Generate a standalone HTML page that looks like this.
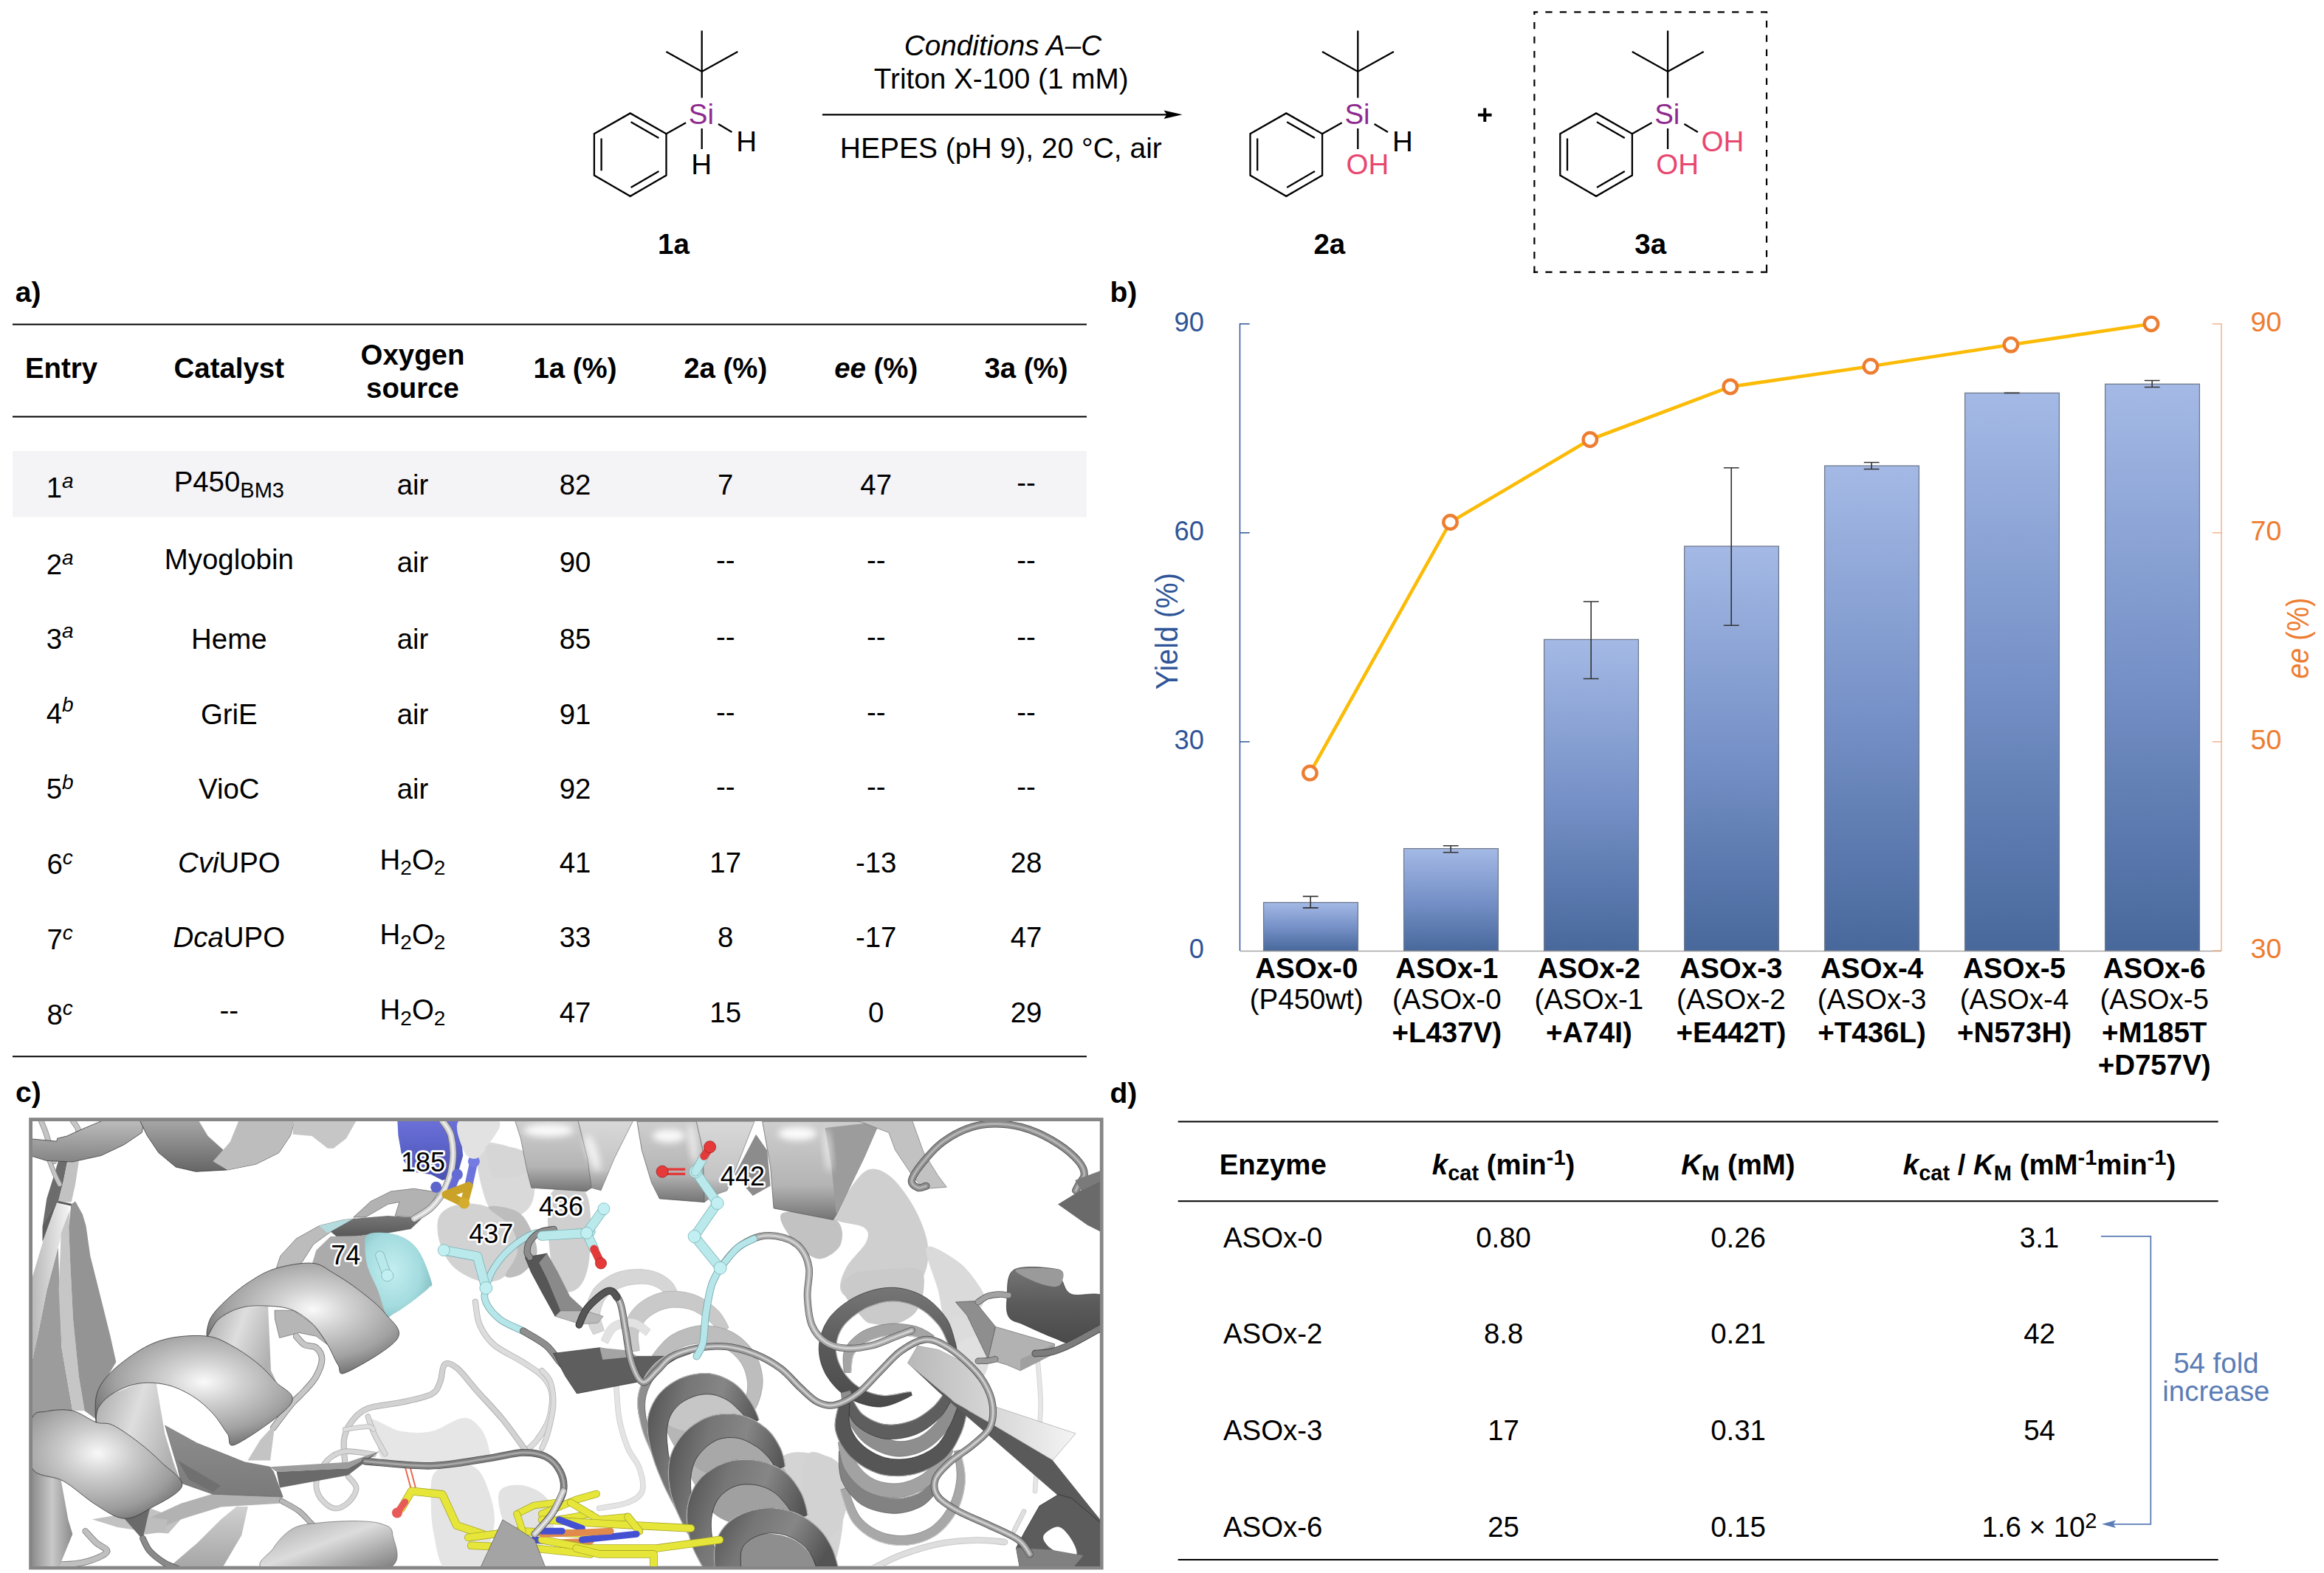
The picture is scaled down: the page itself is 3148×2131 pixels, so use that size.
<!DOCTYPE html>
<html><head><meta charset="utf-8"><title>Figure</title>
<style>
html,body{margin:0;padding:0;background:#fff;}
body{width:3148px;height:2131px;overflow:hidden;}
svg{display:block;font-family:"Liberation Sans",sans-serif;}
</style></head><body>
<svg width="3148" height="2131" viewBox="0 0 3148 2131">
<g stroke="#000" stroke-width="2.3" stroke-linecap="butt" fill="none">
<path d="M950.7 41.6 L950.7 132.4 M902.4 70 L950.7 96.9 L999.3 70"/>
<path d="M902.5 181.2 L853.7 153.4 L804.9 181.2 L804.9 237.6 L853.7 265.8 L902.5 237.6 Z" stroke-linejoin="miter"/>
<path d="M854.6 165.2 L892.4 186.9 M814.6 187.5 L814.6 231.3 M854.6 253.9 L892.4 231.9"/>
<path d="M902.5 181.2 L929.1 166.3"/>
<path d="M973.0 168 L991.4 178.9"/>
<path d="M950.7 174 L950.7 202"/>
</g>
<text x="949.9" y="167.5" font-size="38.5" text-anchor="middle" font-weight="normal" font-style="normal" fill="#8e2a8e" >Si</text>
<text x="1011.2" y="205.3" font-size="38.5" text-anchor="middle" font-weight="normal" font-style="normal" fill="#000" >H</text>
<text x="950.2" y="236.2" font-size="38.5" text-anchor="middle" font-weight="normal" font-style="normal" fill="#000" >H</text>
<g stroke="#000" stroke-width="2.3" stroke-linecap="butt" fill="none">
<path d="M1839.3 41.6 L1839.3 132.4 M1791.0 70 L1839.3 96.9 L1887.9 70"/>
<path d="M1791.1 181.2 L1742.3 153.4 L1693.5 181.2 L1693.5 237.6 L1742.3 265.8 L1791.1 237.6 Z" stroke-linejoin="miter"/>
<path d="M1743.2 165.2 L1781.0 186.9 M1703.2 187.5 L1703.2 231.3 M1743.2 253.9 L1781.0 231.9"/>
<path d="M1791.1 181.2 L1817.7 166.3"/>
<path d="M1861.6 168 L1880.0 178.9"/>
<path d="M1839.3 174 L1839.3 202"/>
</g>
<text x="1838.5" y="167.5" font-size="38.5" text-anchor="middle" font-weight="normal" font-style="normal" fill="#8e2a8e" >Si</text>
<text x="1899.8" y="205.3" font-size="38.5" text-anchor="middle" font-weight="normal" font-style="normal" fill="#000" >H</text>
<text x="1823.5" y="236.2" font-size="38.5" text-anchor="start" font-weight="normal" font-style="normal" fill="#e8476f" >OH</text>
<g stroke="#000" stroke-width="2.3" stroke-linecap="butt" fill="none">
<path d="M2259.1 41.6 L2259.1 132.4 M2210.8 70 L2259.1 96.9 L2307.7 70"/>
<path d="M2210.9 181.2 L2162.1 153.4 L2113.3 181.2 L2113.3 237.6 L2162.1 265.8 L2210.9 237.6 Z" stroke-linejoin="miter"/>
<path d="M2163.0 165.2 L2200.8 186.9 M2123.0 187.5 L2123.0 231.3 M2163.0 253.9 L2200.8 231.9"/>
<path d="M2210.9 181.2 L2237.5 166.3"/>
<path d="M2281.4 168 L2299.8 178.9"/>
<path d="M2259.1 174 L2259.1 202"/>
</g>
<text x="2258.3" y="167.5" font-size="38.5" text-anchor="middle" font-weight="normal" font-style="normal" fill="#8e2a8e" >Si</text>
<text x="2304.6" y="205.3" font-size="38.5" text-anchor="start" font-weight="normal" font-style="normal" fill="#e8476f" >OH</text>
<text x="2243.3" y="236.2" font-size="38.5" text-anchor="start" font-weight="normal" font-style="normal" fill="#e8476f" >OH</text>
<text x="912.4" y="344.0" font-size="38.5" text-anchor="middle" font-weight="bold" font-style="normal" fill="#000" >1a</text>
<text x="1800.8" y="344.0" font-size="38.5" text-anchor="middle" font-weight="bold" font-style="normal" fill="#000" >2a</text>
<text x="2235.7" y="344.0" font-size="38.5" text-anchor="middle" font-weight="bold" font-style="normal" fill="#000" >3a</text>
<line x1="1113.9" y1="155.3" x2="1585.0" y2="155.3" stroke="#000" stroke-width="2.3" />
<path d="M1601.5 155.3 L1576.5 149.6 L1580.5 155.3 L1576.5 161 Z" fill="#000"/>
<text x="1358.5" y="75.4" font-size="38.7" text-anchor="middle" font-weight="normal" font-style="italic" fill="#000" >Conditions A–C</text>
<text x="1356.2" y="119.5" font-size="38.7" text-anchor="middle" font-weight="normal" font-style="normal" fill="#000" >Triton X-100 (1 mM)</text>
<text x="1355.8" y="213.9" font-size="39.0" text-anchor="middle" font-weight="normal" font-style="normal" fill="#000" >HEPES (pH 9), 20 °C, air</text>
<path d="M2002 155.7 H2020.6 M2011.3 146.4 V165" stroke="#000" stroke-width="4" fill="none"/>
<line x1="2077.3" y1="16.3" x2="2394.1" y2="16.3" stroke="#000" stroke-width="2.2" stroke-dasharray="9.3 10.14" stroke-dashoffset="3.4"/>
<line x1="2078.4" y1="16.3" x2="2078.4" y2="369.8" stroke="#000" stroke-width="2.2" stroke-dasharray="9.3 10.14" stroke-dashoffset="5.7"/>
<line x1="2393.0" y1="16.3" x2="2393.0" y2="369.8" stroke="#000" stroke-width="2.2" stroke-dasharray="9.3 10.14" stroke-dashoffset="7.8"/>
<line x1="2077.3" y1="368.7" x2="2394.1" y2="368.7" stroke="#000" stroke-width="2.2" stroke-dasharray="9.3 10.14" stroke-dashoffset="3.4"/>
<text x="20.7" y="408.9" font-size="39" text-anchor="start" font-weight="bold" font-style="normal" fill="#000" >a)</text>
<line x1="17.0" y1="439.5" x2="1472.0" y2="439.5" stroke="#000" stroke-width="2" />
<line x1="17.0" y1="564.5" x2="1472.0" y2="564.5" stroke="#000" stroke-width="2" />
<line x1="17.0" y1="1431.3" x2="1472.0" y2="1431.3" stroke="#000" stroke-width="2" />
<rect x="17" y="611" width="1455" height="89.5" fill="#f4f3f6"/>
<text x="83.1" y="512.0" font-size="38.4" text-anchor="middle" font-weight="bold" font-style="normal" fill="#000" >Entry</text>
<text x="310.3" y="512.0" font-size="38.4" text-anchor="middle" font-weight="bold" font-style="normal" fill="#000" >Catalyst</text>
<text x="559.0" y="493.9" font-size="38.4" text-anchor="middle" font-weight="bold" font-style="normal" fill="#000" >Oxygen</text>
<text x="559.0" y="538.7" font-size="38.4" text-anchor="middle" font-weight="bold" font-style="normal" fill="#000" >source</text>
<text x="779.0" y="512.0" font-size="38.4" text-anchor="middle" font-weight="bold" font-style="normal" fill="#000" >1a (%)</text>
<text x="982.7" y="512.0" font-size="38.4" text-anchor="middle" font-weight="bold" font-style="normal" fill="#000" >2a (%)</text>
<text x="1186.7" y="512.0" font-size="38.4" text-anchor="middle" font-weight="bold" font-style="normal" fill="#000" ><tspan font-style="italic">ee</tspan> (%)</text>
<text x="1390.0" y="512.0" font-size="38.4" text-anchor="middle" font-weight="bold" font-style="normal" fill="#000" >3a (%)</text>
<text x="81.1" y="673.6" font-size="38.4" text-anchor="middle" font-weight="normal" font-style="normal" fill="#000" >1<tspan font-size="28" font-style="italic" dy="-12.6">a</tspan></text>
<text x="310.3" y="666.0" font-size="38.4" text-anchor="middle" font-weight="normal" font-style="normal" fill="#000" >P450<tspan font-size="29" dy="7.6">BM3</tspan></text>
<text x="559.0" y="670.0" font-size="38.4" text-anchor="middle" font-weight="normal" font-style="normal" fill="#000" >air</text>
<text x="779.0" y="670.0" font-size="38.4" text-anchor="middle" font-weight="normal" font-style="normal" fill="#000" >82</text>
<text x="982.7" y="670.0" font-size="38.4" text-anchor="middle" font-weight="normal" font-style="normal" fill="#000" >7</text>
<text x="1186.7" y="670.0" font-size="38.4" text-anchor="middle" font-weight="normal" font-style="normal" fill="#000" >47</text>
<text x="1390.0" y="666.8" font-size="38.4" text-anchor="middle" font-weight="normal" font-style="normal" fill="#000" >--</text>
<text x="81.1" y="777.6" font-size="38.4" text-anchor="middle" font-weight="normal" font-style="normal" fill="#000" >2<tspan font-size="28" font-style="italic" dy="-12.6">a</tspan></text>
<text x="310.3" y="770.7" font-size="38.4" text-anchor="middle" font-weight="normal" font-style="normal" fill="#000" >Myoglobin</text>
<text x="559.0" y="774.7" font-size="38.4" text-anchor="middle" font-weight="normal" font-style="normal" fill="#000" >air</text>
<text x="779.0" y="774.7" font-size="38.4" text-anchor="middle" font-weight="normal" font-style="normal" fill="#000" >90</text>
<text x="982.7" y="771.5" font-size="38.4" text-anchor="middle" font-weight="normal" font-style="normal" fill="#000" >--</text>
<text x="1186.7" y="771.5" font-size="38.4" text-anchor="middle" font-weight="normal" font-style="normal" fill="#000" >--</text>
<text x="1390.0" y="771.5" font-size="38.4" text-anchor="middle" font-weight="normal" font-style="normal" fill="#000" >--</text>
<text x="81.1" y="878.9" font-size="38.4" text-anchor="middle" font-weight="normal" font-style="normal" fill="#000" >3<tspan font-size="28" font-style="italic" dy="-15.4">a</tspan></text>
<text x="310.3" y="879.4" font-size="38.4" text-anchor="middle" font-weight="normal" font-style="normal" fill="#000" >Heme</text>
<text x="559.0" y="879.4" font-size="38.4" text-anchor="middle" font-weight="normal" font-style="normal" fill="#000" >air</text>
<text x="779.0" y="879.4" font-size="38.4" text-anchor="middle" font-weight="normal" font-style="normal" fill="#000" >85</text>
<text x="982.7" y="876.2" font-size="38.4" text-anchor="middle" font-weight="normal" font-style="normal" fill="#000" >--</text>
<text x="1186.7" y="876.2" font-size="38.4" text-anchor="middle" font-weight="normal" font-style="normal" fill="#000" >--</text>
<text x="1390.0" y="876.2" font-size="38.4" text-anchor="middle" font-weight="normal" font-style="normal" fill="#000" >--</text>
<text x="81.1" y="979.6" font-size="38.4" text-anchor="middle" font-weight="normal" font-style="normal" fill="#000" >4<tspan font-size="28" font-style="italic" dy="-15.4">b</tspan></text>
<text x="310.3" y="980.7" font-size="38.4" text-anchor="middle" font-weight="normal" font-style="normal" fill="#000" >GriE</text>
<text x="559.0" y="980.7" font-size="38.4" text-anchor="middle" font-weight="normal" font-style="normal" fill="#000" >air</text>
<text x="779.0" y="980.7" font-size="38.4" text-anchor="middle" font-weight="normal" font-style="normal" fill="#000" >91</text>
<text x="982.7" y="977.5" font-size="38.4" text-anchor="middle" font-weight="normal" font-style="normal" fill="#000" >--</text>
<text x="1186.7" y="977.5" font-size="38.4" text-anchor="middle" font-weight="normal" font-style="normal" fill="#000" >--</text>
<text x="1390.0" y="977.5" font-size="38.4" text-anchor="middle" font-weight="normal" font-style="normal" fill="#000" >--</text>
<text x="81.1" y="1081.5" font-size="38.4" text-anchor="middle" font-weight="normal" font-style="normal" fill="#000" >5<tspan font-size="28" font-style="italic" dy="-12.6">b</tspan></text>
<text x="310.3" y="1082.0" font-size="38.4" text-anchor="middle" font-weight="normal" font-style="normal" fill="#000" >VioC</text>
<text x="559.0" y="1082.0" font-size="38.4" text-anchor="middle" font-weight="normal" font-style="normal" fill="#000" >air</text>
<text x="779.0" y="1082.0" font-size="38.4" text-anchor="middle" font-weight="normal" font-style="normal" fill="#000" >92</text>
<text x="982.7" y="1078.8" font-size="38.4" text-anchor="middle" font-weight="normal" font-style="normal" fill="#000" >--</text>
<text x="1186.7" y="1078.8" font-size="38.4" text-anchor="middle" font-weight="normal" font-style="normal" fill="#000" >--</text>
<text x="1390.0" y="1078.8" font-size="38.4" text-anchor="middle" font-weight="normal" font-style="normal" fill="#000" >--</text>
<text x="81.1" y="1183.5" font-size="38.4" text-anchor="middle" font-weight="normal" font-style="normal" fill="#000" >6<tspan font-size="28" font-style="italic" dy="-12.6">c</tspan></text>
<text x="310.3" y="1181.5" font-size="38.4" text-anchor="middle" font-weight="normal" font-style="normal" fill="#000" ><tspan font-style="italic">Cvi</tspan>UPO</text>
<text x="559.0" y="1177.5" font-size="38.4" text-anchor="middle" font-weight="normal" font-style="normal" fill="#000" >H<tspan font-size="28" dy="7.6">2</tspan><tspan dy="-7.6">O</tspan><tspan font-size="28" dy="7.6">2</tspan></text>
<text x="779.0" y="1181.5" font-size="38.4" text-anchor="middle" font-weight="normal" font-style="normal" fill="#000" >41</text>
<text x="982.7" y="1181.5" font-size="38.4" text-anchor="middle" font-weight="normal" font-style="normal" fill="#000" >17</text>
<text x="1186.7" y="1181.5" font-size="38.4" text-anchor="middle" font-weight="normal" font-style="normal" fill="#000" >-13</text>
<text x="1390.0" y="1181.5" font-size="38.4" text-anchor="middle" font-weight="normal" font-style="normal" fill="#000" >28</text>
<text x="81.1" y="1285.5" font-size="38.4" text-anchor="middle" font-weight="normal" font-style="normal" fill="#000" >7<tspan font-size="28" font-style="italic" dy="-12.6">c</tspan></text>
<text x="310.3" y="1282.8" font-size="38.4" text-anchor="middle" font-weight="normal" font-style="normal" fill="#000" ><tspan font-style="italic">Dca</tspan>UPO</text>
<text x="559.0" y="1278.8" font-size="38.4" text-anchor="middle" font-weight="normal" font-style="normal" fill="#000" >H<tspan font-size="28" dy="7.6">2</tspan><tspan dy="-7.6">O</tspan><tspan font-size="28" dy="7.6">2</tspan></text>
<text x="779.0" y="1282.8" font-size="38.4" text-anchor="middle" font-weight="normal" font-style="normal" fill="#000" >33</text>
<text x="982.7" y="1282.8" font-size="38.4" text-anchor="middle" font-weight="normal" font-style="normal" fill="#000" >8</text>
<text x="1186.7" y="1282.8" font-size="38.4" text-anchor="middle" font-weight="normal" font-style="normal" fill="#000" >-17</text>
<text x="1390.0" y="1282.8" font-size="38.4" text-anchor="middle" font-weight="normal" font-style="normal" fill="#000" >47</text>
<text x="81.1" y="1387.9" font-size="38.4" text-anchor="middle" font-weight="normal" font-style="normal" fill="#000" >8<tspan font-size="28" font-style="italic" dy="-12.6">c</tspan></text>
<text x="310.3" y="1382.2" font-size="38.4" text-anchor="middle" font-weight="normal" font-style="normal" fill="#000" >--</text>
<text x="559.0" y="1381.4" font-size="38.4" text-anchor="middle" font-weight="normal" font-style="normal" fill="#000" >H<tspan font-size="28" dy="7.6">2</tspan><tspan dy="-7.6">O</tspan><tspan font-size="28" dy="7.6">2</tspan></text>
<text x="779.0" y="1385.4" font-size="38.4" text-anchor="middle" font-weight="normal" font-style="normal" fill="#000" >47</text>
<text x="982.7" y="1385.4" font-size="38.4" text-anchor="middle" font-weight="normal" font-style="normal" fill="#000" >15</text>
<text x="1186.7" y="1385.4" font-size="38.4" text-anchor="middle" font-weight="normal" font-style="normal" fill="#000" >0</text>
<text x="1390.0" y="1385.4" font-size="38.4" text-anchor="middle" font-weight="normal" font-style="normal" fill="#000" >29</text>
<text x="1503.5" y="409.0" font-size="39" text-anchor="start" font-weight="bold" font-style="normal" fill="#000" >b)</text>
<defs><linearGradient id="barg" x1="0" y1="0" x2="0" y2="1"><stop offset="0" stop-color="#a4b9e5"/><stop offset="0.5" stop-color="#7792c8"/><stop offset="1" stop-color="#48689c"/></linearGradient></defs>
<line x1="1679.5" y1="438.1" x2="1679.5" y2="1287.9" stroke="#2f5597" stroke-width="1.5" />
<line x1="3009.0" y1="438.1" x2="3009.0" y2="1287.9" stroke="#f2ae86" stroke-width="1.4" />
<line x1="1679.5" y1="1288.5" x2="3009.0" y2="1288.5" stroke="#a6a6a6" stroke-width="1.6" />
<line x1="1679.5" y1="438.8" x2="1692.7" y2="438.8" stroke="#2f5597" stroke-width="1.5" />
<line x1="1679.5" y1="721.8" x2="1692.7" y2="721.8" stroke="#2f5597" stroke-width="1.5" />
<line x1="1679.5" y1="1004.9" x2="1692.7" y2="1004.9" stroke="#2f5597" stroke-width="1.5" />
<line x1="2996.8" y1="438.8" x2="3009.0" y2="438.8" stroke="#f2ae86" stroke-width="1.4" />
<line x1="2996.8" y1="721.8" x2="3009.0" y2="721.8" stroke="#f2ae86" stroke-width="1.4" />
<line x1="2996.8" y1="1004.9" x2="3009.0" y2="1004.9" stroke="#f2ae86" stroke-width="1.4" />
<line x1="2996.8" y1="1287.9" x2="3009.0" y2="1287.9" stroke="#f2ae86" stroke-width="1.4" />
<text x="1631.0" y="448.6" font-size="37.8" text-anchor="end" font-weight="normal" font-style="normal" fill="#2f5597" textLength="40.4" lengthAdjust="spacingAndGlyphs">90</text>
<text x="1631.0" y="731.6" font-size="37.8" text-anchor="end" font-weight="normal" font-style="normal" fill="#2f5597" textLength="40.4" lengthAdjust="spacingAndGlyphs">60</text>
<text x="1631.0" y="1014.7" font-size="37.8" text-anchor="end" font-weight="normal" font-style="normal" fill="#2f5597" textLength="40.4" lengthAdjust="spacingAndGlyphs">30</text>
<text x="1631.0" y="1297.7" font-size="37.8" text-anchor="end" font-weight="normal" font-style="normal" fill="#2f5597" textLength="20.2" lengthAdjust="spacingAndGlyphs">0</text>
<text x="3048.6" y="448.6" font-size="37.8" text-anchor="start" font-weight="normal" font-style="normal" fill="#ed7d31" textLength="42" lengthAdjust="spacingAndGlyphs">90</text>
<text x="3048.6" y="731.6" font-size="37.8" text-anchor="start" font-weight="normal" font-style="normal" fill="#ed7d31" textLength="42" lengthAdjust="spacingAndGlyphs">70</text>
<text x="3048.6" y="1014.7" font-size="37.8" text-anchor="start" font-weight="normal" font-style="normal" fill="#ed7d31" textLength="42" lengthAdjust="spacingAndGlyphs">50</text>
<text x="3048.6" y="1297.7" font-size="37.8" text-anchor="start" font-weight="normal" font-style="normal" fill="#ed7d31" textLength="42" lengthAdjust="spacingAndGlyphs">30</text>
<text x="0.0" y="0.0" font-size="43" text-anchor="middle" font-weight="normal" font-style="normal" fill="#2f5597" transform="translate(1595.3,855.2) rotate(-90)" textLength="158" lengthAdjust="spacingAndGlyphs">Yield (%)</text>
<g transform="translate(3126.5,864.6) rotate(-90) scale(0.8685,1)"><text x="0" y="0" font-size="43" text-anchor="middle" fill="#ed7d31"><tspan font-style="italic">ee</tspan> (%)</text></g>
<rect x="1711.6" y="1222.6" width="127.8" height="65.3" fill="url(#barg)" stroke="#6f7a8c" stroke-width="1.3"/>
<rect x="1901.6" y="1149.6" width="127.8" height="138.3" fill="url(#barg)" stroke="#6f7a8c" stroke-width="1.3"/>
<rect x="2091.6" y="866.4" width="127.8" height="421.5" fill="url(#barg)" stroke="#6f7a8c" stroke-width="1.3"/>
<rect x="2281.6" y="740.0" width="127.8" height="547.9" fill="url(#barg)" stroke="#6f7a8c" stroke-width="1.3"/>
<rect x="2471.6" y="631.0" width="127.8" height="656.9" fill="url(#barg)" stroke="#6f7a8c" stroke-width="1.3"/>
<rect x="2661.6" y="532.4" width="127.8" height="755.5" fill="url(#barg)" stroke="#6f7a8c" stroke-width="1.3"/>
<rect x="2851.6" y="520.3" width="127.8" height="767.6" fill="url(#barg)" stroke="#6f7a8c" stroke-width="1.3"/>
<path d="M1775.2 1214.4 V1229.9 M1764.8 1214.4 H1785.6 M1764.8 1229.9 H1785.6" stroke="#333" stroke-width="1.6" fill="none"/>
<path d="M1965.2 1145.7 V1154.7 M1954.8 1145.7 H1975.6 M1954.8 1154.7 H1975.6" stroke="#333" stroke-width="1.6" fill="none"/>
<path d="M2155.2 815.0 V919.5 M2144.8 815.0 H2165.6 M2144.8 919.5 H2165.6" stroke="#333" stroke-width="1.6" fill="none"/>
<path d="M2345.2 633.8 V847.2 M2334.8 633.8 H2355.6 M2334.8 847.2 H2355.6" stroke="#333" stroke-width="1.6" fill="none"/>
<path d="M2535.2 626.5 V635.5 M2524.8 626.5 H2545.6 M2524.8 635.5 H2545.6" stroke="#333" stroke-width="1.6" fill="none"/>
<path d="M2725.2 532.4 V532.4 M2714.8 532.4 H2735.6 M2714.8 532.4 H2735.6" stroke="#333" stroke-width="1.6" fill="none"/>
<path d="M2915.2 515.5 V524.5 M2904.8 515.5 H2925.6 M2904.8 524.5 H2925.6" stroke="#333" stroke-width="1.6" fill="none"/>
<polyline points="1774.4,1047.2 1964.5,707.5 2153.8,595.5 2343.8,523.9 2533.9,496.2 2723.9,467.1 2914.0,438.8" fill="none" stroke="#fbbb06" stroke-width="4.6" stroke-linejoin="round"/>
<circle cx="1774.4" cy="1047.2" r="9.2" fill="#fff" stroke="#ed7d31" stroke-width="4.4"/>
<circle cx="1964.5" cy="707.5" r="9.2" fill="#fff" stroke="#ed7d31" stroke-width="4.4"/>
<circle cx="2153.8" cy="595.5" r="9.2" fill="#fff" stroke="#ed7d31" stroke-width="4.4"/>
<circle cx="2343.8" cy="523.9" r="9.2" fill="#fff" stroke="#ed7d31" stroke-width="4.4"/>
<circle cx="2533.9" cy="496.2" r="9.2" fill="#fff" stroke="#ed7d31" stroke-width="4.4"/>
<circle cx="2723.9" cy="467.1" r="9.2" fill="#fff" stroke="#ed7d31" stroke-width="4.4"/>
<circle cx="2914.0" cy="438.8" r="9.2" fill="#fff" stroke="#ed7d31" stroke-width="4.4"/>
<text x="1769.8" y="1324.9" font-size="38.5" text-anchor="middle" font-weight="bold" font-style="normal" fill="#000" >ASOx-0</text>
<text x="1769.8" y="1367.0" font-size="38.5" text-anchor="middle" font-weight="normal" font-style="normal" fill="#000" >(P450wt)</text>
<text x="1959.8" y="1324.9" font-size="38.5" text-anchor="middle" font-weight="bold" font-style="normal" fill="#000" >ASOx-1</text>
<text x="1959.8" y="1367.0" font-size="38.5" text-anchor="middle" font-weight="normal" font-style="normal" fill="#000" >(ASOx-0</text>
<text x="1959.8" y="1411.8" font-size="38.5" text-anchor="middle" font-weight="bold" font-style="normal" fill="#000" >+L437V)</text>
<text x="2152.4" y="1324.9" font-size="38.5" text-anchor="middle" font-weight="bold" font-style="normal" fill="#000" >ASOx-2</text>
<text x="2152.4" y="1367.0" font-size="38.5" text-anchor="middle" font-weight="normal" font-style="normal" fill="#000" >(ASOx-1</text>
<text x="2152.4" y="1411.8" font-size="38.5" text-anchor="middle" font-weight="bold" font-style="normal" fill="#000" >+A74I)</text>
<text x="2344.9" y="1324.9" font-size="38.5" text-anchor="middle" font-weight="bold" font-style="normal" fill="#000" >ASOx-3</text>
<text x="2344.9" y="1367.0" font-size="38.5" text-anchor="middle" font-weight="normal" font-style="normal" fill="#000" >(ASOx-2</text>
<text x="2344.9" y="1411.8" font-size="38.5" text-anchor="middle" font-weight="bold" font-style="normal" fill="#000" >+E442T)</text>
<text x="2535.6" y="1324.9" font-size="38.5" text-anchor="middle" font-weight="bold" font-style="normal" fill="#000" >ASOx-4</text>
<text x="2535.6" y="1367.0" font-size="38.5" text-anchor="middle" font-weight="normal" font-style="normal" fill="#000" >(ASOx-3</text>
<text x="2535.6" y="1411.8" font-size="38.5" text-anchor="middle" font-weight="bold" font-style="normal" fill="#000" >+T436L)</text>
<text x="2728.5" y="1324.9" font-size="38.5" text-anchor="middle" font-weight="bold" font-style="normal" fill="#000" >ASOx-5</text>
<text x="2728.5" y="1367.0" font-size="38.5" text-anchor="middle" font-weight="normal" font-style="normal" fill="#000" >(ASOx-4</text>
<text x="2728.5" y="1411.8" font-size="38.5" text-anchor="middle" font-weight="bold" font-style="normal" fill="#000" >+N573H)</text>
<text x="2918.2" y="1324.9" font-size="38.5" text-anchor="middle" font-weight="bold" font-style="normal" fill="#000" >ASOx-6</text>
<text x="2918.2" y="1367.0" font-size="38.5" text-anchor="middle" font-weight="normal" font-style="normal" fill="#000" >(ASOx-5</text>
<text x="2918.2" y="1411.8" font-size="38.5" text-anchor="middle" font-weight="bold" font-style="normal" fill="#000" >+M185T</text>
<text x="2918.2" y="1455.8" font-size="38.5" text-anchor="middle" font-weight="bold" font-style="normal" fill="#000" >+D757V)</text>
<text x="1503.5" y="1494.0" font-size="39" text-anchor="start" font-weight="bold" font-style="normal" fill="#000" >d)</text>
<line x1="1595.7" y1="1519.5" x2="3004.7" y2="1519.5" stroke="#000" stroke-width="2" />
<line x1="1595.7" y1="1627.3" x2="3004.7" y2="1627.3" stroke="#000" stroke-width="2" />
<line x1="1595.7" y1="2113.0" x2="3004.7" y2="2113.0" stroke="#000" stroke-width="2" />
<text x="1724.2" y="1590.9" font-size="38.4" text-anchor="middle" font-weight="bold" font-style="normal" fill="#000" >Enzyme</text>
<text x="2036.6" y="1590.9" font-size="38.4" text-anchor="middle" font-weight="bold" font-style="normal" fill="#000" ><tspan font-style="italic">k</tspan><tspan font-size="29" dy="7.6">cat</tspan><tspan dy="-7.6"> (min</tspan><tspan font-size="29" dy="-12.7">-1</tspan><tspan dy="12.7">)</tspan></text>
<text x="2354.5" y="1590.9" font-size="38.4" text-anchor="middle" font-weight="bold" font-style="normal" fill="#000" ><tspan font-style="italic">K</tspan><tspan font-size="29" dy="7.6">M</tspan><tspan dy="-7.6"> (mM)</tspan></text>
<text x="2762.5" y="1590.9" font-size="38.4" text-anchor="middle" font-weight="bold" font-style="normal" fill="#000" ><tspan font-style="italic">k</tspan><tspan font-size="29" dy="7.6">cat</tspan><tspan dy="-7.6"> / </tspan><tspan font-style="italic">K</tspan><tspan font-size="29" dy="7.6">M</tspan><tspan dy="-7.6"> (mM</tspan><tspan font-size="29" dy="-12.7">-1</tspan><tspan dy="12.7">min</tspan><tspan font-size="29" dy="-12.7">-1</tspan><tspan dy="12.7">)</tspan></text>
<text x="1724.2" y="1690.3" font-size="38.4" text-anchor="middle" font-weight="normal" font-style="normal" fill="#000" >ASOx-0</text>
<text x="2036.6" y="1690.3" font-size="38.4" text-anchor="middle" font-weight="normal" font-style="normal" fill="#000" >0.80</text>
<text x="2354.5" y="1690.3" font-size="38.4" text-anchor="middle" font-weight="normal" font-style="normal" fill="#000" >0.26</text>
<text x="2762.5" y="1690.3" font-size="38.4" text-anchor="middle" font-weight="normal" font-style="normal" fill="#000" >3.1</text>
<text x="1724.2" y="1820.0" font-size="38.4" text-anchor="middle" font-weight="normal" font-style="normal" fill="#000" >ASOx-2</text>
<text x="2036.6" y="1820.0" font-size="38.4" text-anchor="middle" font-weight="normal" font-style="normal" fill="#000" >8.8</text>
<text x="2354.5" y="1820.0" font-size="38.4" text-anchor="middle" font-weight="normal" font-style="normal" fill="#000" >0.21</text>
<text x="2762.5" y="1820.0" font-size="38.4" text-anchor="middle" font-weight="normal" font-style="normal" fill="#000" >42</text>
<text x="1724.2" y="1951.0" font-size="38.4" text-anchor="middle" font-weight="normal" font-style="normal" fill="#000" >ASOx-3</text>
<text x="2036.6" y="1951.0" font-size="38.4" text-anchor="middle" font-weight="normal" font-style="normal" fill="#000" >17</text>
<text x="2354.5" y="1951.0" font-size="38.4" text-anchor="middle" font-weight="normal" font-style="normal" fill="#000" >0.31</text>
<text x="2762.5" y="1951.0" font-size="38.4" text-anchor="middle" font-weight="normal" font-style="normal" fill="#000" >54</text>
<text x="1724.2" y="2082.2" font-size="38.4" text-anchor="middle" font-weight="normal" font-style="normal" fill="#000" >ASOx-6</text>
<text x="2036.6" y="2082.2" font-size="38.4" text-anchor="middle" font-weight="normal" font-style="normal" fill="#000" >25</text>
<text x="2354.5" y="2082.2" font-size="38.4" text-anchor="middle" font-weight="normal" font-style="normal" fill="#000" >0.15</text>
<text x="2762.5" y="2082.2" font-size="38.4" text-anchor="middle" font-weight="normal" font-style="normal" fill="#000" >1.6 × 10<tspan font-size="29" dy="-12.7">2</tspan></text>
<path d="M2845.9 1674.8 H2913.3 V2064.8 H2858" fill="none" stroke="#5b7db5" stroke-width="1.8"/>
<path d="M2847 2064.8 L2866 2059.6 L2862.5 2064.8 L2866 2070 Z" fill="#5b7db5"/>
<text x="3001.9" y="1859.9" font-size="38.4" text-anchor="middle" font-weight="normal" font-style="normal" fill="#5b7db5" >54 fold</text>
<text x="3001.9" y="1898.1" font-size="38.4" text-anchor="middle" font-weight="normal" font-style="normal" fill="#5b7db5" >increase</text>
<text x="21.0" y="1492.5" font-size="39" text-anchor="start" font-weight="bold" font-style="normal" fill="#000" >c)</text>
<defs>
<filter id="bl" x="-50%" y="-50%" width="200%" height="200%"><feGaussianBlur stdDeviation="5"/></filter>
<filter id="bl2" x="-50%" y="-50%" width="200%" height="200%"><feGaussianBlur stdDeviation="2.5"/></filter>
<linearGradient id="gstr" x1="0" y1="0" x2="0" y2="1"><stop offset="0" stop-color="#8e8e8e"/><stop offset="1" stop-color="#7a7a7a"/></linearGradient>
<linearGradient id="gband" x1="0" y1="0" x2="1" y2="0.4"><stop offset="0" stop-color="#a8a8a8"/><stop offset="0.5" stop-color="#dedede"/><stop offset="1" stop-color="#b0b0b0"/></linearGradient>
<linearGradient id="garch" x1="0" y1="0" x2="1" y2="0.3"><stop offset="0" stop-color="#4e4e4e"/><stop offset="0.35" stop-color="#767676"/><stop offset="0.65" stop-color="#868686"/><stop offset="1" stop-color="#545454"/></linearGradient>
<linearGradient id="gring" x1="0" y1="0" x2="0" y2="1"><stop offset="0" stop-color="#767676"/><stop offset="0.5" stop-color="#5a5a5a"/><stop offset="1" stop-color="#4a4a4a"/></linearGradient>
<linearGradient id="gchunk" x1="0" y1="0" x2="0" y2="1"><stop offset="0" stop-color="#cecece"/><stop offset="0.65" stop-color="#b4b4b4"/><stop offset="1" stop-color="#747474"/></linearGradient>
<linearGradient id="gchunk2" x1="0" y1="0" x2="0" y2="1"><stop offset="0" stop-color="#d8d8d8"/><stop offset="0.7" stop-color="#c4c4c4"/><stop offset="1" stop-color="#8c8c8c"/></linearGradient>
<clipPath id="pc"><rect x="44" y="1519" width="1446" height="603"/></clipPath>
<linearGradient id="gv1" x1="0" y1="0" x2="0" y2="1"><stop offset="0" stop-color="#bcbcbc"/><stop offset="1" stop-color="#848484"/></linearGradient>
<linearGradient id="gv2" x1="0" y1="0" x2="0" y2="1"><stop offset="0" stop-color="#a6a6a6"/><stop offset="1" stop-color="#666"/></linearGradient>
<linearGradient id="gv3" x1="0" y1="0" x2="0" y2="1"><stop offset="0" stop-color="#cfcfcf"/><stop offset="1" stop-color="#a2a2a2"/></linearGradient>
<linearGradient id="gh1" x1="0" y1="0" x2="1" y2="0"><stop offset="0" stop-color="#8c8c8c"/><stop offset="0.5" stop-color="#c9c9c9"/><stop offset="1" stop-color="#8a8a8a"/></linearGradient>
<linearGradient id="gh2" x1="0" y1="0" x2="1" y2="0"><stop offset="0" stop-color="#b8b8b8"/><stop offset="1" stop-color="#f4f4f4"/></linearGradient>
<linearGradient id="gd1" x1="0" y1="0" x2="1" y2="1"><stop offset="0" stop-color="#a8a8a8"/><stop offset="0.45" stop-color="#dcdcdc"/><stop offset="1" stop-color="#747474"/></linearGradient>
<radialGradient id="rh1" cx="0.55" cy="0.42" r="0.62"><stop offset="0" stop-color="#fafafa"/><stop offset="0.3" stop-color="#d2d2d2"/><stop offset="0.72" stop-color="#a2a2a2"/><stop offset="1" stop-color="#6e6e6e"/></radialGradient>
<radialGradient id="rh2" cx="0.45" cy="0.4" r="0.65"><stop offset="0" stop-color="#f8f8f8"/><stop offset="0.35" stop-color="#cccccc"/><stop offset="0.8" stop-color="#9c9c9c"/><stop offset="1" stop-color="#787878"/></radialGradient>
<radialGradient id="rh3" cx="0.4" cy="0.35" r="0.7"><stop offset="0" stop-color="#efefef"/><stop offset="0.4" stop-color="#c4c4c4"/><stop offset="1" stop-color="#8c8c8c"/></radialGradient>
<linearGradient id="gblue" x1="0" y1="0" x2="0" y2="1"><stop offset="0" stop-color="#6a70d8"/><stop offset="1" stop-color="#4a52b4"/></linearGradient>
<radialGradient id="rcy" cx="0.4" cy="0.45" r="0.7"><stop offset="0" stop-color="#c4eef0"/><stop offset="0.6" stop-color="#a4dcdf"/><stop offset="1" stop-color="#7fb9bd"/></radialGradient>
<linearGradient id="gdk" x1="0" y1="0" x2="0" y2="1"><stop offset="0" stop-color="#7e7e7e"/><stop offset="1" stop-color="#555"/></linearGradient>
<linearGradient id="gdk2" x1="0" y1="0" x2="1" y2="0"><stop offset="0" stop-color="#4e4e4e"/><stop offset="0.5" stop-color="#7c7c7c"/><stop offset="1" stop-color="#5a5a5a"/></linearGradient>
</defs>
<rect x="41.6" y="1516.6" width="1450.6" height="607.4" fill="#fff" stroke="#868686" stroke-width="4.8"/>
<g clip-path="url(#pc)">
<path d="M78.8 1573.3 L91.3 1573.3 L85.8 1600.5 L78.8 1628.4 L63.3 1654.8 L57.5 1661.8 L63.3 1623.8 L73.0 1592.7 Z" fill="#6c6c6c" stroke="none" stroke-width="1" opacity="1" stroke-linejoin="round"/>
<path d="M91.3 1573.3 L106.8 1573.3 L102.1 1604.3 L96.7 1628.4 L78.8 1628.4 L85.8 1600.5 Z" fill="#c2c2c2" stroke="none" stroke-width="1" opacity="1" stroke-linejoin="round"/>
<path d="M57.5 1661.8 L76.9 1629.6 L59.4 1678.1 L57.5 1682.0 Z" fill="#5e5e5e" stroke="none" stroke-width="1" opacity="1" stroke-linejoin="round"/>
<path d="M63.3 1748.1 L78.8 1689.8 L80.8 1748.1 L83.5 1825.7 L98.3 1911.2 L63.3 1911.2 L43.1 1923.6 L43.1 1845.2 L51.7 1806.3 Z" fill="#9c9c9c" stroke="none" stroke-width="1" opacity="1" stroke-linejoin="round"/>
<path d="M76.9 1629.6 L94.4 1635.4 L78.8 1689.8 L63.3 1748.1 L51.7 1806.3 L43.1 1845.2 L43.1 1732.5 L59.4 1678.1 Z" fill="url(#gh2)" stroke="none" stroke-width="1" opacity="1" stroke-linejoin="round"/>
<path d="M82.7 1670.4 L94.4 1639.3 L93.2 1662.6 L95.1 1709.2 L99.0 1786.9 L106.8 1864.6 L114.6 1911.2 L98.3 1911.2 L83.5 1825.7 L79.6 1748.1 Z" fill="#c6c6c6" stroke="none" stroke-width="1" opacity="1" stroke-linejoin="round"/>
<path d="M96.3 1631.5 L102.1 1627.6 L111.8 1645.1 L116.5 1660.7 L122.3 1701.4 L134.0 1748.1 L149.5 1810.2 L157.3 1845.2 L131.7 1887.9 L130.1 1922.8 L114.6 1911.2 L106.8 1864.6 L99.0 1786.9 L95.1 1709.2 L93.2 1662.6 Z" fill="#949494" stroke="none" stroke-width="1" opacity="1" stroke-linejoin="round"/>
<path d="M78.8 1628.4 L96.7 1632.3" fill="none" stroke="#5a5a5a" stroke-width="3" stroke-linecap="butt" stroke-linejoin="round" opacity="1"/>
<path d="M55.5 1518.1 C56.8 1521.5 60.4 1529.1 63.3 1538.3 C66.2 1547.5 71.4 1567.4 73.0 1573.3" fill="none" stroke="#8a8a8a" stroke-width="7.6" stroke-linecap="round" stroke-linejoin="round" opacity="1"/>
<path d="M55.5 1518.1 C56.8 1521.5 60.4 1529.1 63.3 1538.3 C66.2 1547.5 71.4 1567.4 73.0 1573.3" fill="none" stroke="#c4c4c4" stroke-width="6" stroke-linecap="round" stroke-linejoin="round" opacity="1"/>
<path d="M98.3 1518.1 C99.5 1520.2 105.0 1526.5 106.0 1530.5 C107.0 1534.6 104.4 1540.2 104.1 1542.2" fill="none" stroke="#8a8a8a" stroke-width="7.6" stroke-linecap="round" stroke-linejoin="round" opacity="1"/>
<path d="M98.3 1518.1 C99.5 1520.2 105.0 1526.5 106.0 1530.5 C107.0 1534.6 104.4 1540.2 104.1 1542.2" fill="none" stroke="#c8c8c8" stroke-width="6" stroke-linecap="round" stroke-linejoin="round" opacity="1"/>
<path d="M67.2 1573.3 C68.5 1576.5 72.7 1587.5 75.0 1592.7 C77.2 1597.9 79.8 1602.4 80.8 1604.3" fill="none" stroke="#8a8a8a" stroke-width="6.6" stroke-linecap="round" stroke-linejoin="round" opacity="1"/>
<path d="M67.2 1573.3 C68.5 1576.5 72.7 1587.5 75.0 1592.7 C77.2 1597.9 79.8 1602.4 80.8 1604.3" fill="none" stroke="#c4c4c4" stroke-width="5" stroke-linecap="round" stroke-linejoin="round" opacity="1"/>
<path d="M43.1 1543.0 L76.9 1546.1 L77.7 1542.2 L90.5 1539.1 L113.8 1528.6 L139.0 1518.1 L195.3 1518.1 L192.2 1534.4 L168.2 1550.7 L137.1 1565.5 L98.3 1574.0 L63.3 1572.5 L43.1 1566.3 Z" fill="url(#gv1)" stroke="#3c3c3c" stroke-width="0.8" opacity="1" stroke-linejoin="round"/>
<path d="M189.5 1518.1 L399.2 1518.1 L393.4 1538.3 L377.9 1561.6 L346.8 1577.1 L308.0 1584.9 L265.2 1587.2 L238.1 1581.0 L214.8 1561.6 L199.2 1538.3 Z" fill="url(#gv2)" stroke="#333" stroke-width="0.8" opacity="1" stroke-linejoin="round"/>
<path d="M311.8 1546.9 L323.5 1518.1 L399.2 1518.1 L393.4 1538.3 L377.9 1561.6 L346.8 1577.1 L308.0 1584.9 L288.5 1573.3 Z" fill="#bdbdbd" stroke="none" stroke-width="1" opacity="1" stroke-linejoin="round"/>
<path d="M269.1 1518.1 L323.5 1518.1 L311.8 1546.9 L302.5 1557.7 L281.6 1539.1 Z" fill="#fff" stroke="none" stroke-width="1" opacity="1" stroke-linejoin="round"/>
<path d="M398.1 1518.1 L482.7 1518.1 L469.1 1542.2 L451.7 1555.8 L443.9 1555.8 L422.5 1539.1 L396.5 1536.8 Z" fill="#c6c6c6" stroke="none" stroke-width="1" opacity="1" stroke-linejoin="round"/>
<path d="M645.8 1553.8 C649.7 1543.5 666.5 1548.0 676.9 1550.0 C687.2 1551.9 700.2 1557.1 708.0 1565.5 C715.7 1573.9 721.6 1589.4 723.5 1600.5 C725.4 1611.5 723.5 1623.8 719.6 1631.5 C715.7 1639.3 708.6 1645.1 700.2 1647.1 C691.8 1649.0 676.9 1649.0 669.1 1643.2 C661.4 1637.4 657.5 1627.0 653.6 1612.1 C649.7 1597.2 641.9 1564.2 645.8 1553.8 Z" fill="#d9d9d9" stroke="none" stroke-width="1" opacity="1" stroke-linejoin="round"/>
<path d="M595.3 1647.1 C599.9 1638.6 611.5 1633.5 622.5 1631.5 C633.5 1629.6 649.7 1630.2 661.4 1635.4 C673.0 1640.6 686.0 1652.2 692.4 1662.6 C698.9 1673.0 701.5 1686.6 700.2 1697.6 C698.9 1708.6 692.4 1722.2 684.7 1728.6 C676.9 1735.1 665.2 1738.3 653.6 1736.4 C641.9 1734.5 624.5 1726.0 614.8 1717.0 C605.0 1707.9 598.6 1693.7 595.3 1682.0 C592.1 1670.4 590.8 1655.5 595.3 1647.1 Z" fill="#d2d2d2" stroke="none" stroke-width="1" opacity="1" stroke-linejoin="round"/>
<path d="M661.4 1635.4 C660.7 1639.3 686.0 1652.2 692.4 1662.6 C698.9 1673.0 701.5 1686.6 700.2 1697.6 C698.9 1708.6 683.4 1724.1 684.7 1728.6 C686.0 1733.2 700.8 1729.9 708.0 1724.7 C715.1 1719.6 726.1 1708.6 727.4 1697.6 C728.7 1686.6 720.9 1668.4 715.7 1658.7 C710.6 1649.0 705.4 1643.2 696.3 1639.3 C687.2 1635.4 662.0 1631.5 661.4 1635.4 Z" fill="#bdbdbd" stroke="none" stroke-width="1" opacity="1" stroke-linejoin="round"/>
<path d="M538.3 1518.1 L622.5 1518.1 L627.2 1565.5 L619.4 1592.7 L599.2 1598.9 L583.7 1591.1 L556.5 1587.2 L544.9 1569.4 L539.4 1538.3 Z" fill="url(#gblue)" stroke="none" stroke-width="1" opacity="1" stroke-linejoin="round"/>
<path d="M478.8 1649.0 L502.1 1627.6 L529.3 1614.0 L560.4 1610.2 L593.4 1615.2 L583.7 1631.5 L562.3 1649.0 L535.1 1647.1 L541.0 1628.4 L525.4 1631.5 L495.1 1649.0 Z" fill="#b2b2b2" stroke="#555" stroke-width="0.6" opacity="1" stroke-linejoin="round"/>
<path d="M374.0 1718.9 L379.8 1701.4 L401.2 1678.1 L432.2 1660.7 L463.3 1652.9 L480.8 1650.9 L448.5 1668.4 L424.5 1685.9 L409.7 1709.2 L405.0 1713.9 Z" fill="#bcbcbc" stroke="#555" stroke-width="0.6" opacity="1" stroke-linejoin="round"/>
<path d="M432.2 1660.7 L463.3 1652.9 L480.8 1650.9 L467.2 1658.7 L443.9 1670.4 Z" fill="#b4dcde" stroke="none" stroke-width="1" opacity="1" stroke-linejoin="round"/>
<path d="M447.8 1668.4 L478.8 1650.9 L525.4 1647.1 L560.4 1649.4 L580.6 1639.3 L568.9 1653.3 L556.5 1664.9 L525.4 1670.4 L486.6 1674.3 L459.4 1678.1 Z" fill="url(#gdk)" stroke="none" stroke-width="1" opacity="1" stroke-linejoin="round"/>
<path d="M422.5 1713.1 L428.3 1693.7 L447.8 1675.0 L486.6 1674.3 L499.0 1672.3 L495.1 1697.6 L502.9 1724.7 L518.4 1751.9 L522.3 1779.9 L486.6 1748.1 L451.7 1724.7 Z" fill="#ababab" stroke="none" stroke-width="1" opacity="1" stroke-linejoin="round"/>
<path d="M498.3 1672.3 C503.4 1669.1 516.9 1669.4 525.4 1670.4 C534.0 1671.3 542.3 1673.6 549.5 1678.1 C556.8 1682.7 563.1 1687.8 568.9 1697.6 C574.8 1707.3 582.5 1728.5 584.5 1736.4 C586.4 1744.3 585.2 1740.3 580.6 1744.9 C575.9 1749.6 564.4 1758.5 556.5 1764.4 C548.6 1770.2 538.7 1777.1 533.2 1779.9 C527.7 1782.8 527.1 1786.8 523.5 1781.5 C519.9 1776.2 516.1 1758.8 511.8 1748.1 C507.6 1737.3 501.2 1726.7 498.3 1717.0 C495.3 1707.3 494.4 1697.2 494.4 1689.8 C494.4 1682.3 493.1 1675.5 498.3 1672.3 Z" fill="url(#rcy)" stroke="none" stroke-width="1" opacity="1" stroke-linejoin="round"/>
<path d="M514.6 1700.7 L523.9 1726.7" fill="none" stroke="#7db4b8" stroke-width="12.6" stroke-linecap="round" stroke-linejoin="round" opacity="1"/>
<path d="M514.6 1700.7 L523.9 1726.7" fill="none" stroke="#b9e9eb" stroke-width="11" stroke-linecap="round" stroke-linejoin="round" opacity="1"/>
<circle cx="524.7" cy="1727.9" r="8" fill="#c2eff1" stroke="#7db4b8" stroke-width="0.8"/>
<path d="M599.2 1518.1 C601.2 1521.5 608.5 1529.1 610.9 1538.3 C613.2 1547.5 614.4 1561.6 613.2 1573.3 C612.0 1584.9 608.7 1597.9 603.9 1608.2 C599.1 1618.6 591.6 1628.3 584.5 1635.4 C577.3 1642.5 565.0 1648.4 561.2 1650.9" fill="none" stroke="#6e6e6e" stroke-width="9.6" stroke-linecap="round" stroke-linejoin="round" opacity="1"/>
<path d="M599.2 1518.1 C601.2 1521.5 608.5 1529.1 610.9 1538.3 C613.2 1547.5 614.4 1561.6 613.2 1573.3 C612.0 1584.9 608.7 1597.9 603.9 1608.2 C599.1 1618.6 591.6 1628.3 584.5 1635.4 C577.3 1642.5 565.0 1648.4 561.2 1650.9" fill="none" stroke="#cfcfcf" stroke-width="8" stroke-linecap="round" stroke-linejoin="round" opacity="1"/>
<path d="M599.2 1518.1 C601.2 1521.5 608.5 1529.1 610.9 1538.3 C613.2 1547.5 614.4 1561.6 613.2 1573.3 C612.0 1584.9 608.7 1597.9 603.9 1608.2 C599.1 1618.6 591.6 1628.3 584.5 1635.4 C577.3 1642.5 565.0 1648.4 561.2 1650.9" fill="none" stroke="#ededed" stroke-width="2.8" stroke-linecap="round" stroke-linejoin="round" opacity="1"/>
<path d="M641.9 1573.3 L635.0 1605.1" fill="none" stroke="#6d74dc" stroke-width="11" stroke-linecap="round" stroke-linejoin="round" opacity="1"/>
<circle cx="641.9" cy="1573.3" r="8" fill="#747be2"/>
<circle cx="619.4" cy="1591.1" r="7.5" fill="#646bd4"/>
<circle cx="590.7" cy="1608.2" r="7.5" fill="#5d64cc"/>
<path d="M619.4 1591.1 L610.9 1612.1" fill="none" stroke="#646bd4" stroke-width="10" stroke-linecap="round" stroke-linejoin="round" opacity="1"/>
<path d="M635.0 1606.7 L603.9 1618.3 L628.7 1630.0" fill="none" stroke="#c9a227" stroke-width="11" stroke-linecap="round" stroke-linejoin="round" opacity="1"/>
<path d="M635.0 1606.7 L628.7 1630.0" fill="none" stroke="#c9a227" stroke-width="11" stroke-linecap="round" stroke-linejoin="round" opacity="1"/>
<circle cx="628.7" cy="1630.0" r="7.5" fill="#d4ad2e"/>
<path d="M502.1 1922.8 C507.3 1920.3 527.4 1935.7 541.0 1938.4 C554.6 1941.1 569.3 1942.1 583.7 1939.2 C598.1 1936.2 616.1 1921.7 627.2 1920.9 C638.3 1920.1 644.7 1927.7 650.5 1934.5 C656.3 1941.3 660.8 1953.9 662.1 1961.7 C663.4 1969.5 668.7 1977.1 658.3 1981.1 C647.8 1985.1 621.4 1985.6 599.2 1985.8 C577.1 1985.9 540.3 1987.2 525.4 1981.9 C510.6 1976.6 513.8 1963.8 509.9 1953.9 C506.0 1944.1 497.0 1925.4 502.1 1922.8 Z" fill="#e6e6e6" stroke="none" stroke-width="1" opacity="1" stroke-linejoin="round"/>
<path d="M587.6 1996.6 C592.8 1988.4 605.0 1983.1 614.8 1981.9 C624.5 1980.7 637.9 1983.3 645.8 1989.7 C653.7 1996.0 658.1 2008.4 662.1 2020.0 C666.1 2031.5 670.0 2045.8 669.9 2058.8 C669.8 2071.7 665.4 2086.4 661.4 2097.6 C657.3 2108.8 655.5 2121.3 645.8 2126.0 C636.1 2130.7 612.8 2134.0 603.1 2126.0 C593.4 2118.0 590.8 2093.9 587.6 2078.2 C584.3 2062.5 583.7 2045.2 583.7 2031.6 C583.7 2018.0 582.4 2004.9 587.6 1996.6 Z" fill="#e4e4e4" stroke="none" stroke-width="1" opacity="1" stroke-linejoin="round"/>
<path d="M676.9 2020.0 C681.4 2012.2 697.6 2010.9 708.0 2012.2 C718.3 2013.5 731.9 2020.0 739.0 2027.7 C746.1 2035.5 750.7 2048.4 750.7 2058.8 C750.7 2069.2 747.4 2085.3 739.0 2089.9 C730.6 2094.4 709.9 2091.2 700.2 2086.0 C690.5 2080.8 684.7 2069.8 680.8 2058.8 C676.9 2047.8 672.4 2027.7 676.9 2020.0 Z" fill="#e2e2e2" stroke="none" stroke-width="1" opacity="1" stroke-linejoin="round"/>
<path d="M643.9 1763.6 C644.9 1768.8 645.5 1785.0 649.7 1794.7 C653.9 1804.4 659.4 1813.4 669.1 1821.9 C678.8 1830.3 697.0 1838.0 708.0 1845.2 C719.0 1852.3 728.5 1857.5 735.1 1864.6 C741.7 1871.7 746.1 1878.2 747.6 1887.9 C749.0 1897.6 746.9 1912.5 743.7 1922.8 C740.5 1933.2 733.3 1942.9 728.2 1950.0 C723.0 1957.2 715.2 1963.0 712.6 1965.6" fill="none" stroke="#b4b4b4" stroke-width="8.1" stroke-linecap="round" stroke-linejoin="round" opacity="1"/>
<path d="M643.9 1763.6 C644.9 1768.8 645.5 1785.0 649.7 1794.7 C653.9 1804.4 659.4 1813.4 669.1 1821.9 C678.8 1830.3 697.0 1838.0 708.0 1845.2 C719.0 1852.3 728.5 1857.5 735.1 1864.6 C741.7 1871.7 746.1 1878.2 747.6 1887.9 C749.0 1897.6 746.9 1912.5 743.7 1922.8 C740.5 1933.2 733.3 1942.9 728.2 1950.0 C723.0 1957.2 715.2 1963.0 712.6 1965.6" fill="none" stroke="#dcdcdc" stroke-width="6.5" stroke-linecap="round" stroke-linejoin="round" opacity="1"/>
<path d="M712.6 1965.6 C707.3 1958.5 691.9 1936.4 680.8 1922.8 C669.6 1909.3 656.1 1895.5 645.8 1884.0 C635.6 1872.5 626.7 1859.7 619.4 1853.7 C612.2 1847.8 606.2 1845.2 602.3 1848.3 C598.4 1851.4 599.1 1865.6 596.1 1872.4 C593.1 1879.1 593.0 1884.1 584.5 1888.7 C575.9 1893.2 559.2 1896.3 544.9 1899.5 C530.5 1902.8 509.8 1903.6 498.3 1908.1 C486.7 1912.6 481.1 1919.7 475.7 1926.7 C470.4 1933.7 467.4 1941.0 466.0 1950.0 C464.6 1959.1 467.0 1975.9 467.2 1981.1" fill="none" stroke="#a8a8a8" stroke-width="8.1" stroke-linecap="round" stroke-linejoin="round" opacity="1"/>
<path d="M712.6 1965.6 C707.3 1958.5 691.9 1936.4 680.8 1922.8 C669.6 1909.3 656.1 1895.5 645.8 1884.0 C635.6 1872.5 626.7 1859.7 619.4 1853.7 C612.2 1847.8 606.2 1845.2 602.3 1848.3 C598.4 1851.4 599.1 1865.6 596.1 1872.4 C593.1 1879.1 593.0 1884.1 584.5 1888.7 C575.9 1893.2 559.2 1896.3 544.9 1899.5 C530.5 1902.8 509.8 1903.6 498.3 1908.1 C486.7 1912.6 481.1 1919.7 475.7 1926.7 C470.4 1933.7 467.4 1941.0 466.0 1950.0 C464.6 1959.1 467.0 1975.9 467.2 1981.1" fill="none" stroke="#d2d2d2" stroke-width="6.5" stroke-linecap="round" stroke-linejoin="round" opacity="1"/>
<path d="M506.0 1970.2 C499.5 1969.6 477.5 1965.1 467.2 1966.3 C456.8 1967.6 450.2 1971.7 443.9 1978.0 C437.5 1984.3 430.9 1996.1 429.1 2004.4 C427.3 2012.7 429.1 2021.2 433.0 2027.7 C436.9 2034.2 446.0 2042.0 452.4 2043.3 C458.9 2044.6 466.8 2040.0 471.8 2035.5 C476.9 2031.0 482.7 2021.9 482.7 2016.1 C482.7 2010.2 473.7 2003.1 471.8 2000.5" fill="none" stroke="#adadad" stroke-width="7.6" stroke-linecap="round" stroke-linejoin="round" opacity="1"/>
<path d="M506.0 1970.2 C499.5 1969.6 477.5 1965.1 467.2 1966.3 C456.8 1967.6 450.2 1971.7 443.9 1978.0 C437.5 1984.3 430.9 1996.1 429.1 2004.4 C427.3 2012.7 429.1 2021.2 433.0 2027.7 C436.9 2034.2 446.0 2042.0 452.4 2043.3 C458.9 2044.6 466.8 2040.0 471.8 2035.5 C476.9 2031.0 482.7 2021.9 482.7 2016.1 C482.7 2010.2 473.7 2003.1 471.8 2000.5" fill="none" stroke="#d6d6d6" stroke-width="6" stroke-linecap="round" stroke-linejoin="round" opacity="1"/>
<path d="M498.3 1919.0 C499.7 1922.8 502.9 1933.9 506.8 1942.3 C510.7 1950.7 519.1 1964.9 521.6 1969.5" fill="none" stroke="#b0b0b0" stroke-width="7.6" stroke-linecap="round" stroke-linejoin="round" opacity="1"/>
<path d="M498.3 1919.0 C499.7 1922.8 502.9 1933.9 506.8 1942.3 C510.7 1950.7 519.1 1964.9 521.6 1969.5" fill="none" stroke="#dadada" stroke-width="6" stroke-linecap="round" stroke-linejoin="round" opacity="1"/>
<path d="M467.2 1936.4 C472.4 1935.8 491.8 1932.6 498.3 1932.6 C504.7 1932.6 504.7 1935.8 506.0 1936.4" fill="none" stroke="#b8b8b8" stroke-width="6.6" stroke-linecap="round" stroke-linejoin="round" opacity="1"/>
<path d="M467.2 1936.4 C472.4 1935.8 491.8 1932.6 498.3 1932.6 C504.7 1932.6 504.7 1935.8 506.0 1936.4" fill="none" stroke="#dedede" stroke-width="5" stroke-linecap="round" stroke-linejoin="round" opacity="1"/>
<path d="M284.7 1786.9 L327.4 1771.4 L363.1 1769.4 L367.0 1856.8 L374.8 1873.1 L346.8 1845.2 L311.8 1821.9 L280.8 1810.2 Z" fill="url(#gband)" stroke="none" stroke-width="1" opacity="1" stroke-linejoin="round"/>
<path d="M372.0 1775.2 L397.3 1775.2 L425.2 1794.7 L443.9 1821.9 L428.3 1810.2 L405.0 1805.5 L378.6 1812.5 L372.4 1786.9 Z" fill="#b6b6b6" stroke="#555" stroke-width="0.6" opacity="1" stroke-linejoin="round"/>
<path d="M131.3 1887.9 L152.6 1887.9 L187.6 1874.3 L211.7 1874.3 L223.3 1942.3 L235.0 1981.1 L246.6 2013.0 L218.6 1981.1 L187.6 1953.9 L152.6 1930.6 L130.1 1926.7 Z" fill="url(#gband)" stroke="none" stroke-width="1" opacity="1" stroke-linejoin="round"/>
<path d="M401.2 1810.2 C403.1 1812.1 408.3 1819.3 412.8 1821.9 C417.3 1824.4 424.5 1822.5 428.3 1825.7 C432.2 1829.0 436.1 1834.8 436.1 1841.3 C436.1 1847.8 432.2 1857.5 428.3 1864.6 C424.5 1871.7 418.0 1878.2 412.8 1884.0 C407.6 1889.8 402.5 1893.7 397.3 1899.5 C392.1 1905.4 386.3 1913.1 381.7 1919.0 C377.2 1924.8 372.0 1931.9 370.1 1934.5" fill="none" stroke="#777" stroke-width="8.6" stroke-linecap="round" stroke-linejoin="round" opacity="1"/>
<path d="M401.2 1810.2 C403.1 1812.1 408.3 1819.3 412.8 1821.9 C417.3 1824.4 424.5 1822.5 428.3 1825.7 C432.2 1829.0 436.1 1834.8 436.1 1841.3 C436.1 1847.8 432.2 1857.5 428.3 1864.6 C424.5 1871.7 418.0 1878.2 412.8 1884.0 C407.6 1889.8 402.5 1893.7 397.3 1899.5 C392.1 1905.4 386.3 1913.1 381.7 1919.0 C377.2 1924.8 372.0 1931.9 370.1 1934.5" fill="none" stroke="#c6c6c6" stroke-width="7" stroke-linecap="round" stroke-linejoin="round" opacity="1"/>
<path d="M124.7 2058.2 L163.4 2051.7 L202.1 2043.1 L245.1 2058.2 L227.9 2077.5 L202.1 2075.4 L159.1 2068.9 Z" fill="#c2c2c2" stroke="none" stroke-width="1" opacity="1" stroke-linejoin="round"/>
<path d="M320.4 2041.0 L335.9 2041.0 L327.3 2079.7 L297.2 2130.9 L219.8 2130.9 L267.1 2090.4 L299.4 2058.2 Z" fill="url(#gv3)" stroke="none" stroke-width="1" opacity="1" stroke-linejoin="round"/>
<path d="M335.5 1978.6 L352.7 1950.6 L372.5 1929.1 L366.1 1978.6 Z" fill="#c4c4c4" stroke="none" stroke-width="1" opacity="1" stroke-linejoin="round"/>
<path d="M245.1 2036.7 L288.2 2023.8 L382.8 2028.1 L379.0 2036.7 L299.4 2041.4 L245.6 2058.2 L206.9 2073.7 L198.2 2058.2 Z" fill="#b2b2b2" stroke="none" stroke-width="1" opacity="1" stroke-linejoin="round"/>
<path d="M223.6 1931.2 L266.7 1954.9 L309.7 1972.1 L331.2 1980.7 L365.6 1987.2 L370.4 1993.6 L383.3 2028.1 L288.2 2024.2 L245.1 2009.1 L240.8 1989.3 Z" fill="url(#gstr)" stroke="#555" stroke-width="0.5" opacity="1" stroke-linejoin="round"/>
<path d="M240.8 1978.6 L266.7 1993.6 L298.9 2013.0 L288.2 2021.6 L255.9 2004.4 Z" fill="#707070" stroke="none" stroke-width="1" opacity="1" stroke-linejoin="round"/>
<path d="M365.6 1987.2 L471.5 1980.7 L514.5 1965.7 L471.5 1989.3 L374.7 1994.1 Z" fill="#9c9c9c" stroke="none" stroke-width="1" opacity="1" stroke-linejoin="round"/>
<path d="M374.7 1994.1 L471.5 1989.3 L514.5 1965.7 L471.5 1998.4 L379.0 2015.6 Z" fill="#6a6a6a" stroke="none" stroke-width="1" opacity="1" stroke-linejoin="round"/>
<path d="M199.2 2054.9 L227.2 2058.8 L223.3 2075.1 L195.3 2079.0 Z" fill="#bdbdbd" stroke="none" stroke-width="1" opacity="1" stroke-linejoin="round"/>
<path d="M168.2 2056.9 L203.1 2043.3 L199.2 2058.8 L193.4 2086.0 Z" fill="#6a6a6a" stroke="none" stroke-width="1" opacity="1" stroke-linejoin="round"/>
<path d="M193.4 2084.0 C195.0 2087.0 198.3 2096.0 203.1 2101.5 C208.0 2107.0 216.1 2113.0 222.5 2117.1 C229.0 2121.1 238.7 2124.5 241.9 2126.0" fill="none" stroke="#555" stroke-width="8.6" stroke-linecap="round" stroke-linejoin="round" opacity="1"/>
<path d="M193.4 2084.0 C195.0 2087.0 198.3 2096.0 203.1 2101.5 C208.0 2107.0 216.1 2113.0 222.5 2117.1 C229.0 2121.1 238.7 2124.5 241.9 2126.0" fill="none" stroke="#8a8a8a" stroke-width="7" stroke-linecap="round" stroke-linejoin="round" opacity="1"/>
<path d="M381.7 2033.5 C385.6 2035.8 398.6 2042.3 405.0 2047.1 C411.5 2052.0 416.7 2058.8 420.6 2062.7 C424.5 2066.6 427.1 2069.2 428.3 2070.4" fill="none" stroke="#777" stroke-width="7.6" stroke-linecap="round" stroke-linejoin="round" opacity="1"/>
<path d="M381.7 2033.5 C385.6 2035.8 398.6 2042.3 405.0 2047.1 C411.5 2052.0 416.7 2058.8 420.6 2062.7 C424.5 2066.6 427.1 2069.2 428.3 2070.4" fill="none" stroke="#b8b8b8" stroke-width="6" stroke-linecap="round" stroke-linejoin="round" opacity="1"/>
<path d="M115.7 2074.3 C118.1 2076.9 125.2 2085.2 130.1 2089.9 C135.0 2094.5 146.9 2098.0 144.9 2102.3 C142.8 2106.6 128.7 2112.7 117.7 2115.5 C106.7 2118.4 91.3 2119.8 78.8 2119.4 C66.4 2119.0 49.1 2114.2 43.1 2113.2" fill="none" stroke="#777" stroke-width="8.6" stroke-linecap="round" stroke-linejoin="round" opacity="1"/>
<path d="M115.7 2074.3 C118.1 2076.9 125.2 2085.2 130.1 2089.9 C135.0 2094.5 146.9 2098.0 144.9 2102.3 C142.8 2106.6 128.7 2112.7 117.7 2115.5 C106.7 2118.4 91.3 2119.8 78.8 2119.4 C66.4 2119.0 49.1 2114.2 43.1 2113.2" fill="none" stroke="#bfbfbf" stroke-width="7" stroke-linecap="round" stroke-linejoin="round" opacity="1"/>
<path d="M47.8 2097.6 L59.4 2126.0" fill="none" stroke="#777" stroke-width="7.6" stroke-linecap="round" stroke-linejoin="round" opacity="1"/>
<path d="M47.8 2097.6 L59.4 2126.0" fill="none" stroke="#b0b0b0" stroke-width="6" stroke-linecap="round" stroke-linejoin="round" opacity="1"/>
<path d="M43.1 1988.5 L82.7 2005.2 L92.4 2058.8 L98.3 2078.2 L78.8 2126.0 L43.1 2126.0 Z" fill="url(#gh1)" stroke="none" stroke-width="1" opacity="1" stroke-linejoin="round"/>
<path d="M43.1 1926.7 L63.3 1911.2 L98.3 1911.2 L75.0 1973.3 L43.1 1981.1 Z" fill="#ababab" stroke="none" stroke-width="1" opacity="1" stroke-linejoin="round"/>
<path d="M130.1 1926.7 C139.2 1930.0 143.0 1926.1 152.6 1930.6 C162.2 1935.1 176.6 1945.5 187.6 1953.9 C198.6 1962.3 208.8 1971.3 218.6 1981.1 C228.5 1991.0 249.1 2002.6 246.6 2013.0 C244.1 2023.3 217.0 2035.9 203.9 2043.3 C190.8 2050.6 180.6 2058.1 168.2 2057.2 C155.7 2056.4 143.0 2046.7 129.3 2038.2 C115.6 2029.7 100.2 2014.6 85.8 2006.4 C71.5 1998.1 50.2 2002.4 43.1 1988.5 C36.0 1974.6 39.7 1935.6 43.1 1922.8 C46.5 1910.1 54.1 1913.9 63.3 1912.0 C72.5 1910.0 87.1 1908.7 98.3 1911.2 C109.4 1913.7 121.0 1923.5 130.1 1926.7 Z" fill="url(#rh2)" stroke="#333" stroke-width="0.8" opacity="1" stroke-linejoin="round"/>
<path d="M280.8 1810.2 C293.7 1811.8 300.8 1816.0 311.8 1821.9 C322.8 1827.7 336.4 1836.7 346.8 1845.2 C357.2 1853.6 366.1 1863.0 374.0 1872.4 C381.9 1881.7 403.1 1887.5 394.2 1901.5 C385.2 1915.5 334.8 1949.5 320.4 1956.3 C306.0 1963.0 313.3 1949.1 308.0 1942.3 C302.7 1935.4 296.3 1923.5 288.5 1915.1 C280.8 1906.7 271.7 1898.2 261.4 1891.8 C251.0 1885.3 238.7 1879.1 226.4 1876.2 C214.1 1873.3 199.9 1872.4 187.6 1874.3 C175.3 1876.2 161.7 1882.4 152.6 1887.9 C143.6 1893.4 137.0 1900.8 133.2 1907.3 C129.4 1913.8 130.4 1930.0 130.1 1926.7 C129.8 1923.5 127.5 1899.5 131.3 1887.9 C135.0 1876.2 141.9 1867.2 152.6 1856.8 C163.3 1846.5 181.7 1833.2 195.3 1825.7 C208.9 1818.3 219.9 1814.7 234.2 1812.1 C248.4 1809.6 267.8 1808.6 280.8 1810.2 Z" fill="url(#rh1)" stroke="#333" stroke-width="0.8" opacity="1" stroke-linejoin="round"/>
<path d="M372.0 1718.9 C386.6 1714.4 409.3 1710.2 422.5 1711.2 C435.8 1712.1 441.0 1718.6 451.7 1724.7 C462.3 1730.9 474.8 1738.9 486.6 1748.1 C498.4 1757.2 513.8 1768.9 522.3 1779.9 C530.9 1790.9 546.7 1800.9 537.9 1814.1 C529.1 1827.3 482.8 1853.3 469.5 1859.1 C456.2 1865.0 462.1 1855.3 457.9 1849.0 C453.6 1842.8 449.4 1830.9 443.9 1821.9 C438.3 1812.8 432.2 1802.4 424.5 1794.7 C416.7 1786.9 407.0 1779.5 397.3 1775.2 C387.6 1771.0 377.9 1770.1 366.2 1769.4 C354.6 1768.8 339.0 1768.4 327.4 1771.4 C315.7 1774.3 304.1 1780.4 296.3 1786.9 C288.5 1793.4 282.7 1810.2 280.8 1810.2 C278.8 1810.2 280.8 1794.7 284.7 1786.9 C288.5 1779.1 295.7 1771.7 304.1 1763.6 C312.5 1755.5 323.8 1745.8 335.1 1738.3 C346.5 1730.9 357.5 1723.5 372.0 1718.9 Z" fill="url(#rh1)" stroke="#333" stroke-width="0.8" opacity="1" stroke-linejoin="round"/>
<path d="M362.3 2126.0 C337.0 2121.3 364.3 2106.9 370.1 2097.6 C375.9 2088.4 386.3 2076.3 397.3 2070.4 C408.3 2064.6 421.2 2064.3 436.1 2062.7 C451.0 2061.1 472.9 2060.3 486.6 2060.7 C500.3 2061.1 510.9 2062.1 518.4 2065.0 C526.0 2067.9 531.0 2068.1 531.7 2078.2 C532.3 2088.4 550.6 2118.0 522.3 2126.0 C494.1 2134.0 387.7 2130.7 362.3 2126.0 Z" fill="url(#gd1)" stroke="#555" stroke-width="0.6" opacity="1" stroke-linejoin="round"/>
<path d="M556.5 2016.1 L548.7 1987.3" fill="none" stroke="#e86a50" stroke-width="2" stroke-linecap="round" stroke-linejoin="round" opacity="1"/>
<path d="M562.7 2014.5 L555.0 1985.8" fill="none" stroke="#e86a50" stroke-width="2" stroke-linecap="round" stroke-linejoin="round" opacity="1"/>
<path d="M543.3 2044.0 L557.3 2020.0 L599.2 2024.6 L618.6 2066.6 L653.6 2078.2" fill="none" stroke="#a8a828" stroke-width="11.1" stroke-linecap="round" stroke-linejoin="round" opacity="1"/>
<path d="M543.3 2044.0 L557.3 2020.0 L599.2 2024.6 L618.6 2066.6 L653.6 2078.2" fill="none" stroke="#e6e63a" stroke-width="9.5" stroke-linecap="round" stroke-linejoin="round" opacity="1"/>
<circle cx="537.9" cy="2049.5" r="7" fill="#e85a5a"/>
<path d="M537.9 2049.5 L548.7 2034.7" fill="none" stroke="#e85a5a" stroke-width="9" stroke-linecap="round" stroke-linejoin="round" opacity="1"/>
<path d="M634.2 2082.9 L700.2 2074.3 L800.0 2078.2" fill="none" stroke="#a8a828" stroke-width="10.6" stroke-linecap="round" stroke-linejoin="round" opacity="1"/>
<path d="M634.2 2082.9 L700.2 2074.3 L800.0 2078.2" fill="none" stroke="#e6e63a" stroke-width="9" stroke-linecap="round" stroke-linejoin="round" opacity="1"/>
<path d="M638.1 2093.8 L723.5 2097.6 L800.0 2105.4" fill="none" stroke="#a8a828" stroke-width="10.6" stroke-linecap="round" stroke-linejoin="round" opacity="1"/>
<path d="M638.1 2093.8 L723.5 2097.6 L800.0 2105.4" fill="none" stroke="#e6e63a" stroke-width="9" stroke-linecap="round" stroke-linejoin="round" opacity="1"/>
<path d="M700.2 2051.0 L723.5 2039.4 L754.6 2035.5" fill="none" stroke="#a8a828" stroke-width="9.6" stroke-linecap="round" stroke-linejoin="round" opacity="1"/>
<path d="M700.2 2051.0 L723.5 2039.4 L754.6 2035.5" fill="none" stroke="#e6e63a" stroke-width="8" stroke-linecap="round" stroke-linejoin="round" opacity="1"/>
<path d="M700.2 2051.0 L708.0 2074.3" fill="none" stroke="#a8a828" stroke-width="9.6" stroke-linecap="round" stroke-linejoin="round" opacity="1"/>
<path d="M700.2 2051.0 L708.0 2074.3" fill="none" stroke="#e6e63a" stroke-width="8" stroke-linecap="round" stroke-linejoin="round" opacity="1"/>
<path d="M754.6 2058.8 L800.0 2051.0" fill="none" stroke="#a8a828" stroke-width="9.6" stroke-linecap="round" stroke-linejoin="round" opacity="1"/>
<path d="M754.6 2058.8 L800.0 2051.0" fill="none" stroke="#e6e63a" stroke-width="8" stroke-linecap="round" stroke-linejoin="round" opacity="1"/>
<path d="M723.5 2086.0 L758.4 2089.9" fill="none" stroke="#4450d2" stroke-width="9" stroke-linecap="round" stroke-linejoin="round" opacity="1"/>
<path d="M758.4 2089.9 L800.0 2087.9" fill="none" stroke="#e08a4e" stroke-width="9" stroke-linecap="round" stroke-linejoin="round" opacity="1"/>
<path d="M649.7 2126.0 L680.8 2058.8 L700.2 2070.4 L724.3 2086.0 L739.8 2126.0 Z" fill="#a4a4a4" stroke="#444" stroke-width="0.6" opacity="1" stroke-linejoin="round"/>
<path d="M748.7 1670.4 C744.5 1670.5 732.9 1667.8 723.5 1671.1 C714.1 1674.5 701.5 1682.8 692.4 1690.6 C683.4 1698.3 674.8 1708.7 669.1 1717.8 C663.4 1726.8 660.1 1737.2 658.3 1744.9 C656.4 1752.7 655.0 1757.2 658.3 1764.4 C661.5 1771.5 669.3 1781.2 677.7 1787.7 C686.1 1794.1 703.6 1800.6 708.7 1803.2" fill="none" stroke="#6fa3a7" stroke-width="9.6" stroke-linecap="round" stroke-linejoin="round" opacity="1"/>
<path d="M748.7 1670.4 C744.5 1670.5 732.9 1667.8 723.5 1671.1 C714.1 1674.5 701.5 1682.8 692.4 1690.6 C683.4 1698.3 674.8 1708.7 669.1 1717.8 C663.4 1726.8 660.1 1737.2 658.3 1744.9 C656.4 1752.7 655.0 1757.2 658.3 1764.4 C661.5 1771.5 669.3 1781.2 677.7 1787.7 C686.1 1794.1 703.6 1800.6 708.7 1803.2" fill="none" stroke="#b6e6e9" stroke-width="8" stroke-linecap="round" stroke-linejoin="round" opacity="1"/>
<path d="M708.7 1803.2 C713.9 1806.4 731.4 1815.5 739.8 1822.6 C748.2 1829.8 752.9 1838.9 759.2 1845.9 C765.6 1852.9 774.8 1861.5 777.9 1864.6" fill="none" stroke="#555" stroke-width="9.6" stroke-linecap="round" stroke-linejoin="round" opacity="1"/>
<path d="M708.7 1803.2 C713.9 1806.4 731.4 1815.5 739.8 1822.6 C748.2 1829.8 752.9 1838.9 759.2 1845.9 C765.6 1852.9 774.8 1861.5 777.9 1864.6" fill="none" stroke="#8e8e8e" stroke-width="8" stroke-linecap="round" stroke-linejoin="round" opacity="1"/>
<path d="M601.2 1693.7 L646.6 1702.2 L658.3 1744.9" fill="none" stroke="#7db4b8" stroke-width="13.1" stroke-linecap="round" stroke-linejoin="round" opacity="1"/>
<path d="M601.2 1693.7 L646.6 1702.2 L658.3 1744.9" fill="none" stroke="#b9e9eb" stroke-width="11.5" stroke-linecap="round" stroke-linejoin="round" opacity="1"/>
<circle cx="601.2" cy="1693.7" r="8" fill="#c2eff1" stroke="#7db4b8" stroke-width="0.8"/>
<circle cx="658.3" cy="1744.9" r="8.5" fill="#c2eff1" stroke="#7db4b8" stroke-width="0.8"/>
<path d="M748.7 1670.4 L800.0 1668.8" fill="none" stroke="#7db4b8" stroke-width="13.1" stroke-linecap="round" stroke-linejoin="round" opacity="1"/>
<path d="M748.7 1670.4 L800.0 1668.8" fill="none" stroke="#b9e9eb" stroke-width="11.5" stroke-linecap="round" stroke-linejoin="round" opacity="1"/>
<path d="M1060.2 1973.3 C1067.3 1966.2 1087.4 1966.2 1099.0 1969.5 C1110.7 1972.7 1123.0 1981.1 1130.1 1992.8 C1137.2 2004.4 1140.5 2023.2 1141.8 2039.4 C1143.1 2055.6 1141.1 2075.4 1137.9 2089.9 C1134.6 2104.3 1132.7 2120.0 1122.3 2126.0 C1112.0 2132.0 1085.5 2137.2 1075.7 2126.0 C1066.0 2114.8 1067.3 2077.8 1064.1 2058.8 C1060.9 2039.8 1057.0 2026.4 1056.3 2012.2 C1055.7 1997.9 1053.1 1980.5 1060.2 1973.3 Z" fill="#d4d4d4" stroke="none" stroke-width="1" opacity="1" stroke-linejoin="round"/>
<path d="M1090.0 1978.1 C1095.2 1958.3 1112.4 1970.8 1121.0 1973.0 C1129.6 1975.1 1137.1 1981.6 1141.6 1991.0 C1146.1 2000.5 1148.7 2016.9 1148.1 2029.8 C1147.4 2042.7 1143.1 2059.0 1137.8 2068.5 C1132.4 2077.9 1123.8 2082.7 1115.8 2086.5 C1107.9 2090.4 1094.3 2109.8 1090.0 2091.7 C1085.7 2073.6 1084.8 1997.9 1090.0 1978.1 Z" fill="#d2d2d2" stroke="none" stroke-width="1" opacity="1" stroke-linejoin="round"/>
<path d="M1130.1 1650.9 C1125.6 1644.5 1135.3 1634.6 1142.5 1623.8 C1149.8 1612.9 1163.3 1590.9 1173.6 1585.7 C1184.0 1580.5 1194.3 1585.0 1204.7 1592.7 C1215.0 1600.3 1227.3 1617.3 1235.7 1631.5 C1244.2 1645.8 1251.9 1663.9 1255.2 1678.1 C1258.4 1692.4 1258.4 1704.7 1255.2 1717.0 C1251.9 1729.3 1244.8 1743.5 1235.7 1751.9 C1226.7 1760.4 1213.1 1765.5 1200.8 1767.5 C1188.5 1769.4 1172.3 1766.8 1162.0 1763.6 C1151.6 1760.4 1141.2 1755.8 1138.7 1748.1 C1136.1 1740.3 1140.6 1728.0 1146.4 1717.0 C1152.3 1706.0 1169.7 1691.1 1173.6 1682.0 C1177.5 1673.0 1177.0 1667.8 1169.7 1662.6 C1162.5 1657.4 1134.6 1657.4 1130.1 1650.9 Z" fill="#cfcfcf" stroke="none" stroke-width="1" opacity="1" stroke-linejoin="round"/>
<path d="M1060.2 1643.2 C1069.8 1638.6 1117.0 1643.8 1130.1 1650.9 C1143.2 1658.1 1142.4 1676.8 1138.7 1685.9 C1134.9 1695.0 1118.6 1706.6 1107.6 1705.3 C1096.6 1704.0 1080.5 1688.5 1072.6 1678.1 C1064.7 1667.8 1050.6 1647.7 1060.2 1643.2 Z" fill="#c2c2c2" stroke="none" stroke-width="1" opacity="1" stroke-linejoin="round"/>
<path d="M1255.2 1689.8 C1259.7 1683.3 1286.2 1700.8 1297.9 1709.2 C1309.5 1717.6 1319.2 1731.2 1325.1 1740.3 C1330.9 1749.3 1335.4 1754.5 1332.8 1763.6 C1330.2 1772.7 1316.0 1784.3 1309.5 1794.7 C1303.1 1805.0 1299.2 1827.0 1294.0 1825.7 C1288.8 1824.4 1282.3 1799.8 1278.5 1786.9 C1274.6 1773.9 1274.6 1764.2 1270.7 1748.1 C1266.8 1731.9 1250.6 1696.3 1255.2 1689.8 Z" fill="#dadada" stroke="none" stroke-width="1" opacity="1" stroke-linejoin="round"/>
<path d="M1140.3 1745.8 C1138.6 1735.9 1147.4 1729.5 1157.1 1725.2 C1166.8 1720.9 1183.8 1720.9 1198.4 1720.0 C1213.0 1719.1 1236.1 1715.7 1244.9 1720.0 C1253.7 1724.3 1252.0 1736.3 1251.3 1745.8 C1250.7 1755.3 1247.2 1768.8 1241.0 1776.8 C1234.8 1784.7 1223.6 1790.8 1213.9 1793.6 C1204.2 1796.4 1190.7 1795.1 1182.9 1793.6 C1175.2 1792.1 1174.5 1792.5 1167.4 1784.5 C1160.3 1776.6 1142.1 1755.7 1140.3 1745.8 Z" fill="#cacaca" stroke="none" stroke-width="1" opacity="1" stroke-linejoin="round"/>
<path d="M1291.3 1784.5 C1295.6 1779.4 1315.3 1790.1 1322.3 1797.4 C1329.3 1804.8 1333.2 1820.5 1333.2 1828.4 C1333.2 1836.4 1328.4 1845.2 1322.3 1845.2 C1316.2 1845.2 1301.7 1838.5 1296.5 1828.4 C1291.3 1818.3 1287.0 1789.7 1291.3 1784.5 Z" fill="#dcdcdc" stroke="none" stroke-width="1" opacity="1" stroke-linejoin="round"/>
<path d="M1293.2 1825.7 C1295.8 1818.0 1316.5 1808.9 1324.3 1810.2 C1332.1 1811.5 1338.5 1824.4 1339.8 1833.5 C1341.1 1842.6 1337.2 1860.7 1332.1 1864.6 C1326.9 1868.5 1315.2 1863.3 1308.8 1856.8 C1302.3 1850.3 1290.6 1833.5 1293.2 1825.7 Z" fill="#e0e0e0" stroke="none" stroke-width="1" opacity="1" stroke-linejoin="round"/>
<path d="M818.4 1802.5 L817.8 1800.2 L816.8 1797.4 L815.7 1794.3 L814.6 1791.0 L813.7 1787.7 L813.0 1784.5 L812.7 1781.8 L812.8 1779.6 L813.1 1777.1 L813.7 1774.1 L814.5 1771.0 L815.6 1768.0 L816.9 1765.0 L818.3 1762.2 L819.9 1759.8 L821.6 1757.6 L823.6 1755.5 L825.9 1753.4 L828.7 1751.2 L831.7 1749.2 L835.0 1747.3 L838.3 1745.6 L841.7 1744.1 L845.1 1742.9 L848.6 1741.8 L852.4 1740.9 L856.6 1740.2 L860.9 1739.7 L865.1 1739.4 L869.3 1739.3 L873.1 1739.4 L876.5 1739.7 L879.6 1740.3 L882.7 1741.1 L885.6 1742.1 L888.4 1743.3 L891.1 1744.7 L893.6 1746.2 L895.8 1747.8 L897.5 1749.3 L899.0 1750.7 L900.4 1752.7 L901.9 1755.4 L903.3 1758.3 L904.5 1761.3 L905.7 1764.3 L906.7 1766.9 L907.7 1768.9 L920.8 1764.0 L920.4 1762.3 L919.8 1759.8 L919.1 1756.7 L918.1 1753.0 L916.8 1749.1 L915.2 1745.0 L913.0 1740.9 L910.3 1737.2 L907.2 1734.2 L904.0 1731.6 L900.5 1729.2 L896.8 1727.0 L892.8 1725.0 L888.6 1723.4 L884.2 1722.0 L879.7 1720.9 L874.9 1720.2 L869.9 1719.7 L864.8 1719.6 L859.5 1719.7 L854.2 1720.1 L848.9 1720.7 L843.8 1721.7 L838.8 1722.9 L834.1 1724.6 L829.4 1726.6 L824.9 1728.9 L820.6 1731.5 L816.4 1734.3 L812.5 1737.4 L808.8 1740.7 L805.5 1744.3 L802.7 1748.3 L800.3 1752.6 L798.3 1757.0 L796.7 1761.4 L795.4 1765.9 L794.5 1770.3 L793.9 1774.7 L793.7 1779.2 L794.1 1784.0 L795.2 1788.7 L796.7 1793.1 L798.3 1797.1 L800.0 1800.7 L801.5 1803.8 L802.7 1806.2 L803.6 1807.9 Z" fill="#d6d6d6" stroke="#b8b8b8" stroke-width="0.6" stroke-linejoin="round" opacity="1"/>
<path d="M866.1 1829.7 L866.0 1827.3 L865.6 1824.1 L865.1 1820.6 L864.7 1816.9 L864.4 1813.3 L864.3 1809.8 L864.5 1807.0 L865.1 1804.8 L865.9 1802.5 L867.0 1799.8 L868.3 1797.1 L869.9 1794.4 L871.7 1791.9 L873.6 1789.5 L875.7 1787.2 L877.9 1785.3 L880.4 1783.2 L883.2 1781.2 L886.3 1779.2 L889.7 1777.4 L893.2 1775.7 L896.7 1774.4 L900.1 1773.2 L903.5 1772.5 L906.9 1771.8 L910.6 1771.4 L914.6 1771.3 L918.7 1771.4 L922.8 1771.7 L926.9 1772.2 L930.7 1772.9 L934.2 1773.8 L937.4 1774.9 L940.7 1776.3 L944.0 1778.1 L947.4 1780.1 L950.6 1782.3 L953.8 1784.5 L956.8 1786.9 L959.4 1789.0 L961.8 1790.9 L964.1 1793.0 L966.4 1795.5 L968.5 1798.0 L970.6 1800.6 L972.4 1802.9 L974.1 1805.0 L975.6 1806.5 L987.1 1798.7 L986.3 1797.0 L985.3 1794.8 L983.9 1792.0 L982.2 1788.8 L980.2 1785.4 L977.9 1781.8 L975.2 1778.2 L972.3 1774.9 L969.2 1772.1 L965.9 1769.2 L962.4 1766.4 L958.5 1763.5 L954.5 1760.7 L950.1 1758.2 L945.5 1755.9 L940.7 1753.9 L935.8 1752.4 L930.8 1751.2 L925.7 1750.3 L920.4 1749.6 L915.0 1749.2 L909.7 1749.2 L904.4 1749.5 L899.2 1750.1 L894.0 1751.4 L889.0 1753.0 L884.1 1754.9 L879.4 1757.1 L874.9 1759.6 L870.6 1762.3 L866.5 1765.2 L862.8 1768.3 L859.4 1771.8 L856.3 1775.5 L853.6 1779.3 L851.1 1783.3 L849.0 1787.5 L847.2 1791.7 L845.8 1795.9 L844.6 1800.4 L844.1 1805.5 L844.3 1810.5 L844.8 1815.4 L845.7 1819.9 L846.6 1824.0 L847.5 1827.6 L848.3 1830.3 L848.8 1832.3 Z" fill="#c9c9c9" stroke="#a4a4a4" stroke-width="0.6" stroke-linejoin="round" opacity="1"/>
<path d="M893.3 1846.3 L895.6 1844.6 L898.5 1842.2 L901.7 1839.5 L905.2 1836.5 L908.9 1833.6 L912.5 1830.9 L916.1 1828.7 L919.4 1827.2 L922.8 1825.7 L926.6 1824.2 L930.7 1822.9 L934.8 1821.8 L939.0 1820.9 L943.1 1820.3 L947.1 1820.0 L950.8 1819.9 L954.6 1819.9 L958.5 1820.1 L962.5 1820.7 L966.5 1821.4 L970.5 1822.4 L974.3 1823.5 L977.8 1824.9 L981.1 1826.4 L984.1 1827.9 L987.2 1829.8 L990.2 1832.0 L993.1 1834.3 L995.9 1836.9 L998.4 1839.6 L1000.8 1842.3 L1002.8 1845.0 L1004.6 1847.7 L1006.3 1850.7 L1007.7 1853.8 L1009.0 1857.1 L1010.1 1860.5 L1011.0 1863.9 L1011.7 1867.3 L1012.2 1870.5 L1012.6 1873.7 L1012.7 1877.0 L1012.5 1880.5 L1012.2 1884.0 L1011.7 1887.5 L1011.0 1891.0 L1010.2 1894.4 L1009.3 1897.4 L1008.4 1900.3 L1007.1 1903.4 L1005.3 1906.6 L1003.4 1909.8 L1001.5 1912.9 L999.7 1915.8 L998.2 1918.3 L997.1 1920.4 L1006.9 1927.5 L1008.4 1926.1 L1010.3 1924.1 L1012.7 1921.6 L1015.4 1918.7 L1018.2 1915.4 L1020.9 1911.8 L1023.5 1908.0 L1025.6 1904.0 L1027.3 1900.0 L1028.7 1896.0 L1030.0 1891.8 L1031.1 1887.4 L1032.0 1882.9 L1032.7 1878.3 L1033.1 1873.6 L1033.1 1868.9 L1032.7 1864.3 L1032.0 1859.7 L1031.0 1855.0 L1029.8 1850.4 L1028.3 1845.8 L1026.4 1841.2 L1024.3 1836.7 L1021.8 1832.5 L1019.0 1828.4 L1015.9 1824.5 L1012.6 1820.7 L1008.9 1817.0 L1005.1 1813.5 L1000.9 1810.3 L996.5 1807.3 L992.0 1804.7 L987.1 1802.5 L982.1 1800.6 L976.9 1799.0 L971.6 1797.7 L966.2 1796.7 L960.8 1796.0 L955.3 1795.6 L949.9 1795.6 L944.5 1796.2 L939.1 1797.2 L933.7 1798.5 L928.5 1800.2 L923.4 1802.0 L918.4 1804.1 L913.7 1806.4 L909.1 1809.0 L904.6 1812.3 L900.3 1816.1 L896.5 1820.2 L892.9 1824.2 L889.8 1828.0 L887.1 1831.4 L885.1 1834.3 L883.5 1836.3 Z" fill="#bdbdbd" stroke="#8e8e8e" stroke-width="0.6" stroke-linejoin="round" opacity="1"/>
<path d="M823.3 1820.5 L824.3 1818.7 L825.6 1816.3 L826.9 1813.5 L828.4 1810.6 L830.1 1807.8 L831.8 1805.3 L833.4 1803.4 L835.0 1802.2 L836.8 1801.1 L839.3 1800.1 L842.1 1799.2 L845.2 1798.5 L848.3 1798.0 L851.3 1797.7 L854.1 1797.8 L856.3 1798.0 L858.4 1798.5 L860.8 1799.5 L863.4 1801.0 L866.1 1802.8 L868.7 1804.7 L871.2 1806.6 L873.3 1808.2 L875.1 1809.4 L881.1 1801.0 L879.7 1799.9 L877.8 1798.3 L875.4 1796.2 L872.6 1794.0 L869.5 1791.7 L866.1 1789.6 L862.4 1787.8 L858.5 1786.6 L854.7 1786.2 L850.8 1786.1 L846.9 1786.4 L842.9 1787.1 L839.0 1788.0 L835.3 1789.2 L831.7 1790.7 L828.3 1792.7 L825.2 1795.4 L822.6 1798.7 L820.5 1802.1 L818.7 1805.6 L817.2 1808.9 L815.9 1811.8 L814.9 1814.1 L814.2 1815.7 Z" fill="#e2e2e2" stroke="#c4c4c4" stroke-width="0.5" stroke-linejoin="round" opacity="1"/>
<path d="M734.0 1856.8 C735.9 1859.4 743.1 1864.6 745.7 1872.4 C748.2 1880.1 750.2 1891.8 749.5 1903.4 C748.9 1915.1 744.4 1932.6 741.8 1942.3 C739.2 1952.0 735.3 1958.5 734.0 1961.7" fill="none" stroke="#b4b4b4" stroke-width="7.6" stroke-linecap="round" stroke-linejoin="round" opacity="1"/>
<path d="M734.0 1856.8 C735.9 1859.4 743.1 1864.6 745.7 1872.4 C748.2 1880.1 750.2 1891.8 749.5 1903.4 C748.9 1915.1 744.4 1932.6 741.8 1942.3 C739.2 1952.0 735.3 1958.5 734.0 1961.7" fill="none" stroke="#dcdcdc" stroke-width="6" stroke-linecap="round" stroke-linejoin="round" opacity="1"/>
<path d="M835.0 1880.1 C835.6 1887.2 836.3 1909.3 838.9 1922.8 C841.4 1936.4 846.0 1950.7 850.5 1961.7 C855.0 1972.7 862.8 1979.2 866.0 1988.9 C869.3 1998.6 872.5 2012.2 869.9 2020.0 C867.3 2027.7 860.2 2031.6 850.5 2035.5 C840.8 2039.4 818.1 2042.0 811.7 2043.3" fill="none" stroke="#cfcfcf" stroke-width="7.6" stroke-linecap="round" stroke-linejoin="round" opacity="1"/>
<path d="M835.0 1880.1 C835.6 1887.2 836.3 1909.3 838.9 1922.8 C841.4 1936.4 846.0 1950.7 850.5 1961.7 C855.0 1972.7 862.8 1979.2 866.0 1988.9 C869.3 1998.6 872.5 2012.2 869.9 2020.0 C867.3 2027.7 860.2 2031.6 850.5 2035.5 C840.8 2039.4 818.1 2042.0 811.7 2043.3" fill="none" stroke="#e4e4e4" stroke-width="6" stroke-linecap="round" stroke-linejoin="round" opacity="1"/>
<path d="M1405.8 1845.2 C1406.5 1854.9 1409.7 1884.0 1409.7 1903.4 C1409.7 1922.8 1407.1 1942.3 1405.8 1961.7 C1404.6 1981.1 1402.6 2010.2 1402.0 2020.0" fill="none" stroke="#d0d0d0" stroke-width="6.6" stroke-linecap="round" stroke-linejoin="round" opacity="1"/>
<path d="M1405.8 1845.2 C1406.5 1854.9 1409.7 1884.0 1409.7 1903.4 C1409.7 1922.8 1407.1 1942.3 1405.8 1961.7 C1404.6 1981.1 1402.6 2010.2 1402.0 2020.0" fill="none" stroke="#e6e6e6" stroke-width="5" stroke-linecap="round" stroke-linejoin="round" opacity="1"/>
<path d="M1180.3 2126.0 C1186.8 2122.9 1204.0 2112.9 1219.1 2107.2 C1234.1 2101.5 1253.5 2095.2 1270.7 2091.7 C1287.9 2088.3 1307.3 2087.0 1322.3 2086.5 C1337.4 2086.1 1354.6 2088.7 1361.0 2089.1" fill="none" stroke="#c0c0c0" stroke-width="8.6" stroke-linecap="round" stroke-linejoin="round" opacity="1"/>
<path d="M1180.3 2126.0 C1186.8 2122.9 1204.0 2112.9 1219.1 2107.2 C1234.1 2101.5 1253.5 2095.2 1270.7 2091.7 C1287.9 2088.3 1307.3 2087.0 1322.3 2086.5 C1337.4 2086.1 1354.6 2088.7 1361.0 2089.1" fill="none" stroke="#dedede" stroke-width="7" stroke-linecap="round" stroke-linejoin="round" opacity="1"/>
<path d="M621.6 1518.6 C629.4 1511.7 669.3 1513.2 675.9 1518.6 C682.6 1524.1 666.6 1542.8 661.4 1551.2 C656.3 1559.7 650.6 1567.8 645.1 1569.4 C639.7 1570.9 632.8 1568.8 628.8 1560.3 C624.9 1551.8 613.7 1525.6 621.6 1518.6 Z" fill="#e2e2e2" stroke="none" stroke-width="1" opacity="1" stroke-linejoin="round"/>
<path d="M661.4 1551.2 C669.6 1549.1 701.6 1554.3 710.4 1560.3 C719.1 1566.3 720.3 1581.4 714.0 1587.5 C707.6 1593.5 681.1 1599.0 672.3 1596.5 C663.6 1594.1 663.3 1580.5 661.4 1573.0 C659.6 1565.4 653.3 1553.4 661.4 1551.2 Z" fill="#d6d6d6" stroke="none" stroke-width="1" opacity="1" stroke-linejoin="round"/>
<path d="M746.6 1616.5 C754.7 1603.2 784.9 1603.2 793.7 1616.5 C802.5 1629.8 800.3 1675.4 799.1 1696.2 C797.9 1717.0 793.1 1733.0 786.4 1741.5 C779.8 1749.9 766.2 1754.5 759.3 1746.9 C752.3 1739.4 746.9 1717.9 744.8 1696.2 C742.7 1674.4 738.4 1629.8 746.6 1616.5 Z" fill="#cfcfcf" stroke="none" stroke-width="1" opacity="1" stroke-linejoin="round"/>
<path d="M697.7 1518.6 L783.2 1518.6 L795.9 1569.4 L801.3 1609.2 L794.1 1613.9 L719.8 1609.2 L714.3 1587.5 L705.3 1542.2 Z" fill="url(#gchunk)" stroke="#555" stroke-width="0.6" opacity="1" stroke-linejoin="round"/>
<path d="M783.2 1518.6 L857.5 1518.6 L832.1 1569.4 L814.0 1612.8 L801.3 1609.2 L795.9 1569.4 Z" fill="url(#gchunk2)" stroke="#666" stroke-width="0.6" opacity="1" stroke-linejoin="round"/>
<ellipse cx="743.0" cy="1531.3" rx="34.0" ry="9.0" fill="#fff" opacity="0.9" filter="url(#bl)" transform="rotate(0 743.0 1531.3)"/>
<ellipse cx="802.8" cy="1562.1" rx="7.0" ry="26.0" fill="#fff" opacity="0.75" filter="url(#bl)" transform="rotate(-18 802.8 1562.1)"/>
<path d="M995.3 1591.2 L1024.0 1536.8 L1039.2 1558.5 L1043.6 1606.4 L1019.7 1619.9 Z" fill="#8c8c8c" stroke="none" stroke-width="1" opacity="1" stroke-linejoin="round"/>
<path d="M862.9 1519.4 L943.4 1519.4 L952.2 1558.5 L954.3 1628.7 L893.4 1623.9 L882.5 1602.1 L869.4 1558.5 Z" fill="url(#gchunk)" stroke="#444" stroke-width="0.6" opacity="1" stroke-linejoin="round"/>
<path d="M943.4 1519.4 L1021.8 1519.4 L1006.6 1558.5 L984.8 1613.0 L965.2 1619.9 L954.3 1628.7 L952.2 1558.5 Z" fill="url(#gchunk2)" stroke="#666" stroke-width="0.6" opacity="1" stroke-linejoin="round"/>
<ellipse cx="906.0" cy="1538.9" rx="22.0" ry="9.0" fill="#fff" opacity="0.9" filter="url(#bl)" transform="rotate(0 906.0 1538.9)"/>
<ellipse cx="938.7" cy="1549.8" rx="5.0" ry="28.0" fill="#fff" opacity="0.7" filter="url(#bl)" transform="rotate(-8 938.7 1549.8)"/>
<path d="M1032.7 1519.4 L1191.7 1519.4 L1169.9 1569.4 L1132.9 1645.6 L1128.5 1652.6 L1048.0 1636.9 L1043.6 1580.3 Z" fill="url(#gchunk)" stroke="#444" stroke-width="0.6" opacity="1" stroke-linejoin="round"/>
<path d="M1117.6 1528.1 L1191.7 1519.4 L1169.9 1569.4 L1132.9 1645.6 L1126.3 1580.3 Z" fill="#9c9c9c" stroke="none" stroke-width="1" opacity="1" stroke-linejoin="round"/>
<ellipse cx="1080.2" cy="1535.7" rx="26.0" ry="9.0" fill="#fff" opacity="0.95" filter="url(#bl)" transform="rotate(0 1080.2 1535.7)"/>
<ellipse cx="1121.5" cy="1558.5" rx="5.0" ry="30.0" fill="#fff" opacity="0.6" filter="url(#bl)" transform="rotate(-5 1121.5 1558.5)"/>
<path d="M1161.2 1518.1 L1235.7 1518.1 L1251.3 1561.6 L1270.7 1592.7 L1282.3 1608.2 L1251.3 1610.6 L1235.7 1592.7 L1212.4 1557.7 L1203.9 1534.4 Z" fill="#c2c2c2" stroke="#666" stroke-width="0.6" opacity="1" stroke-linejoin="round"/>
<path d="M1254.4 1606.7 C1252.6 1607.1 1246.8 1610.3 1243.5 1609.0 C1240.3 1607.7 1233.7 1604.9 1235.0 1598.9 C1236.3 1592.9 1244.0 1582.1 1251.3 1573.3 C1258.5 1564.5 1267.5 1553.8 1278.5 1546.1 C1289.5 1538.3 1304.4 1530.5 1317.3 1526.7 C1330.2 1522.8 1343.2 1522.1 1356.1 1522.8 C1369.1 1523.4 1382.0 1526.0 1395.0 1530.5 C1407.9 1535.1 1422.8 1542.8 1433.8 1550.0 C1444.8 1557.1 1455.2 1566.4 1461.0 1573.3 C1466.8 1580.1 1468.8 1585.8 1468.8 1591.1 C1468.8 1596.4 1462.9 1601.5 1461.0 1605.1 C1459.0 1608.7 1457.8 1611.6 1457.1 1612.9" fill="none" stroke="#4c4c4c" stroke-width="10.1" stroke-linecap="round" stroke-linejoin="round" opacity="1"/>
<path d="M1254.4 1606.7 C1252.6 1607.1 1246.8 1610.3 1243.5 1609.0 C1240.3 1607.7 1233.7 1604.9 1235.0 1598.9 C1236.3 1592.9 1244.0 1582.1 1251.3 1573.3 C1258.5 1564.5 1267.5 1553.8 1278.5 1546.1 C1289.5 1538.3 1304.4 1530.5 1317.3 1526.7 C1330.2 1522.8 1343.2 1522.1 1356.1 1522.8 C1369.1 1523.4 1382.0 1526.0 1395.0 1530.5 C1407.9 1535.1 1422.8 1542.8 1433.8 1550.0 C1444.8 1557.1 1455.2 1566.4 1461.0 1573.3 C1466.8 1580.1 1468.8 1585.8 1468.8 1591.1 C1468.8 1596.4 1462.9 1601.5 1461.0 1605.1 C1459.0 1608.7 1457.8 1611.6 1457.1 1612.9" fill="none" stroke="#8c8c8c" stroke-width="8.5" stroke-linecap="round" stroke-linejoin="round" opacity="1"/>
<path d="M1254.4 1606.7 C1252.6 1607.1 1246.8 1610.3 1243.5 1609.0 C1240.3 1607.7 1233.7 1604.9 1235.0 1598.9 C1236.3 1592.9 1244.0 1582.1 1251.3 1573.3 C1258.5 1564.5 1267.5 1553.8 1278.5 1546.1 C1289.5 1538.3 1304.4 1530.5 1317.3 1526.7 C1330.2 1522.8 1343.2 1522.1 1356.1 1522.8 C1369.1 1523.4 1382.0 1526.0 1395.0 1530.5 C1407.9 1535.1 1422.8 1542.8 1433.8 1550.0 C1444.8 1557.1 1455.2 1566.4 1461.0 1573.3 C1466.8 1580.1 1468.8 1585.8 1468.8 1591.1 C1468.8 1596.4 1462.9 1601.5 1461.0 1605.1 C1459.0 1608.7 1457.8 1611.6 1457.1 1612.9" fill="none" stroke="#b4b4b4" stroke-width="3.0" stroke-linecap="round" stroke-linejoin="round" opacity="1"/>
<path d="M1433.0 1631.5 L1464.9 1612.1 L1494.0 1596.6 L1494.0 1670.4 L1472.6 1659.5 Z" fill="#6a6a6a" stroke="none" stroke-width="1" opacity="1" stroke-linejoin="round"/>
<path d="M1456.3 1598.9 L1472.6 1592.7 L1494.0 1584.9 L1494.0 1598.9 L1464.9 1612.9 Z" fill="#7a7a7a" stroke="none" stroke-width="1" opacity="1" stroke-linejoin="round"/>
<path d="M1373.9 1720.0 C1385.6 1713.5 1423.0 1717.4 1433.8 1720.0 C1444.7 1722.6 1436.0 1729.9 1439.0 1735.5 C1442.0 1741.1 1442.7 1750.1 1451.9 1753.6 C1461.1 1757.0 1487.0 1748.8 1494.0 1756.1 C1501.0 1763.5 1501.0 1787.1 1494.0 1797.4 C1487.0 1807.8 1462.8 1815.5 1451.9 1818.1 C1441.0 1820.7 1439.4 1816.8 1428.7 1812.9 C1417.9 1809.1 1397.7 1799.6 1387.4 1794.9 C1377.0 1790.1 1370.6 1790.6 1366.7 1784.5 C1362.8 1778.5 1362.9 1769.5 1364.1 1758.7 C1365.3 1748.0 1362.3 1726.5 1373.9 1720.0 Z" fill="url(#gring)" stroke="#333" stroke-width="0.7" opacity="1" stroke-linejoin="round"/>
<path d="M1376.5 1720.0 C1382.2 1717.4 1423.4 1717.4 1433.8 1720.0 C1444.2 1722.6 1439.9 1731.6 1439.0 1735.5 C1438.0 1739.4 1434.7 1743.2 1428.2 1743.2 C1421.6 1743.2 1408.4 1739.4 1399.8 1735.5 C1391.2 1731.6 1370.8 1722.6 1376.5 1720.0 Z" fill="#9a9a9a" stroke="none" stroke-width="1" opacity="1" stroke-linejoin="round"/>
<path d="M1292.7 1965.9 L1293.0 1969.0 L1293.5 1973.0 L1294.2 1977.8 L1295.0 1983.0 L1295.6 1988.4 L1296.0 1993.9 L1296.2 1999.0 L1295.9 2003.7 L1295.4 2008.2 L1294.6 2012.9 L1293.7 2017.6 L1292.5 2022.2 L1291.1 2026.8 L1289.5 2031.3 L1287.7 2035.6 L1285.6 2039.7 L1283.4 2043.8 L1280.8 2047.8 L1278.1 2051.8 L1275.1 2055.7 L1271.9 2059.3 L1268.6 2062.7 L1265.2 2065.7 L1261.8 2068.4 L1258.2 2070.7 L1254.4 2072.8 L1250.3 2074.6 L1246.1 2076.3 L1241.8 2077.6 L1237.5 2078.7 L1233.1 2079.6 L1228.7 2080.1 L1224.4 2080.4 L1219.8 2080.5 L1215.2 2080.3 L1210.5 2079.8 L1205.9 2079.1 L1201.4 2078.1 L1197.2 2076.9 L1193.1 2075.4 L1189.1 2073.7 L1185.1 2071.7 L1181.3 2069.4 L1177.5 2066.9 L1174.0 2064.2 L1170.6 2061.2 L1167.5 2057.9 L1164.7 2054.6 L1162.1 2050.6 L1159.5 2045.7 L1157.0 2040.1 L1154.7 2034.2 L1152.6 2028.4 L1150.8 2023.0 L1149.1 2018.4 L1147.8 2015.1 L1138.1 2018.6 L1139.1 2021.9 L1140.4 2026.4 L1142.1 2031.9 L1144.0 2037.9 L1146.2 2044.3 L1148.7 2050.6 L1151.5 2056.5 L1154.6 2061.7 L1158.1 2066.1 L1161.9 2070.1 L1165.9 2073.8 L1170.1 2077.1 L1174.5 2080.2 L1179.0 2082.9 L1183.6 2085.3 L1188.3 2087.4 L1193.2 2089.2 L1198.3 2090.6 L1203.5 2091.8 L1208.9 2092.6 L1214.3 2093.2 L1219.6 2093.4 L1224.9 2093.3 L1230.0 2093.0 L1235.1 2092.3 L1240.2 2091.3 L1245.3 2090.0 L1250.4 2088.4 L1255.3 2086.5 L1260.2 2084.3 L1264.8 2081.8 L1269.3 2078.9 L1273.5 2075.6 L1277.5 2072.0 L1281.4 2068.1 L1285.0 2063.9 L1288.4 2059.5 L1291.6 2054.9 L1294.5 2050.3 L1297.1 2045.6 L1299.3 2040.8 L1301.3 2035.7 L1303.0 2030.6 L1304.4 2025.3 L1305.5 2020.0 L1306.4 2014.8 L1307.1 2009.5 L1307.5 2004.2 L1307.3 1998.7 L1306.6 1992.8 L1305.7 1987.0 L1304.5 1981.3 L1303.3 1976.0 L1302.1 1971.3 L1301.1 1967.5 L1300.3 1964.6 Z" fill="#a8a8a8" stroke="#6a6a6a" stroke-width="0.6" stroke-linejoin="round" opacity="1"/>
<path d="M1300.3 1964.6 L1301.1 1967.5 L1302.1 1971.3 L1303.3 1976.0 L1304.5 1981.3 L1305.7 1987.0 L1306.6 1992.8 L1307.3 1998.7 L1307.5 2004.2 L1307.1 2009.5 L1306.4 2014.8 L1305.5 2020.0 L1304.4 2025.3 L1303.0 2030.6 L1301.3 2035.7 L1299.3 2040.8 L1297.1 2045.6 L1294.5 2050.3 L1291.6 2054.9 L1288.4 2059.5 L1285.0 2063.9 L1281.4 2068.1 L1277.5 2072.0 L1273.5 2075.6 L1269.3 2078.9 L1264.8 2081.8 L1260.2 2084.3 L1255.3 2086.5 L1250.4 2088.4 L1245.3 2090.0 L1240.2 2091.3 L1235.1 2092.3 L1230.0 2093.0 L1224.9 2093.3 L1219.6 2093.4 L1214.3 2093.2 L1208.9 2092.6 L1203.5 2091.8 L1198.3 2090.6 L1193.2 2089.2 L1188.3 2087.4 L1183.6 2085.3 L1179.0 2082.9 L1174.5 2080.2 L1170.1 2077.1 L1165.9 2073.8 L1161.9 2070.1 L1158.1 2066.1 L1154.6 2061.7 L1151.5 2056.5 L1148.7 2050.6 L1146.2 2044.3 L1144.0 2037.9 L1142.1 2031.9 L1140.4 2026.4 L1139.1 2021.9 L1138.1 2018.6" fill="none" stroke="#d0d0d0" stroke-width="1.2" stroke-linecap="round"/>
<path d="M1136.5 1965.9 L1136.4 1968.7 L1136.3 1972.5 L1136.2 1977.1 L1136.3 1982.4 L1136.6 1988.0 L1137.2 1993.8 L1138.2 1999.6 L1139.8 2005.1 L1142.2 2009.9 L1144.7 2014.5 L1147.7 2019.0 L1150.9 2023.4 L1154.5 2027.6 L1158.4 2031.6 L1162.6 2035.3 L1167.2 2038.6 L1172.3 2041.3 L1177.7 2043.7 L1183.2 2045.6 L1188.9 2047.2 L1194.6 2048.5 L1200.2 2049.4 L1205.7 2050.1 L1211.0 2050.4 L1216.3 2050.2 L1221.6 2049.6 L1226.7 2048.6 L1231.6 2047.4 L1236.3 2045.9 L1240.7 2044.2 L1244.9 2042.4 L1248.9 2040.4 L1252.9 2037.8 L1256.6 2034.7 L1259.9 2031.5 L1262.8 2028.3 L1265.2 2025.3 L1267.3 2022.6 L1268.9 2020.5 L1270.0 2018.9 L1261.0 2009.6 L1259.2 2011.0 L1256.9 2012.9 L1254.5 2015.1 L1251.8 2017.3 L1249.1 2019.5 L1246.2 2021.5 L1243.5 2023.1 L1240.8 2024.3 L1237.8 2025.4 L1234.3 2026.6 L1230.7 2027.7 L1226.9 2028.6 L1223.0 2029.3 L1219.2 2029.7 L1215.4 2029.9 L1211.6 2029.8 L1207.6 2029.5 L1203.1 2029.0 L1198.5 2028.2 L1193.9 2027.2 L1189.4 2025.9 L1185.2 2024.4 L1181.3 2022.7 L1178.0 2020.9 L1174.8 2019.0 L1171.7 2016.6 L1168.6 2013.9 L1165.7 2010.9 L1163.0 2007.7 L1160.5 2004.4 L1158.2 2000.9 L1156.3 1997.6 L1154.5 1994.3 L1152.9 1990.2 L1151.5 1985.6 L1150.4 1980.7 L1149.4 1975.8 L1148.5 1971.3 L1147.6 1967.4 L1146.7 1964.6 Z" fill="#828282" stroke="#444" stroke-width="0.6" stroke-linejoin="round" opacity="1"/>
<path d="M1146.7 1964.6 L1147.6 1967.4 L1148.5 1971.3 L1149.4 1975.8 L1150.4 1980.7 L1151.5 1985.6 L1152.9 1990.2 L1154.5 1994.3 L1156.3 1997.6 L1158.2 2000.9 L1160.5 2004.4 L1163.0 2007.7 L1165.7 2010.9 L1168.6 2013.9 L1171.7 2016.6 L1174.8 2019.0 L1178.0 2020.9 L1181.3 2022.7 L1185.2 2024.4 L1189.4 2025.9 L1193.9 2027.2 L1198.5 2028.2 L1203.1 2029.0 L1207.6 2029.5 L1211.6 2029.8 L1215.4 2029.9 L1219.2 2029.7 L1223.0 2029.3 L1226.9 2028.6 L1230.7 2027.7 L1234.3 2026.6 L1237.8 2025.4 L1240.8 2024.3 L1243.5 2023.1 L1246.2 2021.5 L1249.1 2019.5 L1251.8 2017.3 L1254.5 2015.1 L1256.9 2012.9 L1259.2 2011.0 L1261.0 2009.6" fill="none" stroke="#b0b0b0" stroke-width="1.2" stroke-linecap="round"/>
<path d="M1152.6 1859.5 L1153.0 1857.2 L1153.3 1854.0 L1153.5 1850.4 L1153.8 1846.6 L1154.3 1842.8 L1155.0 1839.2 L1155.9 1836.2 L1157.1 1834.0 L1158.5 1831.9 L1160.3 1829.6 L1162.4 1827.2 L1164.8 1825.0 L1167.5 1822.9 L1170.3 1820.9 L1173.3 1819.0 L1176.3 1817.4 L1179.5 1815.9 L1182.9 1814.5 L1186.7 1813.2 L1190.7 1812.1 L1194.7 1811.2 L1198.9 1810.4 L1203.0 1809.7 L1206.9 1809.3 L1210.7 1808.9 L1214.7 1808.7 L1218.8 1808.7 L1222.9 1808.9 L1227.0 1809.2 L1230.9 1809.7 L1234.7 1810.2 L1238.0 1810.8 L1241.2 1811.4 L1244.3 1812.3 L1247.5 1813.4 L1250.7 1814.7 L1253.6 1816.0 L1256.3 1817.2 L1258.7 1818.2 L1260.7 1818.8 L1265.2 1809.6 L1263.7 1808.6 L1261.7 1807.2 L1259.2 1805.6 L1256.2 1803.7 L1252.9 1801.9 L1249.2 1800.0 L1245.4 1798.4 L1241.4 1797.0 L1237.4 1796.0 L1233.2 1795.2 L1228.8 1794.5 L1224.2 1793.9 L1219.6 1793.4 L1214.8 1793.2 L1210.1 1793.1 L1205.4 1793.3 L1200.8 1793.9 L1196.1 1794.6 L1191.4 1795.5 L1186.7 1796.6 L1182.0 1798.0 L1177.4 1799.5 L1173.0 1801.3 L1168.9 1803.3 L1165.0 1805.6 L1161.4 1808.2 L1157.9 1810.9 L1154.6 1813.9 L1151.5 1817.1 L1148.8 1820.5 L1146.3 1824.1 L1144.2 1828.0 L1142.9 1832.5 L1142.2 1837.2 L1142.0 1841.9 L1142.2 1846.4 L1142.5 1850.5 L1142.9 1854.2 L1143.3 1857.1 L1143.6 1859.3 Z" fill="#a4a4a4" stroke="#666" stroke-width="0.6" stroke-linejoin="round" opacity="1"/>
<path d="M1152.6 1859.5 L1153.0 1857.2 L1153.3 1854.0 L1153.5 1850.4 L1153.8 1846.6 L1154.3 1842.8 L1155.0 1839.2 L1155.9 1836.2 L1157.1 1834.0 L1158.5 1831.9 L1160.3 1829.6 L1162.4 1827.2 L1164.8 1825.0 L1167.5 1822.9 L1170.3 1820.9 L1173.3 1819.0 L1176.3 1817.4 L1179.5 1815.9 L1182.9 1814.5 L1186.7 1813.2 L1190.7 1812.1 L1194.7 1811.2 L1198.9 1810.4 L1203.0 1809.7 L1206.9 1809.3 L1210.7 1808.9 L1214.7 1808.7 L1218.8 1808.7 L1222.9 1808.9 L1227.0 1809.2 L1230.9 1809.7 L1234.7 1810.2 L1238.0 1810.8 L1241.2 1811.4 L1244.3 1812.3 L1247.5 1813.4 L1250.7 1814.7 L1253.6 1816.0 L1256.3 1817.2 L1258.7 1818.2 L1260.7 1818.8" fill="none" stroke="#d4d4d4" stroke-width="1.2" stroke-linecap="round"/>
<path d="M1233.8 1885.3 L1230.4 1885.6 L1225.8 1886.5 L1220.5 1887.5 L1214.8 1888.7 L1208.8 1889.7 L1203.1 1890.4 L1197.8 1890.6 L1193.4 1890.1 L1189.2 1889.5 L1184.8 1888.5 L1180.3 1887.2 L1175.9 1885.5 L1171.6 1883.6 L1167.4 1881.5 L1163.5 1879.2 L1160.0 1876.8 L1156.7 1874.3 L1153.6 1871.5 L1150.6 1868.4 L1147.7 1865.2 L1145.0 1861.8 L1142.6 1858.3 L1140.5 1854.8 L1138.7 1851.4 L1137.1 1848.1 L1135.7 1844.7 L1134.5 1841.2 L1133.6 1837.7 L1132.9 1834.2 L1132.5 1830.8 L1132.4 1827.4 L1132.6 1824.1 L1132.9 1820.7 L1133.4 1817.2 L1134.3 1813.6 L1135.4 1810.0 L1136.8 1806.4 L1138.5 1802.9 L1140.4 1799.6 L1142.5 1796.5 L1145.0 1793.3 L1148.1 1790.1 L1151.5 1786.9 L1155.3 1783.7 L1159.3 1780.7 L1163.4 1777.8 L1167.6 1775.2 L1171.8 1772.9 L1176.1 1770.9 L1180.7 1769.0 L1185.4 1767.3 L1190.2 1765.8 L1195.0 1764.6 L1199.7 1763.7 L1204.3 1763.1 L1208.7 1762.8 L1213.1 1762.9 L1217.5 1763.3 L1222.0 1764.0 L1226.5 1765.0 L1231.0 1766.3 L1235.3 1767.8 L1239.5 1769.5 L1243.4 1771.4 L1247.1 1773.4 L1250.7 1775.7 L1254.4 1778.4 L1257.9 1781.3 L1261.3 1784.5 L1264.5 1787.7 L1267.5 1790.9 L1270.1 1793.9 L1272.5 1796.8 L1274.5 1799.9 L1276.4 1803.3 L1278.2 1806.8 L1279.8 1810.2 L1281.3 1813.7 L1282.8 1816.9 L1284.2 1819.9 L1285.5 1822.4 L1286.6 1824.7 L1287.7 1826.8 L1288.6 1828.7 L1289.4 1830.4 L1290.1 1832.0 L1290.8 1833.3 L1291.5 1834.3 L1296.4 1832.8 L1296.3 1831.6 L1296.2 1830.2 L1296.0 1828.5 L1295.7 1826.5 L1295.3 1824.3 L1294.8 1821.8 L1294.1 1819.1 L1293.3 1816.3 L1292.5 1813.3 L1291.6 1810.0 L1290.5 1806.3 L1289.3 1802.3 L1287.9 1798.2 L1286.2 1793.9 L1284.1 1789.6 L1281.6 1785.5 L1278.7 1781.6 L1275.7 1777.7 L1272.3 1773.8 L1268.6 1770.0 L1264.7 1766.2 L1260.6 1762.7 L1256.1 1759.3 L1251.6 1756.4 L1246.8 1753.9 L1241.8 1751.6 L1236.6 1749.6 L1231.3 1747.9 L1225.8 1746.4 L1220.2 1745.3 L1214.5 1744.6 L1208.7 1744.3 L1203.0 1744.4 L1197.1 1744.9 L1191.2 1745.8 L1185.4 1747.1 L1179.6 1748.6 L1173.9 1750.5 L1168.4 1752.5 L1163.1 1754.8 L1157.8 1757.4 L1152.6 1760.3 L1147.5 1763.5 L1142.5 1767.0 L1137.7 1770.7 L1133.2 1774.6 L1129.0 1778.7 L1125.2 1782.9 L1121.9 1787.4 L1119.0 1792.2 L1116.4 1797.0 L1114.3 1802.0 L1112.5 1807.1 L1111.1 1812.2 L1110.1 1817.3 L1109.4 1822.4 L1109.2 1827.6 L1109.5 1832.8 L1110.2 1837.9 L1111.2 1843.0 L1112.6 1848.0 L1114.4 1852.9 L1116.4 1857.6 L1118.7 1862.2 L1121.5 1866.6 L1124.6 1871.0 L1128.0 1875.3 L1131.7 1879.4 L1135.7 1883.4 L1139.9 1887.1 L1144.4 1890.6 L1149.1 1893.7 L1154.0 1896.3 L1159.1 1898.7 L1164.4 1900.8 L1170.0 1902.6 L1175.6 1904.1 L1181.4 1905.2 L1187.2 1905.9 L1193.1 1906.1 L1199.4 1905.1 L1205.7 1903.4 L1211.9 1901.3 L1217.9 1898.8 L1223.4 1896.3 L1228.3 1893.9 L1232.3 1891.8 L1235.3 1890.3 Z" fill="url(#gring)" stroke="#2c2c2c" stroke-width="0.7" stroke-linejoin="round" opacity="1"/>
<path d="M1233.8 1885.3 L1230.4 1885.6 L1225.8 1886.5 L1220.5 1887.5 L1214.8 1888.7 L1208.8 1889.7 L1203.1 1890.4 L1197.8 1890.6 L1193.4 1890.1 L1189.2 1889.5 L1184.8 1888.5 L1180.3 1887.2 L1175.9 1885.5 L1171.6 1883.6 L1167.4 1881.5 L1163.5 1879.2 L1160.0 1876.8 L1156.7 1874.3 L1153.6 1871.5 L1150.6 1868.4 L1147.7 1865.2 L1145.0 1861.8 L1142.6 1858.3 L1140.5 1854.8 L1138.7 1851.4 L1137.1 1848.1 L1135.7 1844.7 L1134.5 1841.2 L1133.6 1837.7 L1132.9 1834.2 L1132.5 1830.8 L1132.4 1827.4 L1132.6 1824.1 L1132.9 1820.7 L1133.4 1817.2 L1134.3 1813.6 L1135.4 1810.0 L1136.8 1806.4 L1138.5 1802.9 L1140.4 1799.6 L1142.5 1796.5 L1145.0 1793.3 L1148.1 1790.1 L1151.5 1786.9 L1155.3 1783.7 L1159.3 1780.7 L1163.4 1777.8 L1167.6 1775.2 L1171.8 1772.9 L1176.1 1770.9 L1180.7 1769.0 L1185.4 1767.3 L1190.2 1765.8 L1195.0 1764.6 L1199.7 1763.7 L1204.3 1763.1 L1208.7 1762.8 L1213.1 1762.9 L1217.5 1763.3 L1222.0 1764.0 L1226.5 1765.0 L1231.0 1766.3 L1235.3 1767.8 L1239.5 1769.5 L1243.4 1771.4 L1247.1 1773.4 L1250.7 1775.7 L1254.4 1778.4 L1257.9 1781.3 L1261.3 1784.5 L1264.5 1787.7 L1267.5 1790.9 L1270.1 1793.9 L1272.5 1796.8 L1274.5 1799.9 L1276.4 1803.3 L1278.2 1806.8 L1279.8 1810.2 L1281.3 1813.7 L1282.8 1816.9 L1284.2 1819.9 L1285.5 1822.4 L1286.6 1824.7 L1287.7 1826.8 L1288.6 1828.7 L1289.4 1830.4 L1290.1 1832.0 L1290.8 1833.3 L1291.5 1834.3" fill="none" stroke="#b8b8b8" stroke-width="1.2" stroke-linecap="round"/>
<path d="M1139.2 1886.8 L1139.5 1889.1 L1139.9 1892.3 L1140.4 1896.2 L1141.0 1900.6 L1141.9 1905.4 L1143.1 1910.4 L1144.6 1915.4 L1146.4 1920.2 L1148.6 1924.6 L1151.0 1929.1 L1153.7 1933.7 L1156.6 1938.3 L1159.8 1942.8 L1163.3 1947.2 L1167.2 1951.4 L1171.3 1955.2 L1175.9 1958.5 L1180.7 1961.6 L1185.7 1964.3 L1190.9 1966.8 L1196.3 1968.9 L1201.7 1970.7 L1207.3 1972.0 L1212.8 1972.9 L1218.3 1973.2 L1223.9 1972.9 L1229.3 1972.2 L1234.7 1971.1 L1239.9 1969.7 L1245.0 1967.9 L1249.8 1965.8 L1254.6 1963.4 L1259.3 1960.6 L1263.7 1957.4 L1268.0 1953.8 L1272.0 1950.1 L1275.7 1946.2 L1279.3 1942.3 L1282.5 1938.5 L1285.6 1934.6 L1288.3 1930.4 L1290.8 1925.8 L1293.0 1921.2 L1294.9 1916.7 L1296.5 1912.5 L1297.9 1908.8 L1298.9 1905.8 L1299.7 1903.6 L1288.2 1897.8 L1286.7 1900.0 L1285.0 1902.9 L1283.1 1906.2 L1281.0 1909.9 L1278.7 1913.6 L1276.4 1917.2 L1273.9 1920.6 L1271.3 1923.5 L1268.6 1926.7 L1265.6 1930.0 L1262.4 1933.3 L1259.1 1936.5 L1255.7 1939.5 L1252.2 1942.2 L1248.8 1944.5 L1245.5 1946.4 L1242.0 1948.0 L1238.1 1949.4 L1234.2 1950.6 L1230.3 1951.6 L1226.3 1952.3 L1222.4 1952.6 L1218.6 1952.7 L1215.0 1952.4 L1211.3 1951.8 L1207.4 1950.8 L1203.3 1949.5 L1199.1 1947.9 L1195.1 1945.9 L1191.1 1943.8 L1187.5 1941.4 L1184.2 1939.1 L1181.1 1936.6 L1178.1 1933.8 L1175.2 1930.5 L1172.3 1927.0 L1169.6 1923.3 L1167.1 1919.5 L1164.7 1915.7 L1162.6 1912.2 L1160.7 1908.8 L1159.0 1905.1 L1157.5 1901.0 L1156.1 1896.9 L1154.8 1892.9 L1153.7 1889.3 L1152.7 1886.1 L1151.8 1883.6 Z" fill="#8e8e8e" stroke="#555" stroke-width="0.5" stroke-linejoin="round" opacity="1"/>
<path d="M1135.4 1954.0 L1135.7 1956.5 L1136.2 1960.1 L1136.8 1964.4 L1137.7 1969.4 L1138.8 1974.7 L1140.1 1980.1 L1141.9 1985.4 L1144.1 1990.4 L1146.9 1994.8 L1149.8 1998.9 L1153.0 2003.0 L1156.6 2006.9 L1160.3 2010.7 L1164.4 2014.2 L1168.6 2017.4 L1173.2 2020.2 L1178.0 2022.5 L1183.0 2024.5 L1188.1 2026.1 L1193.4 2027.3 L1198.7 2028.2 L1204.0 2028.8 L1209.2 2029.1 L1214.3 2029.1 L1219.4 2028.6 L1224.6 2027.7 L1229.5 2026.5 L1234.4 2024.9 L1239.1 2023.2 L1243.5 2021.3 L1247.8 2019.2 L1251.8 2017.0 L1255.7 2014.5 L1259.4 2011.8 L1262.8 2008.9 L1265.9 2005.9 L1268.9 2002.8 L1271.6 1999.7 L1274.2 1996.5 L1276.7 1993.3 L1279.2 1989.7 L1281.6 1985.7 L1283.8 1981.6 L1285.8 1977.6 L1287.6 1973.8 L1289.1 1970.4 L1290.3 1967.6 L1291.2 1965.5 L1281.1 1959.8 L1279.7 1961.8 L1278.0 1964.4 L1276.1 1967.6 L1274.0 1971.0 L1271.7 1974.5 L1269.4 1977.9 L1267.0 1980.9 L1264.7 1983.6 L1262.3 1986.2 L1259.7 1988.8 L1257.2 1991.2 L1254.5 1993.6 L1251.8 1995.8 L1249.0 1997.8 L1246.1 1999.6 L1243.1 2001.2 L1239.8 2002.8 L1236.2 2004.4 L1232.4 2005.9 L1228.6 2007.1 L1224.7 2008.2 L1220.9 2009.0 L1217.1 2009.5 L1213.5 2009.8 L1209.7 2009.8 L1205.6 2009.5 L1201.5 2009.1 L1197.3 2008.3 L1193.2 2007.4 L1189.3 2006.2 L1185.7 2004.8 L1182.4 2003.2 L1179.2 2001.4 L1176.1 1999.2 L1173.0 1996.7 L1169.9 1993.9 L1167.0 1990.8 L1164.3 1987.7 L1161.9 1984.4 L1159.8 1981.3 L1157.8 1978.2 L1155.9 1974.4 L1154.2 1970.1 L1152.7 1965.6 L1151.3 1961.1 L1150.0 1957.0 L1148.9 1953.4 L1147.9 1950.7 Z" fill="#a2a2a2" stroke="#666" stroke-width="0.5" stroke-linejoin="round" opacity="1"/>
<path d="M1144.8 1900.5 L1145.4 1902.6 L1146.3 1905.5 L1147.5 1909.0 L1149.0 1913.1 L1150.8 1917.4 L1153.1 1921.9 L1155.9 1926.3 L1159.3 1930.2 L1163.1 1933.4 L1167.2 1936.4 L1171.6 1939.2 L1176.3 1941.8 L1181.2 1944.1 L1186.4 1946.1 L1191.7 1947.8 L1197.0 1949.0 L1202.5 1949.5 L1208.1 1949.6 L1213.7 1949.3 L1219.3 1948.7 L1224.8 1947.7 L1230.3 1946.5 L1235.5 1945.0 L1240.6 1943.3 L1245.4 1941.1 L1250.2 1938.5 L1254.7 1935.7 L1259.1 1932.6 L1263.1 1929.5 L1267.0 1926.2 L1270.6 1922.9 L1274.0 1919.6 L1277.2 1915.7 L1280.1 1911.6 L1282.8 1907.3 L1285.1 1903.2 L1287.1 1899.3 L1288.8 1895.9 L1290.1 1893.0 L1291.1 1890.9 L1281.3 1884.6 L1279.7 1886.6 L1277.7 1889.2 L1275.5 1892.3 L1273.1 1895.6 L1270.5 1899.0 L1267.8 1902.2 L1265.0 1905.1 L1262.2 1907.6 L1259.2 1910.1 L1255.9 1912.8 L1252.4 1915.3 L1248.8 1917.8 L1245.0 1920.1 L1241.3 1922.1 L1237.5 1923.8 L1233.7 1925.2 L1229.8 1926.5 L1225.5 1927.7 L1221.1 1928.7 L1216.6 1929.5 L1212.1 1930.0 L1207.7 1930.3 L1203.6 1930.2 L1199.8 1929.8 L1196.0 1929.3 L1192.1 1928.3 L1188.1 1927.0 L1184.1 1925.4 L1180.2 1923.6 L1176.5 1921.6 L1173.2 1919.6 L1170.4 1917.6 L1168.0 1915.8 L1165.6 1913.3 L1163.3 1910.3 L1161.1 1907.0 L1159.0 1903.7 L1157.2 1900.5 L1155.5 1897.7 L1154.0 1895.7 Z" fill="#5e5e5e" stroke="#2c2c2c" stroke-width="0.7" stroke-linejoin="round" opacity="1"/>
<path d="M1154.0 1895.7 L1155.5 1897.7 L1157.2 1900.5 L1159.0 1903.7 L1161.1 1907.0 L1163.3 1910.3 L1165.6 1913.3 L1168.0 1915.8 L1170.4 1917.6 L1173.2 1919.6 L1176.5 1921.6 L1180.2 1923.6 L1184.1 1925.4 L1188.1 1927.0 L1192.1 1928.3 L1196.0 1929.3 L1199.8 1929.8 L1203.6 1930.2 L1207.7 1930.3 L1212.1 1930.0 L1216.6 1929.5 L1221.1 1928.7 L1225.5 1927.7 L1229.8 1926.5 L1233.7 1925.2 L1237.5 1923.8 L1241.3 1922.1 L1245.0 1920.1 L1248.8 1917.8 L1252.4 1915.3 L1255.9 1912.8 L1259.2 1910.1 L1262.2 1907.6 L1265.0 1905.1 L1267.8 1902.2 L1270.5 1899.0 L1273.1 1895.6 L1275.5 1892.3 L1277.7 1889.2 L1279.7 1886.6 L1281.3 1884.6" fill="none" stroke="#9a9a9a" stroke-width="1.2" stroke-linecap="round"/>
<path d="M1137.8 1899.9 L1137.0 1902.2 L1136.0 1905.5 L1134.7 1909.6 L1133.5 1914.4 L1132.4 1919.6 L1131.5 1925.0 L1131.2 1930.8 L1131.5 1936.4 L1132.8 1941.5 L1134.5 1946.4 L1136.5 1951.2 L1138.8 1956.0 L1141.6 1960.6 L1144.7 1965.1 L1148.1 1969.4 L1151.8 1973.4 L1156.0 1977.2 L1160.6 1980.8 L1165.4 1984.2 L1170.5 1987.4 L1175.9 1990.4 L1181.4 1993.0 L1187.1 1995.3 L1192.8 1997.1 L1198.7 1998.3 L1204.6 1999.1 L1210.6 1999.5 L1216.6 1999.6 L1222.5 1999.3 L1228.4 1998.7 L1234.1 1997.8 L1239.6 1996.6 L1245.1 1995.0 L1250.6 1993.1 L1256.0 1990.8 L1261.3 1988.3 L1266.3 1985.5 L1271.2 1982.4 L1275.8 1979.1 L1280.1 1975.6 L1284.0 1971.6 L1287.6 1967.2 L1290.7 1962.7 L1293.4 1958.2 L1295.9 1953.7 L1298.1 1949.2 L1300.1 1944.9 L1302.1 1940.7 L1303.8 1936.1 L1305.4 1931.2 L1306.7 1926.3 L1307.8 1921.6 L1308.7 1917.2 L1309.5 1913.3 L1310.0 1910.1 L1310.4 1907.7 L1298.1 1904.0 L1297.0 1906.4 L1295.8 1909.5 L1294.4 1913.2 L1293.0 1917.2 L1291.3 1921.4 L1289.6 1925.5 L1287.7 1929.4 L1285.8 1932.9 L1283.7 1936.6 L1281.6 1940.5 L1279.3 1944.3 L1277.0 1948.0 L1274.5 1951.5 L1272.0 1954.7 L1269.3 1957.6 L1266.5 1960.0 L1263.3 1962.5 L1259.7 1964.9 L1255.8 1967.1 L1251.7 1969.3 L1247.5 1971.1 L1243.2 1972.8 L1238.9 1974.1 L1234.6 1975.2 L1230.3 1976.0 L1225.7 1976.6 L1221.1 1976.9 L1216.4 1977.0 L1211.8 1976.8 L1207.2 1976.4 L1202.9 1975.6 L1198.8 1974.7 L1194.8 1973.4 L1190.6 1971.8 L1186.3 1969.8 L1182.1 1967.6 L1178.0 1965.1 L1174.1 1962.4 L1170.6 1959.7 L1167.5 1957.0 L1164.8 1954.3 L1162.2 1951.5 L1159.8 1948.4 L1157.6 1945.1 L1155.7 1941.8 L1154.1 1938.4 L1152.7 1935.1 L1151.7 1932.1 L1150.8 1929.1 L1150.2 1925.5 L1150.0 1921.2 L1150.1 1916.7 L1150.3 1912.2 L1150.6 1908.1 L1150.7 1904.4 L1150.6 1901.5 Z" fill="#565656" stroke="#262626" stroke-width="0.7" stroke-linejoin="round" opacity="1"/>
<path d="M1137.8 1899.9 L1137.0 1902.2 L1136.0 1905.5 L1134.7 1909.6 L1133.5 1914.4 L1132.4 1919.6 L1131.5 1925.0 L1131.2 1930.8 L1131.5 1936.4 L1132.8 1941.5 L1134.5 1946.4 L1136.5 1951.2 L1138.8 1956.0 L1141.6 1960.6 L1144.7 1965.1 L1148.1 1969.4 L1151.8 1973.4 L1156.0 1977.2 L1160.6 1980.8 L1165.4 1984.2 L1170.5 1987.4 L1175.9 1990.4 L1181.4 1993.0 L1187.1 1995.3 L1192.8 1997.1 L1198.7 1998.3 L1204.6 1999.1 L1210.6 1999.5 L1216.6 1999.6 L1222.5 1999.3 L1228.4 1998.7 L1234.1 1997.8 L1239.6 1996.6 L1245.1 1995.0 L1250.6 1993.1 L1256.0 1990.8 L1261.3 1988.3 L1266.3 1985.5 L1271.2 1982.4 L1275.8 1979.1 L1280.1 1975.6 L1284.0 1971.6 L1287.6 1967.2 L1290.7 1962.7 L1293.4 1958.2 L1295.9 1953.7 L1298.1 1949.2 L1300.1 1944.9 L1302.1 1940.7 L1303.8 1936.1 L1305.4 1931.2 L1306.7 1926.3 L1307.8 1921.6 L1308.7 1917.2 L1309.5 1913.3 L1310.0 1910.1 L1310.4 1907.7" fill="none" stroke="#a0a0a0" stroke-width="1.2" stroke-linecap="round"/>
<path d="M1229.4 1846.5 L1270.7 1885.2 L1348.1 1952.3 L1446.2 2037.5 L1494.0 2102.0 L1494.0 2063.3 L1425.6 1978.1 L1343.0 1929.1 L1293.9 1900.7 Z" fill="#5a5a5a" stroke="none" stroke-width="1" opacity="1" stroke-linejoin="round"/>
<path d="M1229.4 1846.5 L1242.8 1823.3 L1271.2 1828.4 L1322.8 1854.2 L1338.3 1880.0 L1348.6 1905.9 L1457.1 1942.0 L1426.1 1978.1 L1343.5 1929.1 L1294.4 1900.7 Z" fill="url(#gh2)" stroke="#888" stroke-width="0.5" opacity="1" stroke-linejoin="round"/>
<path d="M1294.4 1763.9 L1320.3 1762.6 L1348.6 1797.4 L1338.3 1841.3 L1309.9 1782.0 Z" fill="#8e8e8e" stroke="#444" stroke-width="0.6" opacity="1" stroke-linejoin="round"/>
<path d="M1348.6 1797.4 L1428.7 1820.7 L1427.1 1834.1 L1382.2 1856.8 L1364.1 1849.1 L1338.3 1841.3 Z" fill="#b2b2b2" stroke="#555" stroke-width="0.6" opacity="1" stroke-linejoin="round"/>
<path d="M1382.2 1841.3 L1427.1 1821.2 L1427.1 1834.1 L1382.2 1856.8 Z" fill="#a0a0a0" stroke="none" stroke-width="1" opacity="1" stroke-linejoin="round"/>
<path d="M1402.3 1833.6 C1406.2 1833.1 1417.4 1833.1 1425.6 1831.0 C1433.7 1828.8 1440.0 1826.3 1451.4 1820.7 C1462.8 1815.1 1486.9 1801.3 1494.0 1797.4" fill="none" stroke="#3c3c3c" stroke-width="9.6" stroke-linecap="round" stroke-linejoin="round" opacity="1"/>
<path d="M1402.3 1833.6 C1406.2 1833.1 1417.4 1833.1 1425.6 1831.0 C1433.7 1828.8 1440.0 1826.3 1451.4 1820.7 C1462.8 1815.1 1486.9 1801.3 1494.0 1797.4" fill="none" stroke="#7c7c7c" stroke-width="8" stroke-linecap="round" stroke-linejoin="round" opacity="1"/>
<path d="M1324.9 1843.9 C1327.1 1843.8 1333.9 1843.8 1337.8 1843.4 C1341.7 1843.0 1346.4 1841.7 1348.1 1841.3" fill="none" stroke="#555" stroke-width="8.6" stroke-linecap="round" stroke-linejoin="round" opacity="1"/>
<path d="M1324.9 1843.9 C1327.1 1843.8 1333.9 1843.8 1337.8 1843.4 C1341.7 1843.0 1346.4 1841.7 1348.1 1841.3" fill="none" stroke="#9a9a9a" stroke-width="7" stroke-linecap="round" stroke-linejoin="round" opacity="1"/>
<path d="M1324.9 1763.9 C1327.1 1762.6 1333.1 1757.9 1337.8 1756.1 C1342.5 1754.4 1348.6 1753.8 1353.3 1753.6 C1358.0 1753.3 1364.0 1754.6 1366.2 1754.8" fill="none" stroke="#555" stroke-width="8.6" stroke-linecap="round" stroke-linejoin="round" opacity="1"/>
<path d="M1324.9 1763.9 C1327.1 1762.6 1333.1 1757.9 1337.8 1756.1 C1342.5 1754.4 1348.6 1753.8 1353.3 1753.6 C1358.0 1753.3 1364.0 1754.6 1366.2 1754.8" fill="none" stroke="#a2a2a2" stroke-width="7" stroke-linecap="round" stroke-linejoin="round" opacity="1"/>
<path d="M1376.5 2096.9 L1387.4 2076.2 L1408.0 2040.1 L1433.8 2024.6 L1451.9 2029.8 L1494.0 2065.9 L1494.0 2126.0 L1381.7 2126.0 Z" fill="#5c5c5c" stroke="#2c2c2c" stroke-width="0.7" opacity="1" stroke-linejoin="round"/>
<path d="M1413.2 2081.4 C1414.5 2076.2 1427.4 2067.6 1433.8 2068.5 C1440.3 2069.3 1448.0 2080.1 1451.9 2086.5 C1455.8 2093.0 1461.4 2105.0 1457.1 2107.2 C1452.8 2109.3 1433.4 2103.8 1426.1 2099.5 C1418.8 2095.2 1411.9 2086.5 1413.2 2081.4 Z" fill="#fff" stroke="none" stroke-width="1" opacity="1" stroke-linejoin="round"/>
<path d="M1376.5 2096.9 L1423.5 2099.5 L1467.4 2107.2 L1451.9 2126.0 L1381.7 2126.0 Z" fill="#808080" stroke="none" stroke-width="1" opacity="1" stroke-linejoin="round"/>
<path d="M1373.9 2073.6 L1386.9 2047.8" fill="none" stroke="#c4c4c4" stroke-width="6.6" stroke-linecap="round" stroke-linejoin="round" opacity="1"/>
<path d="M1373.9 2073.6 L1386.9 2047.8" fill="none" stroke="#e0e0e0" stroke-width="5" stroke-linecap="round" stroke-linejoin="round" opacity="1"/>
<path d="M711.3 1703.4 L741.2 1698.0 L730.3 1710.7 L741.2 1732.4 L759.3 1775.9 L752.0 1783.2 L733.9 1750.5 L719.4 1723.4 Z" fill="#565656" stroke="#2c2c2c" stroke-width="0.6" opacity="1" stroke-linejoin="round"/>
<path d="M741.2 1698.0 L755.7 1723.4 L772.0 1756.0 L793.7 1775.9 L759.3 1775.9 L741.2 1732.4 L730.3 1710.7 Z" fill="#8a8a8a" stroke="none" stroke-width="1" opacity="1" stroke-linejoin="round"/>
<path d="M759.3 1775.9 L793.7 1775.9 L817.2 1783.2 L810.0 1792.2 L786.4 1794.0 L752.0 1783.2 Z" fill="#b8b8b8" stroke="#666" stroke-width="0.5" opacity="1" stroke-linejoin="round"/>
<path d="M750.2 1665.4 C747.2 1666.0 737.5 1666.3 732.1 1669.0 C726.7 1671.7 720.6 1677.2 717.6 1681.7 C714.6 1686.2 714.0 1692.6 714.0 1696.2 C714.0 1699.8 717.0 1702.2 717.6 1703.4" fill="none" stroke="#444" stroke-width="9.1" stroke-linecap="round" stroke-linejoin="round" opacity="1"/>
<path d="M750.2 1665.4 C747.2 1666.0 737.5 1666.3 732.1 1669.0 C726.7 1671.7 720.6 1677.2 717.6 1681.7 C714.6 1686.2 714.0 1692.6 714.0 1696.2 C714.0 1699.8 717.0 1702.2 717.6 1703.4" fill="none" stroke="#8c8c8c" stroke-width="7.5" stroke-linecap="round" stroke-linejoin="round" opacity="1"/>
<path d="M749.5 1833.5 L812.4 1825.7 L862.9 1837.4 L921.2 1837.4 L890.1 1856.8 L862.9 1872.4 L781.4 1887.9 L765.8 1864.6 Z" fill="#5e5e5e" stroke="#2e2e2e" stroke-width="0.6" opacity="1" stroke-linejoin="round"/>
<path d="M812.4 1825.7 L851.3 1829.6 L862.9 1837.4 L816.3 1842.1 Z" fill="#a4a4a4" stroke="none" stroke-width="1" opacity="1" stroke-linejoin="round"/>
<path d="M901.3 1926.5 C903.0 1912.7 922.4 1900.3 934.9 1895.5 C947.4 1890.8 964.1 1894.2 976.2 1898.1 C988.2 1902.0 998.6 1909.7 1007.2 1918.8 C1015.8 1927.8 1019.2 1941.6 1027.8 1952.3 C1036.4 1963.1 1049.3 1968.2 1058.8 1983.3 C1068.2 1998.4 1083.7 2030.6 1084.6 2042.7 C1085.5 2054.7 1084.6 2057.7 1063.9 2055.6 C1043.3 2053.4 983.9 2042.7 960.7 2029.8 C937.5 2016.9 934.4 1995.3 924.6 1978.1 C914.7 1960.9 899.6 1940.3 901.3 1926.5 Z" fill="#b6b6b6" stroke="none" stroke-width="1" opacity="1" stroke-linejoin="round"/>
<path d="M901.3 1926.5 C897.9 1920.9 908.6 1911.4 914.2 1905.9 C919.8 1900.3 926.3 1895.7 934.9 1892.9 C943.5 1890.2 956.4 1887.8 965.9 1889.1 C975.3 1890.4 984.8 1895.7 991.7 1900.7 C998.6 1905.6 1005.0 1912.3 1007.2 1918.8 C1009.3 1925.2 1016.6 1936.0 1004.6 1939.4 C992.5 1942.9 952.1 1941.6 934.9 1939.4 C917.7 1937.3 904.8 1932.1 901.3 1926.5 Z" fill="#c6c6c6" stroke="none" stroke-width="1" opacity="1" stroke-linejoin="round"/>
<path d="M1002.0 2133.0 C985.2 2126.6 1000.3 2103.3 1004.6 2094.3 C1008.9 2085.3 1017.9 2081.0 1027.8 2078.8 C1037.7 2076.7 1053.2 2077.9 1063.9 2081.4 C1074.7 2084.8 1085.5 2090.8 1092.3 2099.5 C1099.2 2108.1 1120.3 2127.4 1105.2 2133.0 C1090.2 2138.6 1018.8 2139.5 1002.0 2133.0 Z" fill="#8e8e8e" stroke="none" stroke-width="1" opacity="1" stroke-linejoin="round"/>
<path d="M960.7 2042.7 C958.1 2035.4 967.6 2025.0 976.2 2019.4 C984.8 2013.8 1000.3 2009.1 1012.3 2009.1 C1024.4 2009.1 1039.0 2013.4 1048.5 2019.4 C1057.9 2025.5 1070.8 2037.9 1069.1 2045.2 C1067.4 2052.6 1051.0 2060.3 1038.1 2063.3 C1025.2 2066.3 1004.6 2066.8 991.7 2063.3 C978.8 2059.9 963.3 2050.0 960.7 2042.7 Z" fill="#a0a0a0" stroke="none" stroke-width="1" opacity="1" stroke-linejoin="round"/>
<path d="M934.9 1978.1 C933.2 1970.8 946.1 1960.1 955.5 1954.9 C965.0 1949.7 980.1 1946.7 991.7 1947.2 C1003.3 1947.6 1016.6 1951.9 1025.2 1957.5 C1033.8 1963.1 1045.4 1974.3 1043.3 1980.7 C1041.1 1987.2 1025.2 1993.2 1012.3 1996.2 C999.4 1999.2 978.8 2001.8 965.9 1998.8 C952.9 1995.8 936.6 1985.4 934.9 1978.1 Z" fill="#a8a8a8" stroke="none" stroke-width="1" opacity="1" stroke-linejoin="round"/>
<path d="M933.7 1826.0 L931.2 1826.7 L927.9 1827.5 L923.9 1828.5 L919.4 1829.8 L914.7 1831.2 L910.0 1832.9 L905.4 1834.8 L901.2 1836.9 L897.5 1839.4 L893.9 1842.0 L890.5 1844.8 L887.2 1847.8 L884.1 1851.0 L881.1 1854.4 L878.3 1857.8 L875.8 1861.4 L873.6 1865.2 L871.6 1869.1 L869.7 1873.1 L868.1 1877.3 L866.6 1881.5 L865.4 1885.9 L864.5 1890.4 L863.9 1895.0 L863.7 1899.6 L863.8 1904.3 L864.2 1909.1 L864.8 1913.9 L865.7 1918.6 L866.7 1923.3 L867.7 1928.0 L868.9 1932.6 L870.2 1937.3 L871.7 1941.9 L873.4 1946.6 L875.2 1951.2 L877.1 1955.7 L879.0 1960.2 L880.9 1964.7 L882.9 1969.0 L884.9 1973.6 L887.2 1978.4 L889.5 1983.3 L891.9 1988.0 L894.1 1992.5 L896.2 1996.5 L897.9 1999.8 L899.2 2002.4 L903.4 2000.4 L902.3 1997.7 L900.8 1994.3 L898.9 1990.2 L896.9 1985.7 L894.8 1980.8 L892.6 1975.9 L890.6 1971.1 L888.8 1966.6 L887.1 1962.1 L885.4 1957.7 L883.7 1953.1 L882.1 1948.6 L880.6 1944.1 L879.2 1939.6 L878.0 1935.1 L876.9 1930.7 L876.1 1926.2 L875.3 1921.7 L874.6 1917.2 L874.1 1912.7 L873.7 1908.3 L873.6 1904.1 L873.8 1900.0 L874.2 1896.1 L874.8 1892.3 L875.8 1888.6 L876.9 1884.8 L878.3 1881.2 L879.9 1877.7 L881.6 1874.2 L883.5 1870.9 L885.5 1867.7 L887.6 1864.6 L889.9 1861.5 L892.3 1858.5 L895.0 1855.6 L897.7 1852.9 L900.6 1850.3 L903.6 1847.9 L906.6 1845.7 L909.9 1843.7 L913.7 1841.8 L917.9 1840.0 L922.2 1838.4 L926.5 1836.9 L930.3 1835.5 L933.7 1834.4 L936.1 1833.4 Z" fill="#8e8e8e" stroke="#444" stroke-width="0.6" stroke-linejoin="round" opacity="1"/>
<path d="M933.7 1826.0 L931.2 1826.7 L927.9 1827.5 L923.9 1828.5 L919.4 1829.8 L914.7 1831.2 L910.0 1832.9 L905.4 1834.8 L901.2 1836.9 L897.5 1839.4 L893.9 1842.0 L890.5 1844.8 L887.2 1847.8 L884.1 1851.0 L881.1 1854.4 L878.3 1857.8 L875.8 1861.4 L873.6 1865.2 L871.6 1869.1 L869.7 1873.1 L868.1 1877.3 L866.6 1881.5 L865.4 1885.9 L864.5 1890.4 L863.9 1895.0 L863.7 1899.6 L863.8 1904.3 L864.2 1909.1 L864.8 1913.9 L865.7 1918.6 L866.7 1923.3 L867.7 1928.0 L868.9 1932.6 L870.2 1937.3 L871.7 1941.9 L873.4 1946.6 L875.2 1951.2 L877.1 1955.7 L879.0 1960.2 L880.9 1964.7 L882.9 1969.0 L884.9 1973.6 L887.2 1978.4 L889.5 1983.3 L891.9 1988.0 L894.1 1992.5 L896.2 1996.5 L897.9 1999.8 L899.2 2002.4" fill="none" stroke="#c4c4c4" stroke-width="1.2" stroke-linecap="round"/>
<path d="M927.6 2051.7 L926.7 2048.1 L925.3 2043.3 L923.5 2037.8 L921.5 2031.6 L919.4 2025.1 L917.3 2018.6 L915.4 2012.3 L913.9 2006.4 L912.4 2000.9 L910.9 1995.2 L909.5 1989.6 L908.2 1984.1 L907.0 1978.6 L906.0 1973.3 L905.2 1968.1 L904.6 1963.1 L904.1 1958.1 L903.6 1953.2 L903.3 1948.5 L903.2 1943.9 L903.3 1939.6 L903.6 1935.5 L904.1 1931.9 L904.8 1928.6 L905.5 1925.5 L906.4 1922.5 L907.4 1919.7 L908.7 1917.1 L910.1 1914.5 L911.6 1912.1 L913.4 1909.7 L915.2 1907.6 L917.0 1905.6 L919.1 1903.6 L921.4 1901.6 L924.0 1899.7 L926.7 1898.0 L929.6 1896.4 L932.4 1894.9 L935.3 1893.7 L938.1 1892.5 L941.1 1891.4 L944.3 1890.5 L947.5 1889.8 L950.6 1889.3 L953.8 1888.9 L956.7 1888.7 L959.5 1888.8 L962.2 1888.9 L965.0 1889.2 L967.9 1889.8 L970.9 1890.6 L974.0 1891.6 L976.9 1892.8 L979.8 1894.1 L982.5 1895.4 L985.0 1896.7 L987.4 1898.3 L990.0 1900.2 L992.5 1902.3 L995.0 1904.6 L997.5 1907.0 L999.9 1909.5 L1002.2 1911.8 L1004.4 1913.9 L1006.6 1916.3 L1008.7 1918.8 L1010.7 1921.4 L1012.7 1923.9 L1014.5 1926.2 L1016.1 1928.2 L1017.4 1929.6 L1027.9 1923.4 L1027.3 1921.7 L1026.6 1919.4 L1025.5 1916.6 L1024.2 1913.5 L1022.7 1910.2 L1021.1 1906.7 L1019.2 1903.2 L1017.2 1899.9 L1015.2 1896.9 L1013.1 1893.9 L1010.8 1890.7 L1008.3 1887.4 L1005.5 1884.2 L1002.5 1881.0 L999.2 1877.9 L995.7 1875.0 L992.0 1872.6 L988.2 1870.3 L984.3 1868.2 L980.1 1866.2 L975.8 1864.5 L971.3 1863.0 L966.7 1861.8 L961.9 1861.0 L957.1 1860.7 L952.3 1860.7 L947.4 1861.0 L942.6 1861.6 L937.9 1862.4 L933.2 1863.5 L928.6 1864.9 L924.2 1866.4 L919.9 1868.3 L915.6 1870.5 L911.4 1872.9 L907.3 1875.5 L903.4 1878.4 L899.6 1881.6 L896.0 1885.0 L892.7 1888.6 L889.8 1892.4 L887.2 1896.4 L884.8 1900.6 L882.7 1905.0 L880.8 1909.6 L879.3 1914.3 L878.1 1919.3 L877.2 1924.4 L876.9 1929.8 L877.1 1935.1 L877.5 1940.5 L878.1 1945.9 L879.0 1951.3 L880.1 1956.7 L881.2 1962.0 L882.6 1967.4 L884.1 1972.8 L885.9 1978.4 L887.8 1984.0 L889.9 1989.6 L892.1 1995.2 L894.4 2000.8 L896.7 2006.3 L899.1 2011.8 L901.8 2017.5 L904.8 2023.6 L908.0 2029.9 L911.2 2036.0 L914.2 2041.7 L917.1 2046.9 L919.5 2051.1 L921.5 2054.3 Z" fill="url(#garch)" stroke="#222" stroke-width="0.7" stroke-linejoin="round" opacity="1"/>
<path d="M921.5 2054.3 L919.5 2051.1 L917.1 2046.9 L914.2 2041.7 L911.2 2036.0 L908.0 2029.9 L904.8 2023.6 L901.8 2017.5 L899.1 2011.8 L896.7 2006.3 L894.4 2000.8 L892.1 1995.2 L889.9 1989.6 L887.8 1984.0 L885.9 1978.4 L884.1 1972.8 L882.6 1967.4 L881.2 1962.0 L880.1 1956.7 L879.0 1951.3 L878.1 1945.9 L877.5 1940.5 L877.1 1935.1 L876.9 1929.8 L877.2 1924.4 L878.1 1919.3 L879.3 1914.3 L880.8 1909.6 L882.7 1905.0 L884.8 1900.6 L887.2 1896.4 L889.8 1892.4 L892.7 1888.6 L896.0 1885.0 L899.6 1881.6 L903.4 1878.4 L907.3 1875.5 L911.4 1872.9 L915.6 1870.5 L919.9 1868.3 L924.2 1866.4 L928.6 1864.9 L933.2 1863.5 L937.9 1862.4 L942.6 1861.6 L947.4 1861.0 L952.3 1860.7 L957.1 1860.7 L961.9 1861.0 L966.7 1861.8 L971.3 1863.0 L975.8 1864.5 L980.1 1866.2 L984.3 1868.2 L988.2 1870.3 L992.0 1872.6 L995.7 1875.0 L999.2 1877.9 L1002.5 1881.0 L1005.5 1884.2 L1008.3 1887.4 L1010.8 1890.7 L1013.1 1893.9 L1015.2 1896.9 L1017.2 1899.9 L1019.2 1903.2 L1021.1 1906.7 L1022.7 1910.2 L1024.2 1913.5 L1025.5 1916.6 L1026.6 1919.4 L1027.3 1921.7 L1027.9 1923.4" fill="none" stroke="#b4b4b4" stroke-width="1.2" stroke-linecap="round"/>
<path d="M959.4 2105.3 L958.3 2101.6 L956.6 2096.8 L954.5 2091.2 L952.2 2085.0 L949.8 2078.5 L947.5 2071.9 L945.4 2065.6 L943.8 2059.8 L942.3 2054.3 L940.8 2048.7 L939.5 2043.1 L938.3 2037.6 L937.3 2032.2 L936.5 2027.1 L936.0 2022.1 L935.8 2017.4 L935.5 2012.8 L935.5 2008.3 L935.6 2003.8 L936.0 1999.5 L936.5 1995.5 L937.3 1991.7 L938.2 1988.2 L939.2 1985.0 L940.2 1982.1 L941.4 1979.3 L942.8 1976.6 L944.4 1974.0 L946.2 1971.5 L948.1 1969.0 L950.2 1966.6 L952.4 1964.4 L954.6 1962.1 L957.0 1959.9 L959.6 1957.8 L962.4 1955.8 L965.2 1954.0 L968.0 1952.4 L970.7 1951.1 L973.4 1950.0 L976.1 1949.2 L979.1 1948.5 L982.4 1948.0 L985.7 1947.6 L989.2 1947.5 L992.6 1947.6 L995.8 1947.8 L998.7 1948.2 L1001.4 1948.7 L1004.3 1949.5 L1007.2 1950.5 L1010.3 1951.8 L1013.3 1953.2 L1016.4 1954.9 L1019.3 1956.6 L1021.9 1958.2 L1024.4 1959.6 L1026.7 1961.2 L1029.0 1962.9 L1031.3 1964.9 L1033.6 1966.9 L1035.7 1969.1 L1037.8 1971.3 L1039.7 1973.3 L1041.5 1975.2 L1043.2 1977.4 L1044.9 1979.9 L1046.5 1982.4 L1048.0 1984.9 L1049.4 1987.2 L1050.7 1989.2 L1051.9 1990.7 L1063.1 1986.2 L1063.0 1984.5 L1062.8 1982.3 L1062.3 1979.6 L1061.7 1976.4 L1060.9 1973.0 L1059.9 1969.5 L1058.7 1965.8 L1057.2 1962.3 L1055.6 1959.1 L1053.9 1955.9 L1052.0 1952.6 L1049.9 1949.3 L1047.6 1945.9 L1045.0 1942.5 L1042.0 1939.2 L1038.9 1936.1 L1035.5 1933.4 L1031.9 1930.7 L1028.1 1928.1 L1024.0 1925.6 L1019.7 1923.2 L1015.1 1921.1 L1010.3 1919.2 L1005.3 1917.7 L1000.2 1916.7 L995.1 1916.0 L990.0 1915.6 L984.7 1915.5 L979.4 1915.7 L974.1 1916.3 L968.8 1917.2 L963.5 1918.5 L958.4 1920.2 L953.4 1922.3 L948.6 1924.7 L944.0 1927.4 L939.6 1930.3 L935.4 1933.4 L931.4 1936.8 L927.7 1940.2 L924.4 1944.0 L921.2 1947.9 L918.3 1952.1 L915.5 1956.5 L913.0 1961.1 L910.8 1966.0 L908.9 1971.1 L907.3 1976.4 L906.4 1981.9 L905.8 1987.4 L905.5 1993.0 L905.5 1998.7 L905.8 2004.3 L906.4 2010.0 L907.2 2015.7 L908.2 2021.4 L909.7 2027.2 L911.5 2033.0 L913.6 2038.8 L915.8 2044.5 L918.2 2050.2 L920.7 2055.8 L923.3 2061.3 L926.0 2066.8 L929.1 2072.6 L932.5 2078.7 L936.1 2084.9 L939.8 2091.0 L943.4 2096.7 L946.6 2101.8 L949.5 2106.0 L951.7 2109.1 Z" fill="url(#garch)" stroke="#222" stroke-width="0.7" stroke-linejoin="round" opacity="1"/>
<path d="M951.7 2109.1 L949.5 2106.0 L946.6 2101.8 L943.4 2096.7 L939.8 2091.0 L936.1 2084.9 L932.5 2078.7 L929.1 2072.6 L926.0 2066.8 L923.3 2061.3 L920.7 2055.8 L918.2 2050.2 L915.8 2044.5 L913.6 2038.8 L911.5 2033.0 L909.7 2027.2 L908.2 2021.4 L907.2 2015.7 L906.4 2010.0 L905.8 2004.3 L905.5 1998.7 L905.5 1993.0 L905.8 1987.4 L906.4 1981.9 L907.3 1976.4 L908.9 1971.1 L910.8 1966.0 L913.0 1961.1 L915.5 1956.5 L918.3 1952.1 L921.2 1947.9 L924.4 1944.0 L927.7 1940.2 L931.4 1936.8 L935.4 1933.4 L939.6 1930.3 L944.0 1927.4 L948.6 1924.7 L953.4 1922.3 L958.4 1920.2 L963.5 1918.5 L968.8 1917.2 L974.1 1916.3 L979.4 1915.7 L984.7 1915.5 L990.0 1915.6 L995.1 1916.0 L1000.2 1916.7 L1005.3 1917.7 L1010.3 1919.2 L1015.1 1921.1 L1019.7 1923.2 L1024.0 1925.6 L1028.1 1928.1 L1031.9 1930.7 L1035.5 1933.4 L1038.9 1936.1 L1042.0 1939.2 L1045.0 1942.5 L1047.6 1945.9 L1049.9 1949.3 L1052.0 1952.6 L1053.9 1955.9 L1055.6 1959.1 L1057.2 1962.3 L1058.7 1965.8 L1059.9 1969.5 L1060.9 1973.0 L1061.7 1976.4 L1062.3 1979.6 L1062.8 1982.3 L1063.0 1984.5 L1063.1 1986.2" fill="none" stroke="#b4b4b4" stroke-width="1.2" stroke-linecap="round"/>
<path d="M975.4 2122.0 L974.5 2118.7 L973.2 2114.3 L971.6 2109.3 L969.8 2103.8 L968.0 2098.2 L966.5 2092.6 L965.3 2087.5 L964.7 2083.1 L964.1 2078.8 L963.6 2074.3 L963.4 2069.8 L963.3 2065.5 L963.4 2061.3 L963.7 2057.3 L964.2 2053.7 L964.9 2050.3 L965.6 2047.0 L966.5 2043.8 L967.5 2040.8 L968.7 2037.9 L970.1 2035.2 L971.5 2032.7 L973.1 2030.4 L974.7 2028.4 L976.4 2026.4 L978.5 2024.3 L980.9 2022.2 L983.5 2020.1 L986.3 2018.2 L989.2 2016.5 L992.1 2015.0 L994.8 2013.8 L997.5 2012.9 L1000.4 2012.1 L1003.5 2011.5 L1006.8 2011.1 L1010.2 2010.9 L1013.7 2010.9 L1017.1 2011.0 L1020.3 2011.3 L1023.5 2011.7 L1026.7 2012.3 L1030.0 2013.1 L1033.3 2014.2 L1036.5 2015.3 L1039.5 2016.6 L1042.3 2018.0 L1044.8 2019.4 L1047.1 2020.8 L1049.5 2022.4 L1051.8 2024.3 L1054.2 2026.5 L1056.6 2028.9 L1058.9 2031.5 L1061.2 2034.2 L1063.3 2036.7 L1065.3 2039.1 L1067.3 2041.8 L1069.4 2045.0 L1071.3 2048.2 L1073.2 2051.4 L1074.9 2054.4 L1076.5 2057.0 L1077.9 2058.9 L1093.9 2052.3 L1093.6 2050.2 L1093.1 2047.4 L1092.4 2043.9 L1091.4 2040.0 L1090.2 2035.8 L1088.8 2031.4 L1087.2 2027.0 L1085.3 2022.8 L1083.2 2019.1 L1081.1 2015.5 L1078.7 2011.8 L1076.1 2008.0 L1073.2 2004.3 L1070.0 2000.6 L1066.4 1997.0 L1062.4 1993.6 L1058.2 1990.8 L1053.8 1988.3 L1049.3 1986.1 L1044.6 1984.1 L1039.8 1982.3 L1034.9 1980.8 L1029.9 1979.5 L1025.0 1978.6 L1020.0 1977.9 L1015.0 1977.5 L1009.8 1977.3 L1004.6 1977.4 L999.3 1977.8 L994.0 1978.5 L988.6 1979.7 L983.4 1981.2 L978.3 1983.1 L973.3 1985.3 L968.4 1987.8 L963.7 1990.7 L959.1 1993.9 L954.7 1997.3 L950.5 2001.1 L946.6 2005.3 L943.4 2009.8 L940.5 2014.5 L938.0 2019.4 L935.9 2024.4 L934.1 2029.5 L932.6 2034.7 L931.5 2040.0 L930.7 2045.3 L930.4 2050.9 L930.4 2056.5 L930.7 2062.2 L931.3 2067.8 L932.2 2073.4 L933.3 2079.0 L934.6 2084.5 L936.1 2090.0 L938.3 2095.9 L940.9 2101.9 L943.8 2107.9 L946.8 2113.6 L949.7 2118.9 L952.3 2123.6 L954.6 2127.3 L956.3 2130.0 Z" fill="url(#garch)" stroke="#222" stroke-width="0.7" stroke-linejoin="round" opacity="1"/>
<path d="M956.3 2130.0 L954.6 2127.3 L952.3 2123.6 L949.7 2118.9 L946.8 2113.6 L943.8 2107.9 L940.9 2101.9 L938.3 2095.9 L936.1 2090.0 L934.6 2084.5 L933.3 2079.0 L932.2 2073.4 L931.3 2067.8 L930.7 2062.2 L930.4 2056.5 L930.4 2050.9 L930.7 2045.3 L931.5 2040.0 L932.6 2034.7 L934.1 2029.5 L935.9 2024.4 L938.0 2019.4 L940.5 2014.5 L943.4 2009.8 L946.6 2005.3 L950.5 2001.1 L954.7 1997.3 L959.1 1993.9 L963.7 1990.7 L968.4 1987.8 L973.3 1985.3 L978.3 1983.1 L983.4 1981.2 L988.6 1979.7 L994.0 1978.5 L999.3 1977.8 L1004.6 1977.4 L1009.8 1977.3 L1015.0 1977.5 L1020.0 1977.9 L1025.0 1978.6 L1029.9 1979.5 L1034.9 1980.8 L1039.8 1982.3 L1044.6 1984.1 L1049.3 1986.1 L1053.8 1988.3 L1058.2 1990.8 L1062.4 1993.6 L1066.4 1997.0 L1070.0 2000.6 L1073.2 2004.3 L1076.1 2008.0 L1078.7 2011.8 L1081.1 2015.5 L1083.2 2019.1 L1085.3 2022.8 L1087.2 2027.0 L1088.8 2031.4 L1090.2 2035.8 L1091.4 2040.0 L1092.4 2043.9 L1093.1 2047.4 L1093.6 2050.2 L1093.9 2052.3" fill="none" stroke="#b4b4b4" stroke-width="1.2" stroke-linecap="round"/>
<path d="M1003.8 2132.4 L1003.8 2129.2 L1003.6 2125.0 L1003.4 2120.5 L1003.3 2115.6 L1003.2 2110.9 L1003.4 2106.5 L1003.7 2103.2 L1004.2 2101.1 L1004.8 2099.3 L1005.5 2097.3 L1006.4 2095.6 L1007.4 2094.0 L1008.5 2092.5 L1009.8 2091.0 L1011.4 2089.5 L1013.1 2088.1 L1015.0 2086.6 L1017.4 2085.0 L1020.1 2083.4 L1023.2 2082.0 L1026.4 2080.6 L1029.6 2079.4 L1032.7 2078.5 L1035.7 2077.8 L1038.6 2077.4 L1041.8 2077.1 L1045.1 2077.0 L1048.5 2077.1 L1052.0 2077.4 L1055.4 2077.8 L1058.7 2078.4 L1061.8 2079.2 L1064.8 2080.0 L1067.8 2081.1 L1070.9 2082.4 L1073.9 2083.8 L1076.9 2085.4 L1079.7 2087.2 L1082.4 2089.0 L1084.9 2090.8 L1087.1 2092.6 L1089.2 2094.5 L1091.2 2096.5 L1093.0 2098.7 L1094.8 2101.0 L1096.6 2103.4 L1098.3 2106.1 L1099.9 2108.7 L1101.3 2111.5 L1102.7 2114.9 L1104.2 2118.9 L1105.6 2123.1 L1106.9 2127.2 L1108.0 2131.1 L1109.1 2134.5 L1110.0 2137.1 L1136.6 2129.0 L1136.0 2126.6 L1135.2 2123.4 L1134.2 2119.4 L1133.0 2114.9 L1131.6 2110.0 L1130.0 2105.0 L1128.2 2100.0 L1126.1 2095.4 L1124.0 2091.4 L1121.9 2087.6 L1119.6 2083.9 L1117.1 2080.2 L1114.4 2076.7 L1111.5 2073.3 L1108.3 2070.0 L1104.9 2066.8 L1101.4 2063.9 L1097.6 2061.0 L1093.6 2058.3 L1089.5 2055.7 L1085.1 2053.3 L1080.6 2051.1 L1076.0 2049.1 L1071.2 2047.5 L1066.4 2046.1 L1061.5 2045.0 L1056.5 2044.1 L1051.3 2043.4 L1046.1 2043.0 L1040.8 2042.9 L1035.5 2043.1 L1030.2 2043.7 L1025.0 2044.6 L1019.8 2045.8 L1014.6 2047.4 L1009.5 2049.2 L1004.6 2051.3 L999.8 2053.6 L995.2 2056.3 L990.9 2059.2 L987.1 2062.4 L983.5 2065.8 L980.2 2069.6 L977.2 2073.6 L974.6 2077.9 L972.3 2082.5 L970.4 2087.3 L968.8 2092.7 L967.8 2098.8 L967.5 2105.1 L967.5 2111.3 L967.8 2117.2 L968.2 2122.6 L968.7 2127.4 L969.0 2131.1 L969.2 2133.6 Z" fill="url(#garch)" stroke="#222" stroke-width="0.7" stroke-linejoin="round" opacity="1"/>
<path d="M969.2 2133.6 L969.0 2131.1 L968.7 2127.4 L968.2 2122.6 L967.8 2117.2 L967.5 2111.3 L967.5 2105.1 L967.8 2098.8 L968.8 2092.7 L970.4 2087.3 L972.3 2082.5 L974.6 2077.9 L977.2 2073.6 L980.2 2069.6 L983.5 2065.8 L987.1 2062.4 L990.9 2059.2 L995.2 2056.3 L999.8 2053.6 L1004.6 2051.3 L1009.5 2049.2 L1014.6 2047.4 L1019.8 2045.8 L1025.0 2044.6 L1030.2 2043.7 L1035.5 2043.1 L1040.8 2042.9 L1046.1 2043.0 L1051.3 2043.4 L1056.5 2044.1 L1061.5 2045.0 L1066.4 2046.1 L1071.2 2047.5 L1076.0 2049.1 L1080.6 2051.1 L1085.1 2053.3 L1089.5 2055.7 L1093.6 2058.3 L1097.6 2061.0 L1101.4 2063.9 L1104.9 2066.8 L1108.3 2070.0 L1111.5 2073.3 L1114.4 2076.7 L1117.1 2080.2 L1119.6 2083.9 L1121.9 2087.6 L1124.0 2091.4 L1126.1 2095.4 L1128.2 2100.0 L1130.0 2105.0 L1131.6 2110.0 L1133.0 2114.9 L1134.2 2119.4 L1135.2 2123.4 L1136.0 2126.6 L1136.6 2129.0" fill="none" stroke="#b4b4b4" stroke-width="1.2" stroke-linecap="round"/>
<path d="M784.5 1794.7 C786.4 1790.8 789.5 1779.0 796.1 1771.4 C802.7 1763.7 816.8 1750.1 824.1 1748.8 C831.3 1747.5 835.7 1754.7 839.6 1763.6 C843.5 1772.5 844.8 1788.8 847.4 1802.4 C850.0 1816.0 851.3 1833.5 855.2 1845.2 C859.0 1856.8 864.9 1870.4 870.7 1872.4 C876.5 1874.3 883.6 1862.5 890.1 1856.8 C896.6 1851.1 900.5 1843.2 909.5 1838.2 C918.6 1833.1 932.2 1828.8 944.5 1826.5 C956.8 1824.2 970.4 1822.9 983.3 1824.2 C996.3 1825.5 1009.9 1829.4 1022.2 1834.3 C1034.5 1839.2 1046.8 1846.1 1057.1 1853.7 C1067.5 1861.3 1075.9 1872.5 1084.3 1880.1 C1092.7 1887.8 1099.8 1895.7 1107.6 1899.5 C1115.4 1903.4 1121.8 1905.4 1130.9 1903.4 C1140.0 1901.5 1151.6 1895.7 1162.0 1887.9 C1172.3 1880.1 1183.3 1866.4 1193.0 1856.8 C1202.7 1847.2 1210.5 1837.4 1220.2 1830.4 C1229.9 1823.4 1241.6 1816.3 1251.3 1814.9 C1261.0 1813.4 1268.8 1816.8 1278.5 1821.9 C1288.2 1826.9 1300.5 1836.7 1309.5 1845.2 C1318.6 1853.6 1327.0 1862.6 1332.8 1872.4 C1338.7 1882.1 1343.2 1893.1 1344.5 1903.4 C1345.8 1913.8 1345.1 1925.4 1340.6 1934.5 C1336.1 1943.6 1326.4 1950.0 1317.3 1957.8 C1308.2 1965.6 1294.6 1973.3 1286.2 1981.1 C1277.8 1988.9 1269.4 1996.6 1266.8 2004.4 C1264.2 2012.2 1265.5 2020.6 1270.7 2027.7 C1275.9 2034.8 1286.2 2040.7 1297.9 2047.1 C1309.5 2053.6 1327.0 2060.1 1340.6 2066.6 C1354.2 2073.0 1370.4 2079.5 1379.4 2086.0 C1388.5 2092.5 1392.4 2102.2 1395.0 2105.4" fill="none" stroke="#4a4a4a" stroke-width="9.6" stroke-linecap="round" stroke-linejoin="round" opacity="1"/>
<path d="M784.5 1794.7 C786.4 1790.8 789.5 1779.0 796.1 1771.4 C802.7 1763.7 816.8 1750.1 824.1 1748.8 C831.3 1747.5 835.7 1754.7 839.6 1763.6 C843.5 1772.5 844.8 1788.8 847.4 1802.4 C850.0 1816.0 851.3 1833.5 855.2 1845.2 C859.0 1856.8 864.9 1870.4 870.7 1872.4 C876.5 1874.3 883.6 1862.5 890.1 1856.8 C896.6 1851.1 900.5 1843.2 909.5 1838.2 C918.6 1833.1 932.2 1828.8 944.5 1826.5 C956.8 1824.2 970.4 1822.9 983.3 1824.2 C996.3 1825.5 1009.9 1829.4 1022.2 1834.3 C1034.5 1839.2 1046.8 1846.1 1057.1 1853.7 C1067.5 1861.3 1075.9 1872.5 1084.3 1880.1 C1092.7 1887.8 1099.8 1895.7 1107.6 1899.5 C1115.4 1903.4 1121.8 1905.4 1130.9 1903.4 C1140.0 1901.5 1151.6 1895.7 1162.0 1887.9 C1172.3 1880.1 1183.3 1866.4 1193.0 1856.8 C1202.7 1847.2 1210.5 1837.4 1220.2 1830.4 C1229.9 1823.4 1241.6 1816.3 1251.3 1814.9 C1261.0 1813.4 1268.8 1816.8 1278.5 1821.9 C1288.2 1826.9 1300.5 1836.7 1309.5 1845.2 C1318.6 1853.6 1327.0 1862.6 1332.8 1872.4 C1338.7 1882.1 1343.2 1893.1 1344.5 1903.4 C1345.8 1913.8 1345.1 1925.4 1340.6 1934.5 C1336.1 1943.6 1326.4 1950.0 1317.3 1957.8 C1308.2 1965.6 1294.6 1973.3 1286.2 1981.1 C1277.8 1988.9 1269.4 1996.6 1266.8 2004.4 C1264.2 2012.2 1265.5 2020.6 1270.7 2027.7 C1275.9 2034.8 1286.2 2040.7 1297.9 2047.1 C1309.5 2053.6 1327.0 2060.1 1340.6 2066.6 C1354.2 2073.0 1370.4 2079.5 1379.4 2086.0 C1388.5 2092.5 1392.4 2102.2 1395.0 2105.4" fill="none" stroke="#9a9a9a" stroke-width="8" stroke-linecap="round" stroke-linejoin="round" opacity="1"/>
<path d="M784.5 1794.7 C786.4 1790.8 789.5 1779.0 796.1 1771.4 C802.7 1763.7 816.8 1750.1 824.1 1748.8 C831.3 1747.5 835.7 1754.7 839.6 1763.6 C843.5 1772.5 844.8 1788.8 847.4 1802.4 C850.0 1816.0 851.3 1833.5 855.2 1845.2 C859.0 1856.8 864.9 1870.4 870.7 1872.4 C876.5 1874.3 883.6 1862.5 890.1 1856.8 C896.6 1851.1 900.5 1843.2 909.5 1838.2 C918.6 1833.1 932.2 1828.8 944.5 1826.5 C956.8 1824.2 970.4 1822.9 983.3 1824.2 C996.3 1825.5 1009.9 1829.4 1022.2 1834.3 C1034.5 1839.2 1046.8 1846.1 1057.1 1853.7 C1067.5 1861.3 1075.9 1872.5 1084.3 1880.1 C1092.7 1887.8 1099.8 1895.7 1107.6 1899.5 C1115.4 1903.4 1121.8 1905.4 1130.9 1903.4 C1140.0 1901.5 1151.6 1895.7 1162.0 1887.9 C1172.3 1880.1 1183.3 1866.4 1193.0 1856.8 C1202.7 1847.2 1210.5 1837.4 1220.2 1830.4 C1229.9 1823.4 1241.6 1816.3 1251.3 1814.9 C1261.0 1813.4 1268.8 1816.8 1278.5 1821.9 C1288.2 1826.9 1300.5 1836.7 1309.5 1845.2 C1318.6 1853.6 1327.0 1862.6 1332.8 1872.4 C1338.7 1882.1 1343.2 1893.1 1344.5 1903.4 C1345.8 1913.8 1345.1 1925.4 1340.6 1934.5 C1336.1 1943.6 1326.4 1950.0 1317.3 1957.8 C1308.2 1965.6 1294.6 1973.3 1286.2 1981.1 C1277.8 1988.9 1269.4 1996.6 1266.8 2004.4 C1264.2 2012.2 1265.5 2020.6 1270.7 2027.7 C1275.9 2034.8 1286.2 2040.7 1297.9 2047.1 C1309.5 2053.6 1327.0 2060.1 1340.6 2066.6 C1354.2 2073.0 1370.4 2079.5 1379.4 2086.0 C1388.5 2092.5 1392.4 2102.2 1395.0 2105.4" fill="none" stroke="#cdcdcd" stroke-width="2.8" stroke-linecap="round" stroke-linejoin="round" opacity="1"/>
<path d="M784.5 1794.7 C786.4 1790.8 789.5 1779.0 796.1 1771.4 C802.7 1763.7 817.5 1751.1 824.1 1748.8 C830.7 1746.6 833.8 1756.3 835.7 1757.8" fill="none" stroke="#333" stroke-width="9.6" stroke-linecap="round" stroke-linejoin="round" opacity="1"/>
<path d="M784.5 1794.7 C786.4 1790.8 789.5 1779.0 796.1 1771.4 C802.7 1763.7 817.5 1751.1 824.1 1748.8 C830.7 1746.6 833.8 1756.3 835.7 1757.8" fill="none" stroke="#555" stroke-width="8" stroke-linecap="round" stroke-linejoin="round" opacity="1"/>
<path d="M975.6 1717.8 C979.4 1713.2 989.8 1697.7 998.9 1690.6 C1007.9 1683.4 1019.6 1677.4 1029.9 1675.0 C1040.3 1672.7 1051.9 1674.0 1061.0 1676.6 C1070.1 1679.2 1078.5 1683.7 1084.3 1690.6 C1090.1 1697.4 1094.4 1706.8 1095.9 1717.8 C1097.5 1728.8 1093.0 1743.7 1093.6 1756.6 C1094.3 1769.5 1095.6 1785.1 1099.8 1795.4 C1104.1 1805.8 1111.5 1813.6 1119.2 1818.7 C1127.0 1823.9 1136.1 1825.9 1146.4 1826.5 C1156.8 1827.2 1170.4 1825.2 1181.4 1822.6 C1192.4 1820.0 1203.5 1814.3 1212.4 1811.0 C1221.4 1807.6 1231.2 1803.9 1235.0 1802.4" fill="none" stroke="#555" stroke-width="9.6" stroke-linecap="round" stroke-linejoin="round" opacity="1"/>
<path d="M975.6 1717.8 C979.4 1713.2 989.8 1697.7 998.9 1690.6 C1007.9 1683.4 1019.6 1677.4 1029.9 1675.0 C1040.3 1672.7 1051.9 1674.0 1061.0 1676.6 C1070.1 1679.2 1078.5 1683.7 1084.3 1690.6 C1090.1 1697.4 1094.4 1706.8 1095.9 1717.8 C1097.5 1728.8 1093.0 1743.7 1093.6 1756.6 C1094.3 1769.5 1095.6 1785.1 1099.8 1795.4 C1104.1 1805.8 1111.5 1813.6 1119.2 1818.7 C1127.0 1823.9 1136.1 1825.9 1146.4 1826.5 C1156.8 1827.2 1170.4 1825.2 1181.4 1822.6 C1192.4 1820.0 1203.5 1814.3 1212.4 1811.0 C1221.4 1807.6 1231.2 1803.9 1235.0 1802.4" fill="none" stroke="#a8a8a8" stroke-width="8" stroke-linecap="round" stroke-linejoin="round" opacity="1"/>
<path d="M975.6 1717.8 C979.4 1713.2 989.8 1697.7 998.9 1690.6 C1007.9 1683.4 1019.6 1677.4 1029.9 1675.0 C1040.3 1672.7 1051.9 1674.0 1061.0 1676.6 C1070.1 1679.2 1078.5 1683.7 1084.3 1690.6 C1090.1 1697.4 1094.4 1706.8 1095.9 1717.8 C1097.5 1728.8 1093.0 1743.7 1093.6 1756.6 C1094.3 1769.5 1095.6 1785.1 1099.8 1795.4 C1104.1 1805.8 1111.5 1813.6 1119.2 1818.7 C1127.0 1823.9 1136.1 1825.9 1146.4 1826.5 C1156.8 1827.2 1170.4 1825.2 1181.4 1822.6 C1192.4 1820.0 1203.5 1814.3 1212.4 1811.0 C1221.4 1807.6 1231.2 1803.9 1235.0 1802.4" fill="none" stroke="#d2d2d2" stroke-width="2.8" stroke-linecap="round" stroke-linejoin="round" opacity="1"/>
<path d="M975.6 1717.8 C979.4 1713.2 991.2 1697.2 998.9 1690.6 C1006.5 1684.0 1017.6 1680.2 1021.4 1678.1" fill="none" stroke="#6fa3a7" stroke-width="9.6" stroke-linecap="round" stroke-linejoin="round" opacity="1"/>
<path d="M975.6 1717.8 C979.4 1713.2 991.2 1697.2 998.9 1690.6 C1006.5 1684.0 1017.6 1680.2 1021.4 1678.1" fill="none" stroke="#b6e6e9" stroke-width="8" stroke-linecap="round" stroke-linejoin="round" opacity="1"/>
<path d="M975.6 1717.8 C973.6 1721.6 967.1 1730.7 963.9 1741.1 C960.7 1751.4 958.1 1767.0 956.1 1779.9 C954.2 1792.9 954.3 1809.2 952.3 1818.7 C950.2 1828.3 945.1 1834.3 943.7 1837.4" fill="none" stroke="#6fa3a7" stroke-width="10.1" stroke-linecap="round" stroke-linejoin="round" opacity="1"/>
<path d="M975.6 1717.8 C973.6 1721.6 967.1 1730.7 963.9 1741.1 C960.7 1751.4 958.1 1767.0 956.1 1779.9 C954.2 1792.9 954.3 1809.2 952.3 1818.7 C950.2 1828.3 945.1 1834.3 943.7 1837.4" fill="none" stroke="#b6e6e9" stroke-width="8.5" stroke-linecap="round" stroke-linejoin="round" opacity="1"/>
<path d="M975.6 1717.8 L940.6 1675.0 L971.7 1630.0 L942.2 1587.2" fill="none" stroke="#7db4b8" stroke-width="13.1" stroke-linecap="round" stroke-linejoin="round" opacity="1"/>
<path d="M975.6 1717.8 L940.6 1675.0 L971.7 1630.0 L942.2 1587.2" fill="none" stroke="#b9e9eb" stroke-width="11.5" stroke-linecap="round" stroke-linejoin="round" opacity="1"/>
<circle cx="975.6" cy="1717.8" r="8.5" fill="#c2eff1" stroke="#7db4b8" stroke-width="0.8"/>
<circle cx="940.6" cy="1675.0" r="8.5" fill="#c2eff1" stroke="#7db4b8" stroke-width="0.8"/>
<circle cx="971.7" cy="1630.0" r="8.5" fill="#c2eff1" stroke="#7db4b8" stroke-width="0.8"/>
<circle cx="942.2" cy="1587.2" r="8.5" fill="#c2eff1" stroke="#7db4b8" stroke-width="0.8"/>
<path d="M928.2 1584.1 L899.0 1584.1" fill="none" stroke="#e23a3a" stroke-width="3.4" stroke-linecap="butt" stroke-linejoin="round" opacity="1"/>
<path d="M928.2 1590.4 L899.0 1590.4" fill="none" stroke="#e23a3a" stroke-width="3.4" stroke-linecap="butt" stroke-linejoin="round" opacity="1"/>
<path d="M942.2 1587.2 L953.8 1566.3" fill="none" stroke="#7db4b8" stroke-width="12.6" stroke-linecap="round" stroke-linejoin="round" opacity="1"/>
<path d="M942.2 1587.2 L953.8 1566.3" fill="none" stroke="#b9e9eb" stroke-width="11" stroke-linecap="round" stroke-linejoin="round" opacity="1"/>
<path d="M953.8 1566.3 L961.6 1554.6" fill="none" stroke="#e23a3a" stroke-width="11" stroke-linecap="round" stroke-linejoin="round" opacity="1"/>
<circle cx="961.6" cy="1553.8" r="8" fill="#e63a3a" stroke="#a02020" stroke-width="0.8"/>
<circle cx="897.1" cy="1587.2" r="8" fill="#e63a3a" stroke="#a02020" stroke-width="0.8"/>
<path d="M734.0 1674.3 L794.6 1670.4 L817.9 1637.7" fill="none" stroke="#7db4b8" stroke-width="13.1" stroke-linecap="round" stroke-linejoin="round" opacity="1"/>
<path d="M734.0 1674.3 L794.6 1670.4 L817.9 1637.7" fill="none" stroke="#b9e9eb" stroke-width="11.5" stroke-linecap="round" stroke-linejoin="round" opacity="1"/>
<path d="M794.6 1670.4 L804.7 1692.1" fill="none" stroke="#7db4b8" stroke-width="13.1" stroke-linecap="round" stroke-linejoin="round" opacity="1"/>
<path d="M794.6 1670.4 L804.7 1692.1" fill="none" stroke="#b9e9eb" stroke-width="11.5" stroke-linecap="round" stroke-linejoin="round" opacity="1"/>
<path d="M804.7 1692.1 L814.0 1711.5" fill="none" stroke="#e23a3a" stroke-width="11" stroke-linecap="round" stroke-linejoin="round" opacity="1"/>
<circle cx="817.9" cy="1637.7" r="8" fill="#c2eff1" stroke="#7db4b8" stroke-width="0.8"/>
<circle cx="814.0" cy="1711.5" r="7.5" fill="#e63a3a" stroke="#a02020" stroke-width="0.8"/>
<circle cx="794.6" cy="1670.4" r="8" fill="#c2eff1" stroke="#7db4b8" stroke-width="0.8"/>
<path d="M734.0 2051.0 L780.6 2031.6 L807.8 2023.8" fill="none" stroke="#a8a828" stroke-width="10.1" stroke-linecap="round" stroke-linejoin="round" opacity="1"/>
<path d="M734.0 2051.0 L780.6 2031.6 L807.8 2023.8" fill="none" stroke="#e6e63a" stroke-width="8.5" stroke-linecap="round" stroke-linejoin="round" opacity="1"/>
<path d="M772.8 2035.5 L811.7 2058.8 L850.5 2054.9" fill="none" stroke="#a8a828" stroke-width="10.1" stroke-linecap="round" stroke-linejoin="round" opacity="1"/>
<path d="M772.8 2035.5 L811.7 2058.8 L850.5 2054.9" fill="none" stroke="#e6e63a" stroke-width="8.5" stroke-linecap="round" stroke-linejoin="round" opacity="1"/>
<path d="M734.0 2086.0 L796.1 2097.6 L889.3 2097.6 L974.8 2086.0" fill="none" stroke="#a8a828" stroke-width="10.6" stroke-linecap="round" stroke-linejoin="round" opacity="1"/>
<path d="M734.0 2086.0 L796.1 2097.6 L889.3 2097.6 L974.8 2086.0" fill="none" stroke="#e6e63a" stroke-width="9" stroke-linecap="round" stroke-linejoin="round" opacity="1"/>
<path d="M734.0 2058.8 L792.3 2062.7 L862.2 2066.6 L935.9 2070.4" fill="none" stroke="#a8a828" stroke-width="10.6" stroke-linecap="round" stroke-linejoin="round" opacity="1"/>
<path d="M734.0 2058.8 L792.3 2062.7 L862.2 2066.6 L935.9 2070.4" fill="none" stroke="#e6e63a" stroke-width="9" stroke-linecap="round" stroke-linejoin="round" opacity="1"/>
<path d="M780.6 2097.6 L811.7 2105.4 L885.5 2105.4 L885.5 2126.0" fill="none" stroke="#a8a828" stroke-width="10.6" stroke-linecap="round" stroke-linejoin="round" opacity="1"/>
<path d="M780.6 2097.6 L811.7 2105.4 L885.5 2105.4 L885.5 2126.0" fill="none" stroke="#e6e63a" stroke-width="9" stroke-linecap="round" stroke-linejoin="round" opacity="1"/>
<path d="M850.5 2054.9 L866.0 2074.3" fill="none" stroke="#a8a828" stroke-width="10.6" stroke-linecap="round" stroke-linejoin="round" opacity="1"/>
<path d="M850.5 2054.9 L866.0 2074.3" fill="none" stroke="#e6e63a" stroke-width="9" stroke-linecap="round" stroke-linejoin="round" opacity="1"/>
<path d="M757.3 2058.8 L788.4 2070.4" fill="none" stroke="#4450d2" stroke-width="9" stroke-linecap="round" stroke-linejoin="round" opacity="1"/>
<path d="M788.4 2086.0 L862.2 2078.2" fill="none" stroke="#4450d2" stroke-width="9" stroke-linecap="round" stroke-linejoin="round" opacity="1"/>
<path d="M734.0 2078.2 L788.4 2076.3 L827.2 2074.3" fill="none" stroke="#e08a4e" stroke-width="9" stroke-linecap="round" stroke-linejoin="round" opacity="1"/>
<path d="M734.0 2074.3 L761.2 2074.3" fill="none" stroke="#4450d2" stroke-width="9" stroke-linecap="round" stroke-linejoin="round" opacity="1"/>
<path d="M494.4 1979.6 C509.3 1980.6 555.9 1986.4 583.7 1985.8 C611.5 1985.1 640.6 1978.6 661.4 1975.7 C682.1 1972.7 695.0 1968.3 708.0 1967.9 C720.9 1967.5 730.6 1969.2 739.0 1973.3 C747.4 1977.5 754.4 1985.0 758.4 1992.8 C762.5 2000.5 764.9 2010.2 763.1 2020.0 C761.3 2029.7 754.0 2041.3 747.6 2051.0 C741.1 2060.7 728.2 2073.7 724.3 2078.2" fill="none" stroke="#4a4a4a" stroke-width="9.6" stroke-linecap="round" stroke-linejoin="round" opacity="1"/>
<path d="M494.4 1979.6 C509.3 1980.6 555.9 1986.4 583.7 1985.8 C611.5 1985.1 640.6 1978.6 661.4 1975.7 C682.1 1972.7 695.0 1968.3 708.0 1967.9 C720.9 1967.5 730.6 1969.2 739.0 1973.3 C747.4 1977.5 754.4 1985.0 758.4 1992.8 C762.5 2000.5 764.9 2010.2 763.1 2020.0 C761.3 2029.7 754.0 2041.3 747.6 2051.0 C741.1 2060.7 728.2 2073.7 724.3 2078.2" fill="none" stroke="#7e7e7e" stroke-width="8" stroke-linecap="round" stroke-linejoin="round" opacity="1"/>
<path d="M494.4 1979.6 C509.3 1980.6 555.9 1986.4 583.7 1985.8 C611.5 1985.1 640.6 1978.6 661.4 1975.7 C682.1 1972.7 695.0 1968.3 708.0 1967.9 C720.9 1967.5 730.6 1969.2 739.0 1973.3 C747.4 1977.5 754.4 1985.0 758.4 1992.8 C762.5 2000.5 764.9 2010.2 763.1 2020.0 C761.3 2029.7 754.0 2041.3 747.6 2051.0 C741.1 2060.7 728.2 2073.7 724.3 2078.2" fill="none" stroke="#a8a8a8" stroke-width="2.8" stroke-linecap="round" stroke-linejoin="round" opacity="1"/>
<path d="M763.1 2020.0 C760.5 2025.1 754.0 2041.3 747.6 2051.0 C741.1 2060.7 728.2 2073.7 724.3 2078.2" fill="none" stroke="#6a6a6a" stroke-width="9.1" stroke-linecap="round" stroke-linejoin="round" opacity="1"/>
<path d="M763.1 2020.0 C760.5 2025.1 754.0 2041.3 747.6 2051.0 C741.1 2060.7 728.2 2073.7 724.3 2078.2" fill="none" stroke="#c4c4c4" stroke-width="7.5" stroke-linecap="round" stroke-linejoin="round" opacity="1"/>
<path d="M763.1 2020.0 C760.5 2025.1 754.0 2041.3 747.6 2051.0 C741.1 2060.7 728.2 2073.7 724.3 2078.2" fill="none" stroke="#e8e8e8" stroke-width="2.6" stroke-linecap="round" stroke-linejoin="round" opacity="1"/>
<text x="573" y="1586.9" font-size="36" text-anchor="middle" fill="#000" stroke="#fff" stroke-width="5.5" stroke-linejoin="round" paint-order="stroke" opacity="1">185</text>
<text x="468.2" y="1713.1" font-size="36" text-anchor="middle" fill="#000" stroke="#fff" stroke-width="5.5" stroke-linejoin="round" paint-order="stroke" opacity="1">74</text>
<text x="665.2" y="1684" font-size="36" text-anchor="middle" fill="#000" stroke="#fff" stroke-width="5.5" stroke-linejoin="round" paint-order="stroke" opacity="1">437</text>
<text x="760" y="1647" font-size="36" text-anchor="middle" fill="#000" stroke="#fff" stroke-width="5.5" stroke-linejoin="round" paint-order="stroke" opacity="1">436</text>
<text x="1005.9" y="1606.3" font-size="36" text-anchor="middle" fill="#000" stroke="#fff" stroke-width="5.5" stroke-linejoin="round" paint-order="stroke" opacity="1">442</text>
</g>
</svg>
</body></html>
